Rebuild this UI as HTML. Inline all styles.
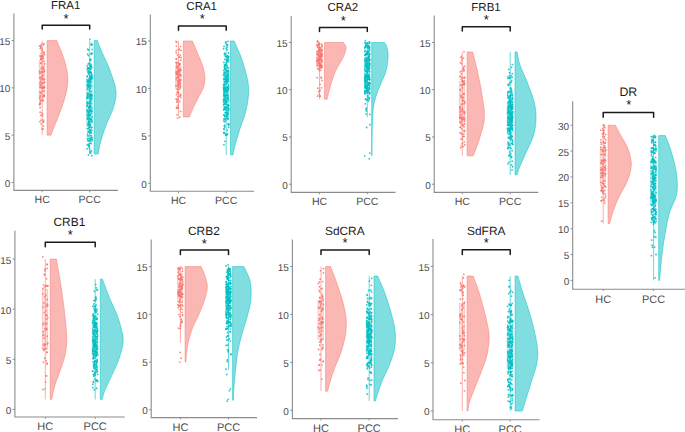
<!DOCTYPE html>
<html><head><meta charset="utf-8"><style>
html,body{margin:0;padding:0;background:#fff;}
body{width:685px;height:432px;overflow:hidden;}
svg{display:block;}
text{font-family:"Liberation Sans",sans-serif;text-rendering:geometricPrecision;}
.tk{font-size:10px;fill:#4d4d4d;}
.xl{fill:#4d4d4d;}
.tt{fill:#1a1a1a;}
.st{font-size:13px;fill:#111;}
</style></head><body>
<svg width="685" height="432" viewBox="0 0 685 432">
<rect width="685" height="432" fill="#fff"/>
<path d="M47.10,40.60 L56.80,40.60 L57.45,42.18 L58.11,43.75 L58.77,45.33 L59.43,46.90 L60.09,48.48 L60.73,50.05 L61.36,51.63 L61.96,53.20 L62.53,54.78 L63.09,56.36 L63.63,57.93 L64.14,59.51 L64.64,61.08 L65.10,62.66 L65.53,64.23 L65.92,65.81 L66.27,67.38 L66.60,68.96 L66.90,70.54 L67.17,72.11 L67.40,73.69 L67.58,75.26 L67.71,76.84 L67.79,78.41 L67.81,79.99 L67.77,81.56 L67.67,83.14 L67.53,84.72 L67.35,86.29 L67.12,87.87 L66.86,89.44 L66.58,91.02 L66.25,92.59 L65.87,94.17 L65.45,95.74 L65.00,97.32 L64.53,98.90 L64.04,100.47 L63.53,102.05 L63.03,103.62 L62.50,105.20 L61.95,106.77 L61.38,108.35 L60.80,109.92 L60.21,111.50 L59.61,113.08 L59.01,114.65 L58.40,116.23 L57.78,117.80 L57.14,119.38 L56.50,120.95 L55.85,122.53 L55.21,124.10 L54.57,125.68 L53.95,127.26 L53.34,128.83 L52.75,130.41 L52.17,131.98 L51.59,133.56 L51.00,135.13 L47.10,135.13 Z" fill="#FBB7B3" stroke="#F8766D" stroke-width="0.5"/>
<path d="M94.20,40.60 L97.30,40.60 L98.06,42.49 L98.82,44.38 L99.58,46.27 L100.34,48.16 L101.11,50.05 L101.90,51.94 L102.71,53.83 L103.56,55.73 L104.45,57.62 L105.34,59.51 L106.24,61.40 L107.11,63.29 L107.95,65.18 L108.74,67.07 L109.46,68.96 L110.14,70.85 L110.82,72.74 L111.51,74.63 L112.19,76.52 L112.84,78.41 L113.47,80.30 L114.05,82.19 L114.59,84.09 L115.06,85.98 L115.46,87.87 L115.77,89.76 L116.00,91.65 L116.09,93.54 L116.03,95.43 L115.84,97.32 L115.54,99.21 L115.14,101.10 L114.68,102.99 L114.16,104.88 L113.62,106.77 L113.06,108.66 L112.41,110.55 L111.68,112.45 L110.87,114.34 L110.02,116.23 L109.15,118.12 L108.28,120.01 L107.43,121.90 L106.64,123.79 L105.92,125.68 L105.22,127.57 L104.55,129.46 L103.89,131.35 L103.25,133.24 L102.64,135.13 L102.04,137.02 L101.47,138.91 L100.91,140.81 L100.40,142.70 L99.95,144.59 L99.56,146.48 L99.21,148.37 L98.87,150.26 L98.51,152.15 L98.20,154.04 L94.20,154.04 Z" fill="#80DEE0" stroke="#00BFC4" stroke-width="0.5"/>
<line x1="42.20" y1="40.60" x2="42.20" y2="135.13" stroke="#F8766D" stroke-width="0.6"/>
<rect x="39.10" y="60.04" width="5.6" height="37.45" fill="#F8766D" fill-opacity="0.22" stroke="#F8766D" stroke-width="0.5" stroke-opacity="0.5"/>
<g fill="#F8766D" fill-opacity="0.85"><circle cx="40.38" cy="101.91" r="0.9"/><circle cx="42.57" cy="72.35" r="0.9"/><circle cx="40.07" cy="87.24" r="0.9"/><circle cx="43.18" cy="129.00" r="0.9"/><circle cx="39.98" cy="92.27" r="0.9"/><circle cx="42.90" cy="121.55" r="0.9"/><circle cx="40.04" cy="73.60" r="0.9"/><circle cx="39.95" cy="78.31" r="0.9"/><circle cx="41.96" cy="43.85" r="0.9"/><circle cx="42.48" cy="51.32" r="0.9"/><circle cx="40.99" cy="123.81" r="0.9"/><circle cx="42.34" cy="76.37" r="0.9"/><circle cx="40.17" cy="85.47" r="0.9"/><circle cx="39.86" cy="72.67" r="0.9"/><circle cx="41.22" cy="93.51" r="0.9"/><circle cx="43.55" cy="61.35" r="0.9"/><circle cx="42.20" cy="87.49" r="0.9"/><circle cx="41.40" cy="69.18" r="0.9"/><circle cx="40.90" cy="45.50" r="0.9"/><circle cx="43.41" cy="95.29" r="0.9"/><circle cx="40.59" cy="63.01" r="0.9"/><circle cx="44.46" cy="54.83" r="0.9"/><circle cx="43.86" cy="69.83" r="0.9"/><circle cx="42.17" cy="78.23" r="0.9"/><circle cx="41.64" cy="55.69" r="0.9"/><circle cx="43.18" cy="87.31" r="0.9"/><circle cx="41.38" cy="71.88" r="0.9"/><circle cx="43.27" cy="56.59" r="0.9"/><circle cx="41.70" cy="99.61" r="0.9"/><circle cx="39.88" cy="121.56" r="0.9"/><circle cx="39.97" cy="96.67" r="0.9"/><circle cx="40.93" cy="85.29" r="0.9"/><circle cx="40.04" cy="55.55" r="0.9"/><circle cx="44.13" cy="43.53" r="0.9"/><circle cx="41.07" cy="120.08" r="0.9"/><circle cx="41.12" cy="79.69" r="0.9"/><circle cx="40.42" cy="100.56" r="0.9"/><circle cx="40.97" cy="83.52" r="0.9"/><circle cx="44.66" cy="70.92" r="0.9"/><circle cx="40.87" cy="47.19" r="0.9"/><circle cx="41.21" cy="53.36" r="0.9"/><circle cx="39.61" cy="98.78" r="0.9"/><circle cx="42.07" cy="129.23" r="0.9"/><circle cx="40.65" cy="115.37" r="0.9"/><circle cx="39.63" cy="104.46" r="0.9"/><circle cx="40.07" cy="77.71" r="0.9"/><circle cx="39.82" cy="103.69" r="0.9"/><circle cx="41.18" cy="56.55" r="0.9"/><circle cx="42.65" cy="90.90" r="0.9"/><circle cx="43.50" cy="126.03" r="0.9"/><circle cx="43.32" cy="100.38" r="0.9"/><circle cx="41.63" cy="57.86" r="0.9"/><circle cx="44.72" cy="87.38" r="0.9"/><circle cx="43.37" cy="82.89" r="0.9"/><circle cx="39.83" cy="83.12" r="0.9"/><circle cx="44.24" cy="52.73" r="0.9"/><circle cx="43.42" cy="82.84" r="0.9"/><circle cx="40.32" cy="103.82" r="0.9"/><circle cx="42.22" cy="56.33" r="0.9"/><circle cx="43.78" cy="52.49" r="0.9"/><circle cx="42.64" cy="55.32" r="0.9"/><circle cx="43.15" cy="100.31" r="0.9"/><circle cx="40.80" cy="47.64" r="0.9"/><circle cx="40.29" cy="45.72" r="0.9"/><circle cx="40.15" cy="112.20" r="0.9"/><circle cx="42.50" cy="115.74" r="0.9"/><circle cx="42.86" cy="75.01" r="0.9"/><circle cx="42.14" cy="58.78" r="0.9"/><circle cx="43.75" cy="71.86" r="0.9"/><circle cx="42.22" cy="48.91" r="0.9"/><circle cx="43.03" cy="66.93" r="0.9"/><circle cx="43.43" cy="44.83" r="0.9"/><circle cx="39.99" cy="98.65" r="0.9"/><circle cx="43.39" cy="68.45" r="0.9"/><circle cx="43.45" cy="120.16" r="0.9"/><circle cx="42.17" cy="50.33" r="0.9"/><circle cx="42.09" cy="100.86" r="0.9"/><circle cx="43.59" cy="122.02" r="0.9"/><circle cx="42.94" cy="87.99" r="0.9"/><circle cx="40.37" cy="95.66" r="0.9"/><circle cx="43.46" cy="58.25" r="0.9"/><circle cx="42.55" cy="114.37" r="0.9"/><circle cx="39.92" cy="103.13" r="0.9"/><circle cx="43.09" cy="78.79" r="0.9"/><circle cx="43.11" cy="96.67" r="0.9"/><circle cx="42.29" cy="87.93" r="0.9"/><circle cx="42.02" cy="88.02" r="0.9"/><circle cx="44.25" cy="95.40" r="0.9"/><circle cx="44.69" cy="63.86" r="0.9"/><circle cx="39.69" cy="104.57" r="0.9"/><circle cx="43.86" cy="79.70" r="0.9"/><circle cx="41.94" cy="113.09" r="0.9"/><circle cx="40.69" cy="59.35" r="0.9"/><circle cx="40.70" cy="81.52" r="0.9"/><circle cx="40.34" cy="48.72" r="0.9"/><circle cx="44.55" cy="79.52" r="0.9"/><circle cx="43.87" cy="86.66" r="0.9"/><circle cx="44.21" cy="91.10" r="0.9"/><circle cx="40.80" cy="87.46" r="0.9"/><circle cx="42.13" cy="72.00" r="0.9"/><circle cx="39.62" cy="46.12" r="0.9"/><circle cx="41.94" cy="83.48" r="0.9"/><circle cx="40.33" cy="56.70" r="0.9"/><circle cx="41.24" cy="58.90" r="0.9"/><circle cx="39.61" cy="71.15" r="0.9"/><circle cx="43.96" cy="54.05" r="0.9"/><circle cx="44.42" cy="96.16" r="0.9"/><circle cx="44.29" cy="87.70" r="0.9"/><circle cx="41.54" cy="67.53" r="0.9"/><circle cx="44.79" cy="82.20" r="0.9"/><circle cx="41.48" cy="76.60" r="0.9"/><circle cx="41.03" cy="63.43" r="0.9"/><circle cx="40.13" cy="107.48" r="0.9"/><circle cx="41.09" cy="92.50" r="0.9"/><circle cx="40.90" cy="59.17" r="0.9"/></g>
<line x1="89.70" y1="40.60" x2="89.70" y2="154.04" stroke="#00BFC4" stroke-width="0.6"/>
<rect x="86.60" y="78.93" width="5.6" height="44.36" fill="#00BFC4" fill-opacity="0.22" stroke="#00BFC4" stroke-width="0.5" stroke-opacity="0.5"/>
<g fill="#00BFC4" fill-opacity="0.85"><circle cx="87.98" cy="96.46" r="0.9"/><circle cx="91.12" cy="111.19" r="0.9"/><circle cx="87.76" cy="82.71" r="0.9"/><circle cx="91.70" cy="74.05" r="0.9"/><circle cx="88.10" cy="72.20" r="0.9"/><circle cx="90.76" cy="66.51" r="0.9"/><circle cx="87.90" cy="123.72" r="0.9"/><circle cx="88.39" cy="49.99" r="0.9"/><circle cx="89.82" cy="102.59" r="0.9"/><circle cx="88.81" cy="122.20" r="0.9"/><circle cx="92.17" cy="78.20" r="0.9"/><circle cx="87.63" cy="87.93" r="0.9"/><circle cx="87.63" cy="135.78" r="0.9"/><circle cx="92.22" cy="95.81" r="0.9"/><circle cx="90.91" cy="103.40" r="0.9"/><circle cx="88.12" cy="131.35" r="0.9"/><circle cx="87.66" cy="117.08" r="0.9"/><circle cx="89.12" cy="129.82" r="0.9"/><circle cx="89.17" cy="87.61" r="0.9"/><circle cx="90.71" cy="69.00" r="0.9"/><circle cx="90.39" cy="107.32" r="0.9"/><circle cx="87.84" cy="110.64" r="0.9"/><circle cx="89.20" cy="145.50" r="0.9"/><circle cx="91.82" cy="44.70" r="0.9"/><circle cx="90.08" cy="95.38" r="0.9"/><circle cx="89.29" cy="124.99" r="0.9"/><circle cx="90.86" cy="106.32" r="0.9"/><circle cx="91.13" cy="53.77" r="0.9"/><circle cx="91.53" cy="86.31" r="0.9"/><circle cx="90.44" cy="109.91" r="0.9"/><circle cx="88.73" cy="140.87" r="0.9"/><circle cx="87.61" cy="95.28" r="0.9"/><circle cx="91.17" cy="79.27" r="0.9"/><circle cx="90.37" cy="103.72" r="0.9"/><circle cx="89.30" cy="81.09" r="0.9"/><circle cx="90.33" cy="140.09" r="0.9"/><circle cx="90.61" cy="79.18" r="0.9"/><circle cx="88.05" cy="140.36" r="0.9"/><circle cx="91.15" cy="95.24" r="0.9"/><circle cx="89.65" cy="107.05" r="0.9"/><circle cx="87.30" cy="85.59" r="0.9"/><circle cx="87.94" cy="118.08" r="0.9"/><circle cx="91.99" cy="127.29" r="0.9"/><circle cx="87.63" cy="118.70" r="0.9"/><circle cx="89.91" cy="96.16" r="0.9"/><circle cx="89.76" cy="105.52" r="0.9"/><circle cx="91.41" cy="78.20" r="0.9"/><circle cx="89.23" cy="125.52" r="0.9"/><circle cx="88.19" cy="114.54" r="0.9"/><circle cx="89.14" cy="74.97" r="0.9"/><circle cx="87.74" cy="93.74" r="0.9"/><circle cx="88.95" cy="131.69" r="0.9"/><circle cx="88.53" cy="121.21" r="0.9"/><circle cx="87.17" cy="98.31" r="0.9"/><circle cx="89.29" cy="127.47" r="0.9"/><circle cx="88.93" cy="80.03" r="0.9"/><circle cx="88.27" cy="135.93" r="0.9"/><circle cx="91.99" cy="137.77" r="0.9"/><circle cx="88.24" cy="145.34" r="0.9"/><circle cx="89.14" cy="72.72" r="0.9"/><circle cx="87.77" cy="67.65" r="0.9"/><circle cx="91.31" cy="77.83" r="0.9"/><circle cx="89.54" cy="111.24" r="0.9"/><circle cx="88.28" cy="131.94" r="0.9"/><circle cx="88.94" cy="121.43" r="0.9"/><circle cx="91.36" cy="43.67" r="0.9"/><circle cx="89.53" cy="114.87" r="0.9"/><circle cx="89.95" cy="114.10" r="0.9"/><circle cx="91.44" cy="133.05" r="0.9"/><circle cx="91.52" cy="53.74" r="0.9"/><circle cx="89.06" cy="108.98" r="0.9"/><circle cx="89.32" cy="69.03" r="0.9"/><circle cx="87.11" cy="148.70" r="0.9"/><circle cx="88.56" cy="70.86" r="0.9"/><circle cx="88.67" cy="115.70" r="0.9"/><circle cx="89.33" cy="123.44" r="0.9"/><circle cx="90.53" cy="119.00" r="0.9"/><circle cx="91.93" cy="44.83" r="0.9"/><circle cx="87.40" cy="125.46" r="0.9"/><circle cx="91.81" cy="108.42" r="0.9"/><circle cx="87.83" cy="103.20" r="0.9"/><circle cx="90.39" cy="88.18" r="0.9"/><circle cx="87.16" cy="114.97" r="0.9"/><circle cx="90.51" cy="66.86" r="0.9"/><circle cx="87.63" cy="133.89" r="0.9"/><circle cx="88.31" cy="124.26" r="0.9"/><circle cx="88.90" cy="119.25" r="0.9"/><circle cx="91.80" cy="122.17" r="0.9"/><circle cx="87.97" cy="140.66" r="0.9"/><circle cx="90.26" cy="71.77" r="0.9"/><circle cx="90.58" cy="125.02" r="0.9"/><circle cx="91.20" cy="81.56" r="0.9"/><circle cx="88.13" cy="67.99" r="0.9"/><circle cx="89.86" cy="77.16" r="0.9"/><circle cx="89.38" cy="87.35" r="0.9"/><circle cx="89.99" cy="71.78" r="0.9"/><circle cx="88.32" cy="128.22" r="0.9"/><circle cx="89.66" cy="91.19" r="0.9"/><circle cx="89.53" cy="111.33" r="0.9"/><circle cx="89.66" cy="96.50" r="0.9"/><circle cx="89.91" cy="39.36" r="0.9"/><circle cx="87.13" cy="98.06" r="0.9"/><circle cx="89.53" cy="149.07" r="0.9"/><circle cx="90.56" cy="138.39" r="0.9"/><circle cx="89.05" cy="125.06" r="0.9"/><circle cx="92.10" cy="49.41" r="0.9"/><circle cx="90.41" cy="85.56" r="0.9"/><circle cx="87.25" cy="128.67" r="0.9"/><circle cx="90.65" cy="135.31" r="0.9"/><circle cx="88.82" cy="122.12" r="0.9"/><circle cx="89.76" cy="80.21" r="0.9"/><circle cx="91.77" cy="155.66" r="0.9"/><circle cx="90.83" cy="76.31" r="0.9"/><circle cx="88.86" cy="116.37" r="0.9"/><circle cx="89.00" cy="147.02" r="0.9"/><circle cx="89.83" cy="107.51" r="0.9"/><circle cx="88.20" cy="81.94" r="0.9"/><circle cx="89.30" cy="107.22" r="0.9"/><circle cx="91.40" cy="120.44" r="0.9"/><circle cx="91.40" cy="119.21" r="0.9"/><circle cx="89.72" cy="114.95" r="0.9"/><circle cx="89.73" cy="109.81" r="0.9"/><circle cx="90.50" cy="69.63" r="0.9"/><circle cx="88.82" cy="107.11" r="0.9"/><circle cx="88.66" cy="107.42" r="0.9"/><circle cx="90.40" cy="99.98" r="0.9"/><circle cx="87.31" cy="79.97" r="0.9"/><circle cx="91.71" cy="111.69" r="0.9"/><circle cx="87.36" cy="138.74" r="0.9"/><circle cx="87.13" cy="96.85" r="0.9"/><circle cx="91.89" cy="141.02" r="0.9"/><circle cx="90.52" cy="129.85" r="0.9"/><circle cx="91.83" cy="98.58" r="0.9"/><circle cx="90.31" cy="59.71" r="0.9"/><circle cx="90.72" cy="64.30" r="0.9"/><circle cx="90.64" cy="109.95" r="0.9"/><circle cx="90.57" cy="60.24" r="0.9"/><circle cx="91.07" cy="131.78" r="0.9"/><circle cx="88.04" cy="98.18" r="0.9"/><circle cx="91.13" cy="137.50" r="0.9"/><circle cx="90.51" cy="72.63" r="0.9"/><circle cx="91.38" cy="66.33" r="0.9"/><circle cx="90.02" cy="60.46" r="0.9"/><circle cx="88.67" cy="86.52" r="0.9"/><circle cx="88.76" cy="83.34" r="0.9"/><circle cx="90.44" cy="103.68" r="0.9"/><circle cx="87.38" cy="105.32" r="0.9"/><circle cx="87.30" cy="105.73" r="0.9"/><circle cx="91.31" cy="98.04" r="0.9"/><circle cx="91.88" cy="67.76" r="0.9"/><circle cx="87.17" cy="102.76" r="0.9"/><circle cx="90.18" cy="97.63" r="0.9"/><circle cx="92.20" cy="139.62" r="0.9"/><circle cx="89.24" cy="146.12" r="0.9"/><circle cx="90.45" cy="97.96" r="0.9"/><circle cx="87.89" cy="84.87" r="0.9"/><circle cx="87.12" cy="69.69" r="0.9"/><circle cx="87.73" cy="93.11" r="0.9"/><circle cx="87.56" cy="94.57" r="0.9"/><circle cx="87.77" cy="49.18" r="0.9"/><circle cx="90.84" cy="72.60" r="0.9"/><circle cx="90.91" cy="100.19" r="0.9"/><circle cx="87.36" cy="144.90" r="0.9"/><circle cx="90.81" cy="66.04" r="0.9"/><circle cx="90.89" cy="64.11" r="0.9"/><circle cx="90.37" cy="95.76" r="0.9"/><circle cx="89.50" cy="127.71" r="0.9"/><circle cx="88.42" cy="93.74" r="0.9"/><circle cx="90.83" cy="152.91" r="0.9"/><circle cx="87.18" cy="76.00" r="0.9"/><circle cx="91.35" cy="143.61" r="0.9"/><circle cx="88.72" cy="80.42" r="0.9"/><circle cx="87.96" cy="85.99" r="0.9"/><circle cx="89.63" cy="85.34" r="0.9"/><circle cx="89.01" cy="63.08" r="0.9"/><circle cx="89.38" cy="112.07" r="0.9"/><circle cx="87.85" cy="102.01" r="0.9"/><circle cx="88.99" cy="68.78" r="0.9"/><circle cx="90.37" cy="82.04" r="0.9"/><circle cx="89.11" cy="85.79" r="0.9"/><circle cx="92.01" cy="116.80" r="0.9"/><circle cx="90.05" cy="151.50" r="0.9"/><circle cx="87.42" cy="81.20" r="0.9"/><circle cx="90.76" cy="93.84" r="0.9"/><circle cx="88.83" cy="138.40" r="0.9"/><circle cx="92.18" cy="77.88" r="0.9"/><circle cx="90.23" cy="143.17" r="0.9"/><circle cx="89.33" cy="126.18" r="0.9"/><circle cx="89.06" cy="86.06" r="0.9"/><circle cx="90.23" cy="80.79" r="0.9"/><circle cx="91.30" cy="127.76" r="0.9"/><circle cx="87.11" cy="109.92" r="0.9"/><circle cx="89.30" cy="89.71" r="0.9"/><circle cx="91.34" cy="78.39" r="0.9"/><circle cx="87.32" cy="105.91" r="0.9"/><circle cx="91.32" cy="45.01" r="0.9"/><circle cx="90.07" cy="132.82" r="0.9"/><circle cx="91.53" cy="94.62" r="0.9"/><circle cx="90.66" cy="59.19" r="0.9"/><circle cx="88.90" cy="121.53" r="0.9"/><circle cx="89.98" cy="67.65" r="0.9"/><circle cx="88.14" cy="68.33" r="0.9"/><circle cx="91.94" cy="130.07" r="0.9"/><circle cx="90.26" cy="126.58" r="0.9"/><circle cx="89.52" cy="117.81" r="0.9"/><circle cx="88.42" cy="73.62" r="0.9"/><circle cx="91.22" cy="73.56" r="0.9"/><circle cx="87.56" cy="89.31" r="0.9"/><circle cx="91.12" cy="66.26" r="0.9"/><circle cx="90.11" cy="121.47" r="0.9"/><circle cx="91.70" cy="54.07" r="0.9"/><circle cx="89.58" cy="123.95" r="0.9"/><circle cx="88.08" cy="71.57" r="0.9"/><circle cx="88.04" cy="68.14" r="0.9"/><circle cx="88.99" cy="82.09" r="0.9"/><circle cx="89.19" cy="78.47" r="0.9"/><circle cx="87.87" cy="103.62" r="0.9"/><circle cx="92.29" cy="75.69" r="0.9"/><circle cx="87.65" cy="103.61" r="0.9"/><circle cx="91.19" cy="91.49" r="0.9"/><circle cx="90.21" cy="130.96" r="0.9"/><circle cx="89.80" cy="140.63" r="0.9"/><circle cx="87.27" cy="111.86" r="0.9"/><circle cx="91.60" cy="150.87" r="0.9"/><circle cx="90.05" cy="76.96" r="0.9"/><circle cx="91.15" cy="75.43" r="0.9"/><circle cx="92.02" cy="111.15" r="0.9"/><circle cx="91.36" cy="139.00" r="0.9"/><circle cx="88.42" cy="144.22" r="0.9"/><circle cx="88.15" cy="84.09" r="0.9"/><circle cx="87.54" cy="85.20" r="0.9"/><circle cx="90.00" cy="140.40" r="0.9"/><circle cx="89.48" cy="65.33" r="0.9"/><circle cx="91.83" cy="120.56" r="0.9"/><circle cx="90.21" cy="152.31" r="0.9"/><circle cx="87.72" cy="119.12" r="0.9"/><circle cx="88.44" cy="111.89" r="0.9"/><circle cx="90.43" cy="101.68" r="0.9"/><circle cx="90.58" cy="115.37" r="0.9"/><circle cx="89.43" cy="95.15" r="0.9"/><circle cx="92.12" cy="53.16" r="0.9"/><circle cx="88.25" cy="63.92" r="0.9"/><circle cx="88.43" cy="154.82" r="0.9"/><circle cx="91.79" cy="95.76" r="0.9"/><circle cx="91.45" cy="135.93" r="0.9"/><circle cx="91.19" cy="113.35" r="0.9"/><circle cx="90.46" cy="118.83" r="0.9"/><circle cx="87.39" cy="76.91" r="0.9"/><circle cx="91.03" cy="72.21" r="0.9"/><circle cx="90.62" cy="84.06" r="0.9"/><circle cx="90.18" cy="106.91" r="0.9"/><circle cx="87.65" cy="54.13" r="0.9"/><circle cx="88.44" cy="55.60" r="0.9"/><circle cx="89.60" cy="132.73" r="0.9"/><circle cx="88.34" cy="113.24" r="0.9"/><circle cx="90.62" cy="130.58" r="0.9"/><circle cx="90.83" cy="95.64" r="0.9"/><circle cx="87.29" cy="65.95" r="0.9"/><circle cx="88.25" cy="111.80" r="0.9"/><circle cx="91.61" cy="76.51" r="0.9"/></g>
<path d="M13.90,13.60 V190.40 H118.00" fill="none" stroke="#8c8c8c" stroke-width="1.1"/>
<line x1="11.70" y1="182.40" x2="13.90" y2="182.40" stroke="#8c8c8c" stroke-width="1"/>
<text x="10.40" y="186.80" text-anchor="end" class="tk">0</text>
<line x1="11.70" y1="135.13" x2="13.90" y2="135.13" stroke="#8c8c8c" stroke-width="1"/>
<text x="10.40" y="139.53" text-anchor="end" class="tk">5</text>
<line x1="11.70" y1="87.87" x2="13.90" y2="87.87" stroke="#8c8c8c" stroke-width="1"/>
<text x="10.40" y="92.27" text-anchor="end" class="tk">10</text>
<line x1="11.70" y1="40.60" x2="13.90" y2="40.60" stroke="#8c8c8c" stroke-width="1"/>
<text x="10.40" y="45.00" text-anchor="end" class="tk">15</text>
<line x1="42.20" y1="190.40" x2="42.20" y2="192.20" stroke="#8c8c8c" stroke-width="1"/>
<text x="42.20" y="202.80" text-anchor="middle" class="xl" font-size="10.50">HC</text>
<line x1="89.70" y1="190.40" x2="89.70" y2="192.20" stroke="#8c8c8c" stroke-width="1"/>
<text x="89.70" y="202.80" text-anchor="middle" class="xl" font-size="10.50">PCC</text>
<text x="65.70" y="9.10" text-anchor="middle" class="tt" font-size="11.50">FRA1</text>
<text x="66.00" y="22.70" text-anchor="middle" class="st">*</text>
<path d="M42.20,29.10 V25.20 H89.70 V29.10" fill="none" stroke="#1a1a1a" stroke-width="1.5" stroke-linecap="round" stroke-linejoin="round"/>
<path d="M183.30,41.00 L192.40,41.00 L192.94,42.26 L193.48,43.53 L194.02,44.79 L194.57,46.06 L195.11,47.32 L195.65,48.59 L196.19,49.85 L196.73,51.12 L197.26,52.38 L197.79,53.65 L198.31,54.91 L198.83,56.18 L199.36,57.44 L199.90,58.71 L200.43,59.97 L200.96,61.24 L201.47,62.50 L201.95,63.77 L202.41,65.03 L202.83,66.30 L203.21,67.56 L203.56,68.83 L203.88,70.09 L204.17,71.36 L204.41,72.62 L204.61,73.89 L204.77,75.15 L204.87,76.42 L204.91,77.68 L204.90,78.95 L204.84,80.21 L204.74,81.48 L204.58,82.74 L204.37,84.01 L204.09,85.27 L203.76,86.54 L203.36,87.80 L202.86,89.07 L202.28,90.33 L201.62,91.60 L200.93,92.86 L200.21,94.13 L199.50,95.39 L198.81,96.66 L198.16,97.92 L197.52,99.18 L196.88,100.45 L196.23,101.71 L195.60,102.98 L194.96,104.24 L194.34,105.51 L193.74,106.77 L193.15,108.04 L192.59,109.30 L192.04,110.57 L191.51,111.83 L190.98,113.10 L190.46,114.36 L189.93,115.63 L189.40,116.89 L183.30,116.89 Z" fill="#FBB7B3" stroke="#F8766D" stroke-width="0.5"/>
<path d="M230.50,41.00 L234.20,41.00 L235.01,42.90 L235.84,44.79 L236.68,46.69 L237.51,48.59 L238.34,50.49 L239.15,52.38 L239.94,54.28 L240.69,56.18 L241.40,58.08 L242.08,59.97 L242.71,61.87 L243.31,63.77 L243.88,65.67 L244.42,67.56 L244.94,69.46 L245.43,71.36 L245.91,73.25 L246.39,75.15 L246.86,77.05 L247.30,78.95 L247.70,80.84 L248.05,82.74 L248.32,84.64 L248.51,86.54 L248.62,88.43 L248.66,90.33 L248.62,92.23 L248.53,94.13 L248.39,96.02 L248.21,97.92 L247.98,99.82 L247.73,101.71 L247.42,103.61 L247.06,105.51 L246.66,107.41 L246.22,109.30 L245.75,111.20 L245.24,113.10 L244.72,115.00 L244.15,116.89 L243.52,118.79 L242.85,120.69 L242.17,122.59 L241.48,124.48 L240.80,126.38 L240.15,128.28 L239.53,130.17 L238.93,132.07 L238.33,133.97 L237.74,135.87 L237.16,137.76 L236.60,139.66 L236.05,141.56 L235.52,143.46 L235.03,145.35 L234.57,147.25 L234.14,149.15 L233.73,151.05 L233.33,152.94 L233.10,154.84 L230.50,154.84 Z" fill="#80DEE0" stroke="#00BFC4" stroke-width="0.5"/>
<line x1="178.50" y1="41.00" x2="178.50" y2="116.89" stroke="#F8766D" stroke-width="0.6"/>
<rect x="175.40" y="66.18" width="5.6" height="22.55" fill="#F8766D" fill-opacity="0.22" stroke="#F8766D" stroke-width="0.5" stroke-opacity="0.5"/>
<g fill="#F8766D" fill-opacity="0.85"><circle cx="177.93" cy="85.16" r="0.9"/><circle cx="176.82" cy="67.02" r="0.9"/><circle cx="177.57" cy="99.05" r="0.9"/><circle cx="176.47" cy="62.34" r="0.9"/><circle cx="177.78" cy="96.67" r="0.9"/><circle cx="177.44" cy="107.80" r="0.9"/><circle cx="177.52" cy="54.89" r="0.9"/><circle cx="176.56" cy="64.82" r="0.9"/><circle cx="177.37" cy="81.26" r="0.9"/><circle cx="180.63" cy="95.61" r="0.9"/><circle cx="180.49" cy="46.62" r="0.9"/><circle cx="176.59" cy="63.16" r="0.9"/><circle cx="176.05" cy="41.50" r="0.9"/><circle cx="179.35" cy="56.58" r="0.9"/><circle cx="178.05" cy="105.26" r="0.9"/><circle cx="179.54" cy="49.26" r="0.9"/><circle cx="180.30" cy="74.46" r="0.9"/><circle cx="179.17" cy="64.88" r="0.9"/><circle cx="176.50" cy="108.29" r="0.9"/><circle cx="179.72" cy="69.38" r="0.9"/><circle cx="176.11" cy="98.99" r="0.9"/><circle cx="176.74" cy="72.30" r="0.9"/><circle cx="177.48" cy="102.29" r="0.9"/><circle cx="176.10" cy="62.47" r="0.9"/><circle cx="179.22" cy="64.13" r="0.9"/><circle cx="180.27" cy="54.93" r="0.9"/><circle cx="179.63" cy="81.01" r="0.9"/><circle cx="178.16" cy="49.56" r="0.9"/><circle cx="177.72" cy="92.16" r="0.9"/><circle cx="180.24" cy="86.99" r="0.9"/><circle cx="177.39" cy="85.92" r="0.9"/><circle cx="180.34" cy="87.28" r="0.9"/><circle cx="176.15" cy="79.54" r="0.9"/><circle cx="176.48" cy="74.29" r="0.9"/><circle cx="176.99" cy="100.46" r="0.9"/><circle cx="179.80" cy="117.20" r="0.9"/><circle cx="179.51" cy="64.51" r="0.9"/><circle cx="179.79" cy="71.08" r="0.9"/><circle cx="177.36" cy="66.13" r="0.9"/><circle cx="180.82" cy="79.91" r="0.9"/><circle cx="180.74" cy="94.47" r="0.9"/><circle cx="179.74" cy="84.04" r="0.9"/><circle cx="179.17" cy="72.27" r="0.9"/><circle cx="176.18" cy="58.99" r="0.9"/><circle cx="178.13" cy="87.32" r="0.9"/><circle cx="180.73" cy="60.26" r="0.9"/><circle cx="179.86" cy="101.51" r="0.9"/><circle cx="179.55" cy="96.06" r="0.9"/><circle cx="177.26" cy="68.59" r="0.9"/><circle cx="180.94" cy="75.75" r="0.9"/><circle cx="178.73" cy="85.60" r="0.9"/><circle cx="176.21" cy="50.65" r="0.9"/><circle cx="178.04" cy="70.07" r="0.9"/><circle cx="177.51" cy="67.68" r="0.9"/><circle cx="179.58" cy="74.67" r="0.9"/><circle cx="177.14" cy="71.36" r="0.9"/><circle cx="178.58" cy="77.75" r="0.9"/><circle cx="180.77" cy="97.45" r="0.9"/><circle cx="177.46" cy="73.97" r="0.9"/><circle cx="176.64" cy="107.09" r="0.9"/><circle cx="177.63" cy="92.64" r="0.9"/><circle cx="178.75" cy="93.38" r="0.9"/><circle cx="176.78" cy="72.58" r="0.9"/><circle cx="179.01" cy="82.16" r="0.9"/><circle cx="179.88" cy="68.31" r="0.9"/><circle cx="176.50" cy="94.65" r="0.9"/><circle cx="177.77" cy="89.65" r="0.9"/><circle cx="176.21" cy="52.86" r="0.9"/><circle cx="176.92" cy="73.38" r="0.9"/><circle cx="178.23" cy="107.28" r="0.9"/><circle cx="177.59" cy="83.70" r="0.9"/><circle cx="177.79" cy="92.22" r="0.9"/><circle cx="176.27" cy="73.18" r="0.9"/><circle cx="181.06" cy="57.67" r="0.9"/><circle cx="176.34" cy="46.11" r="0.9"/><circle cx="181.00" cy="50.40" r="0.9"/><circle cx="176.47" cy="58.85" r="0.9"/><circle cx="178.16" cy="81.05" r="0.9"/><circle cx="178.72" cy="76.56" r="0.9"/><circle cx="180.68" cy="69.90" r="0.9"/><circle cx="179.16" cy="79.84" r="0.9"/><circle cx="179.29" cy="63.57" r="0.9"/><circle cx="177.18" cy="89.51" r="0.9"/><circle cx="176.04" cy="85.99" r="0.9"/><circle cx="180.27" cy="80.26" r="0.9"/><circle cx="176.87" cy="102.05" r="0.9"/><circle cx="180.30" cy="70.08" r="0.9"/><circle cx="176.78" cy="42.35" r="0.9"/><circle cx="180.22" cy="83.01" r="0.9"/><circle cx="177.60" cy="118.06" r="0.9"/><circle cx="180.19" cy="75.14" r="0.9"/><circle cx="177.82" cy="77.30" r="0.9"/><circle cx="177.82" cy="62.81" r="0.9"/><circle cx="177.14" cy="92.62" r="0.9"/><circle cx="178.85" cy="64.75" r="0.9"/><circle cx="180.16" cy="85.18" r="0.9"/><circle cx="180.61" cy="70.54" r="0.9"/><circle cx="178.47" cy="83.49" r="0.9"/><circle cx="176.72" cy="77.91" r="0.9"/><circle cx="178.92" cy="80.62" r="0.9"/><circle cx="179.48" cy="80.17" r="0.9"/><circle cx="178.20" cy="99.68" r="0.9"/><circle cx="176.37" cy="71.95" r="0.9"/><circle cx="178.19" cy="70.52" r="0.9"/><circle cx="179.66" cy="88.78" r="0.9"/><circle cx="180.27" cy="63.96" r="0.9"/><circle cx="179.99" cy="79.58" r="0.9"/><circle cx="177.37" cy="75.54" r="0.9"/><circle cx="178.58" cy="73.79" r="0.9"/><circle cx="177.66" cy="108.06" r="0.9"/><circle cx="179.36" cy="57.21" r="0.9"/><circle cx="180.60" cy="111.40" r="0.9"/><circle cx="177.44" cy="77.60" r="0.9"/><circle cx="178.83" cy="71.32" r="0.9"/><circle cx="176.92" cy="114.78" r="0.9"/></g>
<line x1="226.20" y1="41.00" x2="226.20" y2="154.84" stroke="#00BFC4" stroke-width="0.6"/>
<rect x="223.10" y="74.65" width="5.6" height="33.74" fill="#00BFC4" fill-opacity="0.22" stroke="#00BFC4" stroke-width="0.5" stroke-opacity="0.5"/>
<g fill="#00BFC4" fill-opacity="0.85"><circle cx="224.34" cy="115.43" r="0.9"/><circle cx="226.72" cy="65.24" r="0.9"/><circle cx="224.84" cy="74.79" r="0.9"/><circle cx="224.79" cy="81.82" r="0.9"/><circle cx="227.70" cy="75.55" r="0.9"/><circle cx="226.90" cy="110.98" r="0.9"/><circle cx="223.80" cy="109.98" r="0.9"/><circle cx="228.68" cy="88.65" r="0.9"/><circle cx="223.80" cy="128.81" r="0.9"/><circle cx="224.85" cy="91.72" r="0.9"/><circle cx="224.74" cy="98.06" r="0.9"/><circle cx="228.44" cy="86.98" r="0.9"/><circle cx="228.38" cy="109.87" r="0.9"/><circle cx="224.40" cy="95.18" r="0.9"/><circle cx="227.54" cy="71.16" r="0.9"/><circle cx="228.66" cy="108.90" r="0.9"/><circle cx="224.57" cy="64.69" r="0.9"/><circle cx="224.45" cy="66.41" r="0.9"/><circle cx="224.15" cy="72.51" r="0.9"/><circle cx="228.23" cy="74.76" r="0.9"/><circle cx="223.61" cy="70.47" r="0.9"/><circle cx="226.49" cy="84.09" r="0.9"/><circle cx="226.21" cy="91.61" r="0.9"/><circle cx="226.69" cy="76.10" r="0.9"/><circle cx="224.00" cy="144.70" r="0.9"/><circle cx="226.44" cy="112.80" r="0.9"/><circle cx="225.66" cy="79.43" r="0.9"/><circle cx="227.47" cy="49.81" r="0.9"/><circle cx="227.91" cy="113.91" r="0.9"/><circle cx="225.98" cy="100.08" r="0.9"/><circle cx="226.98" cy="65.55" r="0.9"/><circle cx="225.83" cy="79.92" r="0.9"/><circle cx="228.68" cy="100.39" r="0.9"/><circle cx="225.43" cy="90.30" r="0.9"/><circle cx="227.40" cy="99.40" r="0.9"/><circle cx="228.01" cy="113.18" r="0.9"/><circle cx="225.51" cy="118.08" r="0.9"/><circle cx="227.56" cy="80.66" r="0.9"/><circle cx="226.75" cy="91.72" r="0.9"/><circle cx="227.60" cy="44.98" r="0.9"/><circle cx="223.99" cy="93.44" r="0.9"/><circle cx="227.20" cy="82.15" r="0.9"/><circle cx="226.30" cy="113.80" r="0.9"/><circle cx="225.72" cy="69.96" r="0.9"/><circle cx="226.97" cy="79.92" r="0.9"/><circle cx="227.41" cy="90.29" r="0.9"/><circle cx="228.35" cy="97.92" r="0.9"/><circle cx="227.33" cy="130.07" r="0.9"/><circle cx="227.14" cy="112.89" r="0.9"/><circle cx="225.84" cy="100.89" r="0.9"/><circle cx="224.54" cy="87.32" r="0.9"/><circle cx="225.90" cy="134.32" r="0.9"/><circle cx="224.91" cy="121.77" r="0.9"/><circle cx="225.41" cy="73.22" r="0.9"/><circle cx="224.09" cy="89.12" r="0.9"/><circle cx="228.70" cy="124.56" r="0.9"/><circle cx="228.45" cy="73.01" r="0.9"/><circle cx="227.95" cy="106.26" r="0.9"/><circle cx="227.51" cy="87.62" r="0.9"/><circle cx="224.90" cy="81.61" r="0.9"/><circle cx="223.71" cy="88.11" r="0.9"/><circle cx="228.21" cy="113.37" r="0.9"/><circle cx="225.31" cy="79.27" r="0.9"/><circle cx="227.63" cy="75.11" r="0.9"/><circle cx="227.73" cy="116.56" r="0.9"/><circle cx="224.15" cy="84.74" r="0.9"/><circle cx="225.23" cy="101.29" r="0.9"/><circle cx="225.51" cy="42.19" r="0.9"/><circle cx="228.62" cy="87.07" r="0.9"/><circle cx="226.36" cy="116.43" r="0.9"/><circle cx="226.40" cy="134.32" r="0.9"/><circle cx="225.72" cy="64.91" r="0.9"/><circle cx="227.19" cy="59.25" r="0.9"/><circle cx="224.07" cy="95.32" r="0.9"/><circle cx="225.09" cy="89.11" r="0.9"/><circle cx="223.67" cy="87.86" r="0.9"/><circle cx="227.32" cy="67.41" r="0.9"/><circle cx="224.52" cy="66.89" r="0.9"/><circle cx="227.17" cy="102.06" r="0.9"/><circle cx="227.48" cy="93.68" r="0.9"/><circle cx="224.89" cy="141.35" r="0.9"/><circle cx="223.74" cy="99.48" r="0.9"/><circle cx="224.69" cy="68.21" r="0.9"/><circle cx="228.61" cy="67.81" r="0.9"/><circle cx="226.67" cy="90.65" r="0.9"/><circle cx="226.71" cy="135.17" r="0.9"/><circle cx="225.18" cy="68.99" r="0.9"/><circle cx="223.95" cy="85.46" r="0.9"/><circle cx="225.48" cy="65.95" r="0.9"/><circle cx="224.19" cy="129.37" r="0.9"/><circle cx="228.64" cy="127.33" r="0.9"/><circle cx="225.02" cy="54.20" r="0.9"/><circle cx="224.53" cy="125.18" r="0.9"/><circle cx="225.18" cy="100.13" r="0.9"/><circle cx="227.19" cy="87.15" r="0.9"/><circle cx="227.39" cy="91.44" r="0.9"/><circle cx="228.45" cy="57.54" r="0.9"/><circle cx="227.93" cy="123.90" r="0.9"/><circle cx="227.91" cy="78.83" r="0.9"/><circle cx="228.05" cy="41.42" r="0.9"/><circle cx="227.09" cy="77.74" r="0.9"/><circle cx="223.65" cy="99.32" r="0.9"/><circle cx="228.31" cy="107.97" r="0.9"/><circle cx="227.03" cy="97.29" r="0.9"/><circle cx="227.04" cy="116.59" r="0.9"/><circle cx="224.35" cy="126.29" r="0.9"/><circle cx="228.71" cy="125.44" r="0.9"/><circle cx="226.99" cy="107.94" r="0.9"/><circle cx="224.76" cy="116.29" r="0.9"/><circle cx="223.68" cy="74.29" r="0.9"/><circle cx="224.28" cy="90.02" r="0.9"/><circle cx="225.49" cy="107.99" r="0.9"/><circle cx="224.32" cy="108.97" r="0.9"/><circle cx="224.91" cy="109.01" r="0.9"/><circle cx="226.32" cy="43.62" r="0.9"/><circle cx="224.89" cy="83.79" r="0.9"/><circle cx="225.08" cy="112.67" r="0.9"/><circle cx="227.58" cy="133.98" r="0.9"/><circle cx="224.61" cy="53.17" r="0.9"/><circle cx="225.60" cy="76.66" r="0.9"/><circle cx="226.94" cy="81.45" r="0.9"/><circle cx="228.12" cy="90.23" r="0.9"/><circle cx="227.05" cy="68.12" r="0.9"/><circle cx="224.82" cy="76.71" r="0.9"/><circle cx="225.88" cy="97.34" r="0.9"/><circle cx="225.99" cy="76.42" r="0.9"/><circle cx="224.09" cy="85.64" r="0.9"/><circle cx="226.09" cy="103.00" r="0.9"/><circle cx="224.80" cy="95.78" r="0.9"/><circle cx="224.22" cy="132.36" r="0.9"/><circle cx="225.48" cy="95.39" r="0.9"/><circle cx="228.47" cy="61.90" r="0.9"/><circle cx="223.97" cy="104.18" r="0.9"/><circle cx="227.47" cy="55.66" r="0.9"/><circle cx="228.13" cy="58.85" r="0.9"/><circle cx="228.06" cy="105.73" r="0.9"/><circle cx="228.51" cy="75.56" r="0.9"/><circle cx="224.85" cy="102.45" r="0.9"/><circle cx="228.10" cy="70.26" r="0.9"/><circle cx="224.03" cy="78.88" r="0.9"/><circle cx="228.41" cy="95.81" r="0.9"/><circle cx="227.40" cy="115.30" r="0.9"/><circle cx="225.96" cy="112.59" r="0.9"/><circle cx="224.67" cy="72.06" r="0.9"/><circle cx="225.48" cy="120.34" r="0.9"/><circle cx="228.72" cy="60.00" r="0.9"/><circle cx="224.54" cy="85.48" r="0.9"/><circle cx="227.00" cy="112.44" r="0.9"/><circle cx="223.73" cy="104.65" r="0.9"/><circle cx="227.45" cy="73.49" r="0.9"/><circle cx="224.82" cy="108.41" r="0.9"/><circle cx="226.75" cy="61.59" r="0.9"/><circle cx="224.35" cy="109.07" r="0.9"/><circle cx="228.52" cy="110.95" r="0.9"/><circle cx="228.06" cy="118.16" r="0.9"/><circle cx="228.29" cy="70.77" r="0.9"/><circle cx="224.78" cy="94.37" r="0.9"/><circle cx="228.29" cy="104.80" r="0.9"/><circle cx="224.73" cy="103.83" r="0.9"/><circle cx="225.88" cy="107.02" r="0.9"/><circle cx="224.60" cy="95.02" r="0.9"/><circle cx="226.63" cy="75.77" r="0.9"/><circle cx="225.69" cy="107.99" r="0.9"/><circle cx="223.67" cy="74.64" r="0.9"/><circle cx="224.81" cy="69.23" r="0.9"/><circle cx="226.26" cy="71.09" r="0.9"/><circle cx="226.16" cy="104.18" r="0.9"/><circle cx="226.83" cy="57.35" r="0.9"/><circle cx="227.94" cy="118.65" r="0.9"/><circle cx="228.80" cy="123.84" r="0.9"/><circle cx="224.78" cy="116.32" r="0.9"/><circle cx="225.27" cy="97.25" r="0.9"/><circle cx="225.38" cy="56.26" r="0.9"/><circle cx="223.72" cy="132.63" r="0.9"/><circle cx="224.44" cy="91.67" r="0.9"/><circle cx="223.60" cy="101.32" r="0.9"/><circle cx="224.94" cy="88.67" r="0.9"/><circle cx="226.52" cy="62.28" r="0.9"/><circle cx="224.32" cy="95.78" r="0.9"/><circle cx="224.23" cy="87.65" r="0.9"/><circle cx="224.38" cy="84.34" r="0.9"/><circle cx="226.32" cy="56.13" r="0.9"/><circle cx="228.21" cy="89.73" r="0.9"/><circle cx="224.82" cy="65.77" r="0.9"/><circle cx="226.65" cy="78.43" r="0.9"/><circle cx="225.73" cy="118.84" r="0.9"/><circle cx="227.04" cy="57.15" r="0.9"/><circle cx="228.58" cy="109.08" r="0.9"/><circle cx="228.50" cy="77.33" r="0.9"/><circle cx="223.87" cy="118.82" r="0.9"/><circle cx="224.14" cy="91.60" r="0.9"/><circle cx="225.11" cy="92.35" r="0.9"/><circle cx="228.63" cy="56.75" r="0.9"/><circle cx="225.78" cy="110.09" r="0.9"/><circle cx="228.01" cy="109.66" r="0.9"/><circle cx="227.00" cy="71.86" r="0.9"/><circle cx="224.21" cy="79.16" r="0.9"/><circle cx="227.02" cy="59.98" r="0.9"/><circle cx="227.77" cy="119.24" r="0.9"/><circle cx="228.60" cy="71.34" r="0.9"/><circle cx="224.00" cy="46.50" r="0.9"/><circle cx="226.57" cy="101.65" r="0.9"/><circle cx="227.20" cy="88.32" r="0.9"/><circle cx="224.83" cy="59.44" r="0.9"/><circle cx="226.32" cy="48.47" r="0.9"/><circle cx="223.98" cy="85.16" r="0.9"/><circle cx="226.85" cy="80.28" r="0.9"/><circle cx="227.09" cy="115.04" r="0.9"/><circle cx="223.65" cy="121.04" r="0.9"/><circle cx="227.13" cy="89.87" r="0.9"/><circle cx="226.97" cy="94.05" r="0.9"/><circle cx="228.58" cy="85.25" r="0.9"/><circle cx="224.81" cy="115.10" r="0.9"/><circle cx="228.58" cy="81.18" r="0.9"/><circle cx="225.73" cy="134.98" r="0.9"/><circle cx="228.28" cy="56.44" r="0.9"/><circle cx="227.42" cy="99.24" r="0.9"/><circle cx="227.05" cy="95.48" r="0.9"/><circle cx="224.26" cy="133.42" r="0.9"/><circle cx="224.72" cy="99.18" r="0.9"/><circle cx="223.79" cy="101.52" r="0.9"/><circle cx="225.71" cy="90.40" r="0.9"/><circle cx="224.00" cy="95.34" r="0.9"/><circle cx="228.50" cy="52.98" r="0.9"/><circle cx="225.45" cy="87.70" r="0.9"/><circle cx="225.87" cy="89.10" r="0.9"/><circle cx="226.10" cy="76.94" r="0.9"/><circle cx="227.12" cy="45.06" r="0.9"/><circle cx="225.52" cy="81.56" r="0.9"/><circle cx="227.59" cy="60.00" r="0.9"/><circle cx="226.94" cy="61.72" r="0.9"/><circle cx="227.27" cy="47.09" r="0.9"/><circle cx="224.62" cy="106.83" r="0.9"/><circle cx="225.16" cy="79.09" r="0.9"/><circle cx="227.87" cy="115.01" r="0.9"/><circle cx="228.02" cy="97.88" r="0.9"/><circle cx="226.66" cy="71.18" r="0.9"/><circle cx="223.68" cy="114.87" r="0.9"/><circle cx="227.37" cy="71.39" r="0.9"/><circle cx="223.96" cy="90.73" r="0.9"/><circle cx="224.50" cy="54.48" r="0.9"/><circle cx="223.62" cy="48.85" r="0.9"/><circle cx="224.98" cy="127.10" r="0.9"/><circle cx="228.73" cy="105.72" r="0.9"/><circle cx="224.19" cy="96.04" r="0.9"/><circle cx="228.64" cy="79.02" r="0.9"/><circle cx="225.34" cy="108.45" r="0.9"/><circle cx="225.26" cy="81.08" r="0.9"/><circle cx="226.09" cy="63.87" r="0.9"/><circle cx="223.89" cy="88.60" r="0.9"/><circle cx="224.44" cy="119.21" r="0.9"/><circle cx="226.85" cy="83.11" r="0.9"/><circle cx="224.97" cy="73.19" r="0.9"/><circle cx="227.39" cy="80.58" r="0.9"/><circle cx="226.16" cy="87.32" r="0.9"/><circle cx="228.43" cy="109.57" r="0.9"/><circle cx="223.87" cy="62.45" r="0.9"/><circle cx="227.20" cy="95.54" r="0.9"/><circle cx="227.33" cy="104.79" r="0.9"/><circle cx="227.75" cy="81.01" r="0.9"/></g>
<path d="M150.30,14.40 V191.30 H254.00" fill="none" stroke="#8c8c8c" stroke-width="1.1"/>
<line x1="148.10" y1="183.30" x2="150.30" y2="183.30" stroke="#8c8c8c" stroke-width="1"/>
<text x="146.80" y="187.70" text-anchor="end" class="tk">0</text>
<line x1="148.10" y1="135.87" x2="150.30" y2="135.87" stroke="#8c8c8c" stroke-width="1"/>
<text x="146.80" y="140.27" text-anchor="end" class="tk">5</text>
<line x1="148.10" y1="88.43" x2="150.30" y2="88.43" stroke="#8c8c8c" stroke-width="1"/>
<text x="146.80" y="92.83" text-anchor="end" class="tk">10</text>
<line x1="148.10" y1="41.00" x2="150.30" y2="41.00" stroke="#8c8c8c" stroke-width="1"/>
<text x="146.80" y="45.40" text-anchor="end" class="tk">15</text>
<line x1="178.50" y1="191.30" x2="178.50" y2="193.10" stroke="#8c8c8c" stroke-width="1"/>
<text x="178.50" y="203.70" text-anchor="middle" class="xl" font-size="10.50">HC</text>
<line x1="226.20" y1="191.30" x2="226.20" y2="193.10" stroke="#8c8c8c" stroke-width="1"/>
<text x="226.20" y="203.70" text-anchor="middle" class="xl" font-size="10.50">PCC</text>
<text x="201.70" y="9.75" text-anchor="middle" class="tt" font-size="11.50">CRA1</text>
<text x="202.40" y="23.40" text-anchor="middle" class="st">*</text>
<path d="M178.50,30.30 V26.00 H226.20 V30.30" fill="none" stroke="#1a1a1a" stroke-width="1.5" stroke-linecap="round" stroke-linejoin="round"/>
<path d="M324.40,42.50 L343.40,42.50 L344.12,43.44 L344.84,44.39 L345.40,45.33 L345.80,46.28 L346.08,47.22 L346.15,48.17 L345.98,49.11 L345.76,50.06 L345.51,51.00 L345.23,51.95 L344.93,52.89 L344.60,53.84 L344.25,54.78 L343.88,55.73 L343.48,56.67 L343.06,57.61 L342.62,58.56 L342.14,59.50 L341.62,60.45 L341.07,61.39 L340.50,62.34 L339.91,63.28 L339.32,64.23 L338.73,65.17 L338.16,66.12 L337.60,67.06 L337.07,68.01 L336.58,68.95 L336.13,69.90 L335.71,70.84 L335.30,71.78 L334.92,72.73 L334.55,73.67 L334.19,74.62 L333.85,75.56 L333.52,76.51 L333.19,77.45 L332.87,78.40 L332.55,79.34 L332.23,80.29 L331.92,81.23 L331.61,82.18 L331.31,83.12 L331.02,84.07 L330.73,85.01 L330.45,85.95 L330.18,86.90 L329.91,87.84 L329.64,88.79 L329.38,89.73 L329.13,90.68 L328.87,91.62 L328.64,92.57 L328.41,93.51 L328.20,94.46 L328.00,95.40 L327.80,96.35 L327.60,97.29 L327.41,98.24 L327.20,99.18 L324.40,99.18 Z" fill="#FBB7B3" stroke="#F8766D" stroke-width="0.5"/>
<path d="M371.70,42.50 L384.50,42.50 L385.63,44.39 L386.67,46.28 L387.23,48.17 L387.61,50.06 L387.90,51.95 L388.08,53.84 L388.13,55.73 L388.06,57.61 L387.92,59.50 L387.74,61.39 L387.50,63.28 L387.22,65.17 L386.87,67.06 L386.48,68.95 L386.03,70.84 L385.51,72.73 L384.85,74.62 L384.07,76.51 L383.21,78.40 L382.32,80.29 L381.45,82.18 L380.64,84.07 L379.87,85.95 L379.09,87.84 L378.32,89.73 L377.57,91.62 L376.87,93.51 L376.23,95.40 L375.66,97.29 L375.14,99.18 L374.65,101.07 L374.22,102.96 L373.84,104.85 L373.52,106.74 L373.27,108.63 L373.06,110.52 L372.90,112.41 L372.77,114.29 L372.67,116.18 L372.58,118.07 L372.51,119.96 L372.45,121.85 L372.39,123.74 L372.33,125.63 L372.26,127.52 L372.20,129.41 L372.15,131.30 L372.12,133.19 L372.09,135.08 L372.06,136.97 L372.04,138.86 L372.01,140.75 L371.99,142.63 L371.97,144.52 L371.95,146.41 L371.94,148.30 L371.93,150.19 L371.92,152.08 L371.91,153.97 L371.90,155.86 L371.70,155.86 Z" fill="#80DEE0" stroke="#00BFC4" stroke-width="0.5"/>
<line x1="319.50" y1="42.50" x2="319.50" y2="99.18" stroke="#F8766D" stroke-width="0.6"/>
<rect x="316.40" y="51.03" width="5.6" height="14.60" fill="#F8766D" fill-opacity="0.22" stroke="#F8766D" stroke-width="0.5" stroke-opacity="0.5"/>
<g fill="#F8766D" fill-opacity="0.85"><circle cx="320.57" cy="55.63" r="0.9"/><circle cx="317.84" cy="88.24" r="0.9"/><circle cx="318.73" cy="60.10" r="0.9"/><circle cx="317.21" cy="65.98" r="0.9"/><circle cx="320.44" cy="66.16" r="0.9"/><circle cx="319.19" cy="61.10" r="0.9"/><circle cx="319.89" cy="64.64" r="0.9"/><circle cx="321.48" cy="61.00" r="0.9"/><circle cx="318.65" cy="56.11" r="0.9"/><circle cx="321.81" cy="56.34" r="0.9"/><circle cx="321.66" cy="53.78" r="0.9"/><circle cx="317.64" cy="96.15" r="0.9"/><circle cx="318.89" cy="68.87" r="0.9"/><circle cx="316.92" cy="44.49" r="0.9"/><circle cx="320.99" cy="58.49" r="0.9"/><circle cx="316.93" cy="53.37" r="0.9"/><circle cx="319.05" cy="60.23" r="0.9"/><circle cx="319.86" cy="57.38" r="0.9"/><circle cx="319.03" cy="43.74" r="0.9"/><circle cx="321.87" cy="61.44" r="0.9"/><circle cx="320.10" cy="84.53" r="0.9"/><circle cx="318.86" cy="45.01" r="0.9"/><circle cx="321.60" cy="62.25" r="0.9"/><circle cx="321.00" cy="53.49" r="0.9"/><circle cx="322.05" cy="54.48" r="0.9"/><circle cx="318.56" cy="91.53" r="0.9"/><circle cx="318.26" cy="51.27" r="0.9"/><circle cx="317.72" cy="41.87" r="0.9"/><circle cx="319.44" cy="50.04" r="0.9"/><circle cx="321.70" cy="67.54" r="0.9"/><circle cx="321.74" cy="55.98" r="0.9"/><circle cx="317.68" cy="41.41" r="0.9"/><circle cx="319.88" cy="48.21" r="0.9"/><circle cx="319.95" cy="50.72" r="0.9"/><circle cx="321.75" cy="67.38" r="0.9"/><circle cx="320.94" cy="47.70" r="0.9"/><circle cx="318.34" cy="53.50" r="0.9"/><circle cx="321.43" cy="78.10" r="0.9"/><circle cx="320.68" cy="50.41" r="0.9"/><circle cx="320.70" cy="52.67" r="0.9"/><circle cx="317.41" cy="57.95" r="0.9"/><circle cx="320.65" cy="54.88" r="0.9"/><circle cx="320.30" cy="63.39" r="0.9"/><circle cx="318.83" cy="48.97" r="0.9"/><circle cx="321.80" cy="65.52" r="0.9"/><circle cx="319.12" cy="52.22" r="0.9"/><circle cx="321.10" cy="49.74" r="0.9"/><circle cx="319.27" cy="47.10" r="0.9"/><circle cx="318.99" cy="43.19" r="0.9"/><circle cx="319.36" cy="63.19" r="0.9"/><circle cx="320.80" cy="70.35" r="0.9"/><circle cx="320.43" cy="57.63" r="0.9"/><circle cx="322.04" cy="80.38" r="0.9"/><circle cx="320.75" cy="56.33" r="0.9"/><circle cx="320.21" cy="95.95" r="0.9"/><circle cx="318.20" cy="55.21" r="0.9"/><circle cx="317.07" cy="53.84" r="0.9"/><circle cx="317.35" cy="46.28" r="0.9"/><circle cx="321.54" cy="51.09" r="0.9"/><circle cx="319.32" cy="66.88" r="0.9"/><circle cx="320.64" cy="64.45" r="0.9"/><circle cx="318.68" cy="58.76" r="0.9"/><circle cx="317.86" cy="47.11" r="0.9"/><circle cx="321.14" cy="77.21" r="0.9"/><circle cx="317.87" cy="54.47" r="0.9"/><circle cx="318.65" cy="55.83" r="0.9"/><circle cx="321.74" cy="49.29" r="0.9"/><circle cx="320.99" cy="60.50" r="0.9"/><circle cx="321.65" cy="44.24" r="0.9"/><circle cx="321.61" cy="53.40" r="0.9"/><circle cx="321.95" cy="45.90" r="0.9"/><circle cx="320.18" cy="55.92" r="0.9"/><circle cx="321.35" cy="87.78" r="0.9"/><circle cx="317.41" cy="45.56" r="0.9"/><circle cx="321.09" cy="66.31" r="0.9"/><circle cx="320.77" cy="65.08" r="0.9"/><circle cx="319.31" cy="70.62" r="0.9"/><circle cx="321.90" cy="55.91" r="0.9"/><circle cx="317.73" cy="68.75" r="0.9"/><circle cx="319.78" cy="65.60" r="0.9"/><circle cx="317.77" cy="60.59" r="0.9"/><circle cx="319.35" cy="58.86" r="0.9"/><circle cx="318.29" cy="47.57" r="0.9"/><circle cx="319.78" cy="44.03" r="0.9"/><circle cx="319.96" cy="96.39" r="0.9"/><circle cx="321.51" cy="54.84" r="0.9"/><circle cx="321.89" cy="59.97" r="0.9"/><circle cx="317.63" cy="63.63" r="0.9"/><circle cx="321.93" cy="66.34" r="0.9"/><circle cx="319.75" cy="90.75" r="0.9"/><circle cx="317.05" cy="61.27" r="0.9"/><circle cx="317.54" cy="61.38" r="0.9"/><circle cx="320.17" cy="66.33" r="0.9"/><circle cx="321.83" cy="49.87" r="0.9"/><circle cx="318.78" cy="44.22" r="0.9"/><circle cx="320.20" cy="67.50" r="0.9"/><circle cx="321.39" cy="56.46" r="0.9"/><circle cx="318.77" cy="50.26" r="0.9"/><circle cx="318.46" cy="62.81" r="0.9"/><circle cx="318.17" cy="65.09" r="0.9"/><circle cx="317.23" cy="51.36" r="0.9"/><circle cx="319.78" cy="48.34" r="0.9"/><circle cx="319.54" cy="57.01" r="0.9"/><circle cx="321.25" cy="67.58" r="0.9"/><circle cx="320.46" cy="54.95" r="0.9"/><circle cx="322.06" cy="46.47" r="0.9"/><circle cx="320.61" cy="59.89" r="0.9"/><circle cx="317.16" cy="77.77" r="0.9"/><circle cx="321.94" cy="50.87" r="0.9"/><circle cx="319.86" cy="68.40" r="0.9"/><circle cx="319.06" cy="94.51" r="0.9"/><circle cx="319.97" cy="90.12" r="0.9"/><circle cx="316.97" cy="60.89" r="0.9"/><circle cx="317.83" cy="58.99" r="0.9"/><circle cx="317.43" cy="41.25" r="0.9"/></g>
<line x1="367.30" y1="42.50" x2="367.30" y2="117.13" stroke="#00BFC4" stroke-width="0.6"/>
<rect x="364.20" y="58.47" width="5.6" height="26.18" fill="#00BFC4" fill-opacity="0.22" stroke="#00BFC4" stroke-width="0.5" stroke-opacity="0.5"/>
<g fill="#00BFC4" fill-opacity="0.85"><circle cx="367.28" cy="80.61" r="0.9"/><circle cx="366.97" cy="46.37" r="0.9"/><circle cx="367.75" cy="66.33" r="0.9"/><circle cx="366.13" cy="54.27" r="0.9"/><circle cx="365.14" cy="88.07" r="0.9"/><circle cx="367.28" cy="47.66" r="0.9"/><circle cx="365.30" cy="42.92" r="0.9"/><circle cx="367.32" cy="66.99" r="0.9"/><circle cx="366.64" cy="63.49" r="0.9"/><circle cx="369.34" cy="74.62" r="0.9"/><circle cx="369.80" cy="71.81" r="0.9"/><circle cx="369.85" cy="83.57" r="0.9"/><circle cx="366.04" cy="114.04" r="0.9"/><circle cx="367.88" cy="87.43" r="0.9"/><circle cx="369.89" cy="59.73" r="0.9"/><circle cx="368.91" cy="55.27" r="0.9"/><circle cx="365.11" cy="85.94" r="0.9"/><circle cx="365.61" cy="61.53" r="0.9"/><circle cx="367.90" cy="69.03" r="0.9"/><circle cx="367.11" cy="82.02" r="0.9"/><circle cx="365.20" cy="47.20" r="0.9"/><circle cx="365.24" cy="103.78" r="0.9"/><circle cx="368.08" cy="84.35" r="0.9"/><circle cx="364.92" cy="80.83" r="0.9"/><circle cx="369.69" cy="49.90" r="0.9"/><circle cx="366.91" cy="85.91" r="0.9"/><circle cx="368.32" cy="52.38" r="0.9"/><circle cx="368.08" cy="92.71" r="0.9"/><circle cx="367.66" cy="61.62" r="0.9"/><circle cx="365.68" cy="76.22" r="0.9"/><circle cx="369.72" cy="65.43" r="0.9"/><circle cx="369.86" cy="68.00" r="0.9"/><circle cx="369.06" cy="51.39" r="0.9"/><circle cx="368.56" cy="100.98" r="0.9"/><circle cx="369.58" cy="63.75" r="0.9"/><circle cx="369.27" cy="93.58" r="0.9"/><circle cx="368.79" cy="67.23" r="0.9"/><circle cx="366.32" cy="88.04" r="0.9"/><circle cx="368.85" cy="82.85" r="0.9"/><circle cx="369.09" cy="42.14" r="0.9"/><circle cx="365.59" cy="82.82" r="0.9"/><circle cx="367.65" cy="68.94" r="0.9"/><circle cx="366.45" cy="59.25" r="0.9"/><circle cx="365.50" cy="46.08" r="0.9"/><circle cx="365.86" cy="79.62" r="0.9"/><circle cx="366.41" cy="78.86" r="0.9"/><circle cx="366.27" cy="67.40" r="0.9"/><circle cx="366.75" cy="77.02" r="0.9"/><circle cx="366.96" cy="58.11" r="0.9"/><circle cx="364.77" cy="90.84" r="0.9"/><circle cx="366.65" cy="76.73" r="0.9"/><circle cx="369.69" cy="92.85" r="0.9"/><circle cx="366.02" cy="92.73" r="0.9"/><circle cx="365.22" cy="83.14" r="0.9"/><circle cx="367.73" cy="52.57" r="0.9"/><circle cx="365.98" cy="64.96" r="0.9"/><circle cx="369.74" cy="89.52" r="0.9"/><circle cx="369.85" cy="114.45" r="0.9"/><circle cx="365.35" cy="40.60" r="0.9"/><circle cx="364.81" cy="47.98" r="0.9"/><circle cx="368.91" cy="51.35" r="0.9"/><circle cx="367.56" cy="42.84" r="0.9"/><circle cx="365.50" cy="46.14" r="0.9"/><circle cx="366.08" cy="81.71" r="0.9"/><circle cx="365.69" cy="87.94" r="0.9"/><circle cx="367.68" cy="71.50" r="0.9"/><circle cx="367.97" cy="78.91" r="0.9"/><circle cx="369.49" cy="65.62" r="0.9"/><circle cx="367.65" cy="78.52" r="0.9"/><circle cx="369.52" cy="60.46" r="0.9"/><circle cx="365.23" cy="59.88" r="0.9"/><circle cx="368.37" cy="76.32" r="0.9"/><circle cx="368.06" cy="63.23" r="0.9"/><circle cx="369.57" cy="79.38" r="0.9"/><circle cx="367.02" cy="90.65" r="0.9"/><circle cx="368.65" cy="91.44" r="0.9"/><circle cx="365.27" cy="61.65" r="0.9"/><circle cx="368.91" cy="69.85" r="0.9"/><circle cx="368.26" cy="67.27" r="0.9"/><circle cx="365.36" cy="99.04" r="0.9"/><circle cx="367.26" cy="91.25" r="0.9"/><circle cx="369.64" cy="42.24" r="0.9"/><circle cx="367.02" cy="65.28" r="0.9"/><circle cx="367.98" cy="59.13" r="0.9"/><circle cx="369.75" cy="94.01" r="0.9"/><circle cx="365.10" cy="58.05" r="0.9"/><circle cx="364.79" cy="80.86" r="0.9"/><circle cx="366.84" cy="61.16" r="0.9"/><circle cx="366.85" cy="51.60" r="0.9"/><circle cx="368.75" cy="83.81" r="0.9"/><circle cx="365.94" cy="54.71" r="0.9"/><circle cx="367.26" cy="54.22" r="0.9"/><circle cx="368.06" cy="85.21" r="0.9"/><circle cx="366.38" cy="58.79" r="0.9"/><circle cx="369.88" cy="86.18" r="0.9"/><circle cx="366.45" cy="75.75" r="0.9"/><circle cx="365.19" cy="91.59" r="0.9"/><circle cx="366.90" cy="87.29" r="0.9"/><circle cx="368.33" cy="67.61" r="0.9"/><circle cx="369.05" cy="71.00" r="0.9"/><circle cx="367.72" cy="52.31" r="0.9"/><circle cx="366.69" cy="74.88" r="0.9"/><circle cx="367.93" cy="95.81" r="0.9"/><circle cx="367.52" cy="72.98" r="0.9"/><circle cx="367.26" cy="90.62" r="0.9"/><circle cx="365.23" cy="87.53" r="0.9"/><circle cx="368.86" cy="57.08" r="0.9"/><circle cx="365.30" cy="80.75" r="0.9"/><circle cx="369.23" cy="56.04" r="0.9"/><circle cx="368.64" cy="79.04" r="0.9"/><circle cx="369.27" cy="56.42" r="0.9"/><circle cx="366.14" cy="81.64" r="0.9"/><circle cx="369.00" cy="98.81" r="0.9"/><circle cx="365.99" cy="109.67" r="0.9"/><circle cx="366.67" cy="90.87" r="0.9"/><circle cx="368.66" cy="78.51" r="0.9"/><circle cx="366.43" cy="64.47" r="0.9"/><circle cx="369.53" cy="43.44" r="0.9"/><circle cx="369.45" cy="78.61" r="0.9"/><circle cx="369.86" cy="92.32" r="0.9"/><circle cx="367.09" cy="90.10" r="0.9"/><circle cx="368.48" cy="68.32" r="0.9"/><circle cx="367.94" cy="96.07" r="0.9"/><circle cx="368.00" cy="45.63" r="0.9"/><circle cx="368.37" cy="74.64" r="0.9"/><circle cx="364.77" cy="92.98" r="0.9"/><circle cx="369.26" cy="48.46" r="0.9"/><circle cx="368.81" cy="90.05" r="0.9"/><circle cx="368.07" cy="65.82" r="0.9"/><circle cx="365.94" cy="84.56" r="0.9"/><circle cx="365.88" cy="81.73" r="0.9"/><circle cx="367.45" cy="88.49" r="0.9"/><circle cx="366.39" cy="44.90" r="0.9"/><circle cx="369.66" cy="64.96" r="0.9"/><circle cx="369.65" cy="83.45" r="0.9"/><circle cx="367.38" cy="66.06" r="0.9"/><circle cx="366.50" cy="67.13" r="0.9"/><circle cx="365.61" cy="71.01" r="0.9"/><circle cx="368.73" cy="76.39" r="0.9"/><circle cx="364.80" cy="77.46" r="0.9"/><circle cx="367.26" cy="78.33" r="0.9"/><circle cx="365.55" cy="64.36" r="0.9"/><circle cx="366.77" cy="70.81" r="0.9"/><circle cx="369.53" cy="77.20" r="0.9"/><circle cx="366.41" cy="86.25" r="0.9"/><circle cx="365.40" cy="76.06" r="0.9"/><circle cx="368.34" cy="89.46" r="0.9"/><circle cx="365.33" cy="42.87" r="0.9"/><circle cx="367.34" cy="70.63" r="0.9"/><circle cx="368.97" cy="69.47" r="0.9"/><circle cx="365.83" cy="44.69" r="0.9"/><circle cx="368.91" cy="64.48" r="0.9"/><circle cx="364.71" cy="51.72" r="0.9"/><circle cx="369.00" cy="57.85" r="0.9"/><circle cx="368.69" cy="82.59" r="0.9"/><circle cx="368.00" cy="63.68" r="0.9"/><circle cx="369.82" cy="53.84" r="0.9"/><circle cx="369.04" cy="47.45" r="0.9"/><circle cx="366.33" cy="111.05" r="0.9"/><circle cx="368.26" cy="68.37" r="0.9"/><circle cx="367.65" cy="50.96" r="0.9"/><circle cx="366.01" cy="42.99" r="0.9"/><circle cx="365.40" cy="55.50" r="0.9"/><circle cx="369.32" cy="49.59" r="0.9"/><circle cx="368.33" cy="61.41" r="0.9"/><circle cx="365.33" cy="74.19" r="0.9"/><circle cx="368.68" cy="54.01" r="0.9"/><circle cx="365.21" cy="66.30" r="0.9"/><circle cx="368.71" cy="58.67" r="0.9"/><circle cx="368.94" cy="57.22" r="0.9"/><circle cx="365.25" cy="66.20" r="0.9"/><circle cx="369.28" cy="48.04" r="0.9"/><circle cx="365.08" cy="77.50" r="0.9"/><circle cx="365.17" cy="60.47" r="0.9"/><circle cx="365.13" cy="92.07" r="0.9"/><circle cx="368.15" cy="88.87" r="0.9"/><circle cx="366.83" cy="68.34" r="0.9"/><circle cx="364.86" cy="78.97" r="0.9"/><circle cx="365.96" cy="46.78" r="0.9"/><circle cx="368.41" cy="77.53" r="0.9"/><circle cx="367.46" cy="89.52" r="0.9"/><circle cx="365.36" cy="70.41" r="0.9"/><circle cx="366.22" cy="90.36" r="0.9"/><circle cx="368.54" cy="77.71" r="0.9"/><circle cx="366.39" cy="71.77" r="0.9"/><circle cx="369.19" cy="58.26" r="0.9"/><circle cx="367.20" cy="53.49" r="0.9"/><circle cx="369.49" cy="63.78" r="0.9"/><circle cx="367.04" cy="84.12" r="0.9"/><circle cx="369.19" cy="47.54" r="0.9"/><circle cx="366.04" cy="81.58" r="0.9"/><circle cx="367.31" cy="86.50" r="0.9"/><circle cx="365.51" cy="77.42" r="0.9"/><circle cx="369.85" cy="79.66" r="0.9"/><circle cx="366.69" cy="100.14" r="0.9"/><circle cx="369.34" cy="60.62" r="0.9"/><circle cx="365.34" cy="76.13" r="0.9"/><circle cx="368.55" cy="56.20" r="0.9"/><circle cx="368.13" cy="64.08" r="0.9"/><circle cx="367.38" cy="75.70" r="0.9"/><circle cx="367.02" cy="89.59" r="0.9"/><circle cx="369.44" cy="63.01" r="0.9"/><circle cx="369.52" cy="76.17" r="0.9"/><circle cx="369.71" cy="54.42" r="0.9"/><circle cx="369.49" cy="97.72" r="0.9"/><circle cx="369.24" cy="98.81" r="0.9"/><circle cx="369.85" cy="83.57" r="0.9"/><circle cx="369.11" cy="87.41" r="0.9"/><circle cx="366.65" cy="61.14" r="0.9"/><circle cx="365.81" cy="98.88" r="0.9"/><circle cx="367.14" cy="93.11" r="0.9"/><circle cx="365.72" cy="63.23" r="0.9"/><circle cx="368.50" cy="45.38" r="0.9"/><circle cx="369.79" cy="88.14" r="0.9"/><circle cx="366.65" cy="88.37" r="0.9"/><circle cx="367.70" cy="76.48" r="0.9"/><circle cx="369.61" cy="83.68" r="0.9"/><circle cx="366.60" cy="57.57" r="0.9"/><circle cx="365.06" cy="50.49" r="0.9"/><circle cx="367.73" cy="68.13" r="0.9"/><circle cx="369.81" cy="83.24" r="0.9"/><circle cx="366.53" cy="53.11" r="0.9"/><circle cx="365.59" cy="86.86" r="0.9"/><circle cx="367.77" cy="43.86" r="0.9"/><circle cx="366.91" cy="71.89" r="0.9"/><circle cx="366.34" cy="54.25" r="0.9"/><circle cx="367.02" cy="60.95" r="0.9"/><circle cx="367.63" cy="69.94" r="0.9"/><circle cx="364.98" cy="94.12" r="0.9"/><circle cx="366.50" cy="65.34" r="0.9"/><circle cx="369.32" cy="59.77" r="0.9"/><circle cx="368.76" cy="76.76" r="0.9"/><circle cx="367.50" cy="89.41" r="0.9"/><circle cx="364.92" cy="90.36" r="0.9"/><circle cx="368.17" cy="84.98" r="0.9"/><circle cx="366.68" cy="75.50" r="0.9"/><circle cx="368.96" cy="46.18" r="0.9"/><circle cx="365.05" cy="84.31" r="0.9"/><circle cx="368.10" cy="46.55" r="0.9"/><circle cx="364.93" cy="68.98" r="0.9"/><circle cx="364.88" cy="86.31" r="0.9"/><circle cx="367.95" cy="97.70" r="0.9"/><circle cx="367.02" cy="53.57" r="0.9"/><circle cx="365.67" cy="86.24" r="0.9"/><circle cx="368.94" cy="78.67" r="0.9"/><circle cx="368.42" cy="48.04" r="0.9"/><circle cx="368.90" cy="85.47" r="0.9"/><circle cx="368.10" cy="84.64" r="0.9"/><circle cx="367.62" cy="66.05" r="0.9"/><circle cx="369.76" cy="47.09" r="0.9"/><circle cx="367.47" cy="99.66" r="0.9"/><circle cx="365.22" cy="79.53" r="0.9"/><circle cx="365.90" cy="53.71" r="0.9"/><circle cx="364.77" cy="54.82" r="0.9"/><circle cx="369.22" cy="59.98" r="0.9"/><circle cx="368.44" cy="47.88" r="0.9"/><circle cx="365.91" cy="71.25" r="0.9"/><circle cx="366.25" cy="108.24" r="0.9"/><circle cx="366.52" cy="63.74" r="0.9"/><circle cx="367.68" cy="61.35" r="0.9"/><circle cx="369.83" cy="124.69" r="0.9"/><circle cx="366.67" cy="127.52" r="0.9"/><circle cx="369.83" cy="153.03" r="0.9"/><circle cx="364.75" cy="155.86" r="0.9"/><circle cx="369.26" cy="158.69" r="0.9"/></g>
<path d="M291.20,16.00 V192.40 H395.50" fill="none" stroke="#8c8c8c" stroke-width="1.1"/>
<line x1="289.00" y1="184.20" x2="291.20" y2="184.20" stroke="#8c8c8c" stroke-width="1"/>
<text x="287.70" y="188.60" text-anchor="end" class="tk">0</text>
<line x1="289.00" y1="136.97" x2="291.20" y2="136.97" stroke="#8c8c8c" stroke-width="1"/>
<text x="287.70" y="141.37" text-anchor="end" class="tk">5</text>
<line x1="289.00" y1="89.73" x2="291.20" y2="89.73" stroke="#8c8c8c" stroke-width="1"/>
<text x="287.70" y="94.13" text-anchor="end" class="tk">10</text>
<line x1="289.00" y1="42.50" x2="291.20" y2="42.50" stroke="#8c8c8c" stroke-width="1"/>
<text x="287.70" y="46.90" text-anchor="end" class="tk">15</text>
<line x1="319.50" y1="192.40" x2="319.50" y2="194.20" stroke="#8c8c8c" stroke-width="1"/>
<text x="319.50" y="204.80" text-anchor="middle" class="xl" font-size="10.50">HC</text>
<line x1="367.30" y1="192.40" x2="367.30" y2="194.20" stroke="#8c8c8c" stroke-width="1"/>
<text x="367.30" y="204.80" text-anchor="middle" class="xl" font-size="10.50">PCC</text>
<text x="342.90" y="11.25" text-anchor="middle" class="tt" font-size="11.50">CRA2</text>
<text x="343.40" y="25.00" text-anchor="middle" class="st">*</text>
<path d="M319.50,31.60 V27.40 H367.30 V31.60" fill="none" stroke="#1a1a1a" stroke-width="1.5" stroke-linecap="round" stroke-linejoin="round"/>
<path d="M467.10,51.95 L472.70,51.95 L473.14,53.68 L473.58,55.41 L474.02,57.14 L474.46,58.87 L474.90,60.61 L475.34,62.34 L475.76,64.07 L476.18,65.80 L476.59,67.53 L476.99,69.27 L477.38,71.00 L477.77,72.73 L478.15,74.46 L478.53,76.19 L478.90,77.93 L479.26,79.66 L479.61,81.39 L479.95,83.12 L480.29,84.85 L480.60,86.58 L480.91,88.32 L481.22,90.05 L481.51,91.78 L481.79,93.51 L482.07,95.24 L482.34,96.98 L482.61,98.71 L482.88,100.44 L483.14,102.17 L483.42,103.90 L483.68,105.64 L483.92,107.37 L484.12,109.10 L484.26,110.83 L484.33,112.56 L484.37,114.29 L484.37,116.03 L484.32,117.76 L484.21,119.49 L484.03,121.22 L483.77,122.95 L483.44,124.69 L483.06,126.42 L482.62,128.15 L482.14,129.88 L481.64,131.61 L481.12,133.35 L480.59,135.08 L480.06,136.81 L479.53,138.54 L478.97,140.27 L478.40,142.00 L477.81,143.74 L477.21,145.47 L476.60,147.20 L475.99,148.93 L475.37,150.66 L474.68,152.40 L473.94,154.13 L473.20,155.86 L467.10,155.86 Z" fill="#FBB7B3" stroke="#F8766D" stroke-width="0.5"/>
<path d="M515.00,51.95 L517.00,51.95 L517.43,53.99 L517.81,56.04 L518.20,58.09 L518.62,60.13 L519.12,62.18 L519.74,64.23 L520.47,66.27 L521.26,68.32 L522.11,70.37 L523.00,72.41 L523.91,74.46 L524.82,76.51 L525.72,78.56 L526.60,80.60 L527.43,82.65 L528.21,84.70 L528.98,86.74 L529.75,88.79 L530.51,90.84 L531.25,92.88 L531.97,94.93 L532.64,96.98 L533.27,99.02 L533.84,101.07 L534.35,103.12 L534.79,105.16 L535.16,107.21 L535.47,109.26 L535.71,111.30 L535.88,113.35 L535.99,115.40 L536.03,117.44 L536.00,119.49 L535.90,121.54 L535.74,123.58 L535.52,125.63 L535.22,127.68 L534.86,129.72 L534.42,131.77 L533.92,133.82 L533.33,135.86 L532.64,137.91 L531.85,139.96 L530.96,142.00 L530.02,144.05 L529.05,146.10 L528.07,148.15 L527.11,150.19 L526.19,152.24 L525.28,154.29 L524.36,156.33 L523.44,158.38 L522.51,160.43 L521.60,162.47 L520.71,164.52 L519.84,166.57 L519.02,168.61 L518.34,170.66 L517.78,172.71 L517.20,174.75 L515.00,174.75 Z" fill="#80DEE0" stroke="#00BFC4" stroke-width="0.5"/>
<line x1="462.30" y1="51.95" x2="462.30" y2="155.86" stroke="#F8766D" stroke-width="0.6"/>
<rect x="459.20" y="81.54" width="5.6" height="40.29" fill="#F8766D" fill-opacity="0.22" stroke="#F8766D" stroke-width="0.5" stroke-opacity="0.5"/>
<g fill="#F8766D" fill-opacity="0.85"><circle cx="460.16" cy="116.57" r="0.9"/><circle cx="464.55" cy="120.85" r="0.9"/><circle cx="464.49" cy="131.54" r="0.9"/><circle cx="462.49" cy="87.93" r="0.9"/><circle cx="462.68" cy="136.84" r="0.9"/><circle cx="461.03" cy="96.24" r="0.9"/><circle cx="464.25" cy="136.42" r="0.9"/><circle cx="461.82" cy="119.98" r="0.9"/><circle cx="460.22" cy="118.37" r="0.9"/><circle cx="463.84" cy="93.99" r="0.9"/><circle cx="464.28" cy="80.97" r="0.9"/><circle cx="460.46" cy="76.17" r="0.9"/><circle cx="463.30" cy="146.64" r="0.9"/><circle cx="461.49" cy="104.50" r="0.9"/><circle cx="464.03" cy="126.66" r="0.9"/><circle cx="463.92" cy="84.58" r="0.9"/><circle cx="461.37" cy="56.39" r="0.9"/><circle cx="463.58" cy="119.17" r="0.9"/><circle cx="461.54" cy="134.03" r="0.9"/><circle cx="461.80" cy="60.27" r="0.9"/><circle cx="463.65" cy="68.67" r="0.9"/><circle cx="461.59" cy="128.97" r="0.9"/><circle cx="464.30" cy="141.86" r="0.9"/><circle cx="461.29" cy="146.03" r="0.9"/><circle cx="460.71" cy="126.98" r="0.9"/><circle cx="459.90" cy="107.56" r="0.9"/><circle cx="462.45" cy="100.87" r="0.9"/><circle cx="462.51" cy="81.18" r="0.9"/><circle cx="462.60" cy="100.04" r="0.9"/><circle cx="464.48" cy="124.09" r="0.9"/><circle cx="460.42" cy="62.60" r="0.9"/><circle cx="463.03" cy="81.15" r="0.9"/><circle cx="463.30" cy="97.52" r="0.9"/><circle cx="459.97" cy="122.48" r="0.9"/><circle cx="460.93" cy="84.99" r="0.9"/><circle cx="460.49" cy="90.57" r="0.9"/><circle cx="463.71" cy="84.12" r="0.9"/><circle cx="462.44" cy="124.87" r="0.9"/><circle cx="463.59" cy="67.03" r="0.9"/><circle cx="462.19" cy="108.38" r="0.9"/><circle cx="464.70" cy="118.98" r="0.9"/><circle cx="463.24" cy="136.27" r="0.9"/><circle cx="463.51" cy="58.14" r="0.9"/><circle cx="463.85" cy="81.56" r="0.9"/><circle cx="464.28" cy="83.56" r="0.9"/><circle cx="462.04" cy="77.46" r="0.9"/><circle cx="463.89" cy="71.26" r="0.9"/><circle cx="464.69" cy="102.29" r="0.9"/><circle cx="464.37" cy="103.68" r="0.9"/><circle cx="462.24" cy="109.51" r="0.9"/><circle cx="460.47" cy="111.30" r="0.9"/><circle cx="463.41" cy="69.18" r="0.9"/><circle cx="461.64" cy="124.67" r="0.9"/><circle cx="463.07" cy="81.82" r="0.9"/><circle cx="460.34" cy="89.42" r="0.9"/><circle cx="462.66" cy="143.34" r="0.9"/><circle cx="461.06" cy="57.83" r="0.9"/><circle cx="460.11" cy="109.76" r="0.9"/><circle cx="464.06" cy="51.82" r="0.9"/><circle cx="462.01" cy="81.02" r="0.9"/><circle cx="462.83" cy="84.55" r="0.9"/><circle cx="464.77" cy="101.97" r="0.9"/><circle cx="463.48" cy="100.60" r="0.9"/><circle cx="460.09" cy="114.57" r="0.9"/><circle cx="461.50" cy="133.33" r="0.9"/><circle cx="461.90" cy="85.55" r="0.9"/><circle cx="464.04" cy="130.64" r="0.9"/><circle cx="460.85" cy="123.46" r="0.9"/><circle cx="459.82" cy="106.94" r="0.9"/><circle cx="459.99" cy="76.86" r="0.9"/><circle cx="461.26" cy="79.01" r="0.9"/><circle cx="462.62" cy="97.60" r="0.9"/><circle cx="461.26" cy="73.81" r="0.9"/><circle cx="463.28" cy="118.77" r="0.9"/><circle cx="462.15" cy="143.79" r="0.9"/><circle cx="461.19" cy="97.55" r="0.9"/><circle cx="462.12" cy="111.35" r="0.9"/><circle cx="460.67" cy="95.32" r="0.9"/><circle cx="464.27" cy="113.01" r="0.9"/><circle cx="463.94" cy="117.34" r="0.9"/><circle cx="460.61" cy="147.90" r="0.9"/><circle cx="463.54" cy="77.87" r="0.9"/><circle cx="460.28" cy="112.29" r="0.9"/><circle cx="461.54" cy="118.66" r="0.9"/><circle cx="462.81" cy="109.93" r="0.9"/><circle cx="464.09" cy="69.95" r="0.9"/><circle cx="464.42" cy="130.45" r="0.9"/><circle cx="461.29" cy="117.62" r="0.9"/><circle cx="464.72" cy="66.15" r="0.9"/><circle cx="463.99" cy="84.27" r="0.9"/><circle cx="462.52" cy="139.33" r="0.9"/><circle cx="464.82" cy="77.09" r="0.9"/><circle cx="460.24" cy="107.45" r="0.9"/><circle cx="464.89" cy="111.90" r="0.9"/><circle cx="464.68" cy="144.75" r="0.9"/><circle cx="459.83" cy="117.48" r="0.9"/><circle cx="461.07" cy="121.74" r="0.9"/><circle cx="461.58" cy="70.86" r="0.9"/><circle cx="464.56" cy="78.24" r="0.9"/><circle cx="464.26" cy="123.35" r="0.9"/><circle cx="463.97" cy="94.09" r="0.9"/><circle cx="461.87" cy="117.49" r="0.9"/><circle cx="461.02" cy="138.91" r="0.9"/><circle cx="462.73" cy="103.96" r="0.9"/><circle cx="463.38" cy="94.03" r="0.9"/><circle cx="460.19" cy="71.95" r="0.9"/><circle cx="460.07" cy="127.41" r="0.9"/><circle cx="461.51" cy="63.71" r="0.9"/><circle cx="460.11" cy="132.77" r="0.9"/><circle cx="463.86" cy="133.91" r="0.9"/><circle cx="463.83" cy="111.88" r="0.9"/><circle cx="464.52" cy="113.70" r="0.9"/><circle cx="461.13" cy="114.55" r="0.9"/><circle cx="464.80" cy="83.56" r="0.9"/><circle cx="463.18" cy="125.50" r="0.9"/></g>
<line x1="510.20" y1="51.95" x2="510.20" y2="174.75" stroke="#00BFC4" stroke-width="0.6"/>
<rect x="507.10" y="102.39" width="5.6" height="26.50" fill="#00BFC4" fill-opacity="0.22" stroke="#00BFC4" stroke-width="0.5" stroke-opacity="0.5"/>
<g fill="#00BFC4" fill-opacity="0.85"><circle cx="511.06" cy="123.46" r="0.9"/><circle cx="508.80" cy="69.42" r="0.9"/><circle cx="508.70" cy="106.48" r="0.9"/><circle cx="510.88" cy="119.61" r="0.9"/><circle cx="510.83" cy="126.95" r="0.9"/><circle cx="512.21" cy="120.32" r="0.9"/><circle cx="510.28" cy="100.64" r="0.9"/><circle cx="510.16" cy="119.22" r="0.9"/><circle cx="510.37" cy="136.31" r="0.9"/><circle cx="510.28" cy="118.18" r="0.9"/><circle cx="507.63" cy="125.22" r="0.9"/><circle cx="512.13" cy="150.74" r="0.9"/><circle cx="508.69" cy="97.68" r="0.9"/><circle cx="510.63" cy="128.78" r="0.9"/><circle cx="509.99" cy="99.55" r="0.9"/><circle cx="511.18" cy="114.33" r="0.9"/><circle cx="510.28" cy="121.00" r="0.9"/><circle cx="511.14" cy="120.19" r="0.9"/><circle cx="508.95" cy="107.54" r="0.9"/><circle cx="509.44" cy="84.12" r="0.9"/><circle cx="509.13" cy="123.57" r="0.9"/><circle cx="511.42" cy="121.94" r="0.9"/><circle cx="511.24" cy="113.59" r="0.9"/><circle cx="508.43" cy="91.71" r="0.9"/><circle cx="512.59" cy="166.77" r="0.9"/><circle cx="512.16" cy="119.85" r="0.9"/><circle cx="509.26" cy="112.38" r="0.9"/><circle cx="511.79" cy="124.49" r="0.9"/><circle cx="509.42" cy="131.04" r="0.9"/><circle cx="511.39" cy="105.75" r="0.9"/><circle cx="512.37" cy="77.32" r="0.9"/><circle cx="508.51" cy="144.92" r="0.9"/><circle cx="507.64" cy="128.66" r="0.9"/><circle cx="509.37" cy="125.05" r="0.9"/><circle cx="510.08" cy="91.06" r="0.9"/><circle cx="511.00" cy="136.90" r="0.9"/><circle cx="508.88" cy="130.75" r="0.9"/><circle cx="509.31" cy="77.67" r="0.9"/><circle cx="511.96" cy="121.90" r="0.9"/><circle cx="512.17" cy="161.20" r="0.9"/><circle cx="508.97" cy="122.56" r="0.9"/><circle cx="508.36" cy="144.06" r="0.9"/><circle cx="511.00" cy="113.52" r="0.9"/><circle cx="507.87" cy="112.23" r="0.9"/><circle cx="509.80" cy="130.42" r="0.9"/><circle cx="508.35" cy="103.78" r="0.9"/><circle cx="508.00" cy="102.18" r="0.9"/><circle cx="511.49" cy="157.66" r="0.9"/><circle cx="511.50" cy="101.13" r="0.9"/><circle cx="508.85" cy="101.58" r="0.9"/><circle cx="510.47" cy="108.03" r="0.9"/><circle cx="508.58" cy="143.75" r="0.9"/><circle cx="512.38" cy="140.50" r="0.9"/><circle cx="509.09" cy="105.49" r="0.9"/><circle cx="508.43" cy="98.70" r="0.9"/><circle cx="509.58" cy="75.53" r="0.9"/><circle cx="508.11" cy="92.14" r="0.9"/><circle cx="510.43" cy="125.96" r="0.9"/><circle cx="509.35" cy="147.67" r="0.9"/><circle cx="508.11" cy="122.46" r="0.9"/><circle cx="510.24" cy="133.31" r="0.9"/><circle cx="508.63" cy="115.60" r="0.9"/><circle cx="508.70" cy="116.42" r="0.9"/><circle cx="511.26" cy="107.98" r="0.9"/><circle cx="511.37" cy="138.41" r="0.9"/><circle cx="510.03" cy="100.10" r="0.9"/><circle cx="511.58" cy="164.94" r="0.9"/><circle cx="511.16" cy="82.16" r="0.9"/><circle cx="507.82" cy="131.36" r="0.9"/><circle cx="511.21" cy="107.30" r="0.9"/><circle cx="511.96" cy="143.58" r="0.9"/><circle cx="509.48" cy="152.00" r="0.9"/><circle cx="510.99" cy="93.85" r="0.9"/><circle cx="510.98" cy="153.85" r="0.9"/><circle cx="511.60" cy="156.77" r="0.9"/><circle cx="507.77" cy="93.88" r="0.9"/><circle cx="509.75" cy="110.73" r="0.9"/><circle cx="509.65" cy="102.66" r="0.9"/><circle cx="509.22" cy="78.31" r="0.9"/><circle cx="512.20" cy="102.66" r="0.9"/><circle cx="512.00" cy="128.51" r="0.9"/><circle cx="510.28" cy="106.88" r="0.9"/><circle cx="511.66" cy="109.30" r="0.9"/><circle cx="508.47" cy="117.90" r="0.9"/><circle cx="510.77" cy="77.83" r="0.9"/><circle cx="509.40" cy="124.74" r="0.9"/><circle cx="510.57" cy="114.50" r="0.9"/><circle cx="512.23" cy="118.83" r="0.9"/><circle cx="511.53" cy="108.93" r="0.9"/><circle cx="511.52" cy="122.51" r="0.9"/><circle cx="512.78" cy="112.84" r="0.9"/><circle cx="510.71" cy="128.98" r="0.9"/><circle cx="508.07" cy="130.28" r="0.9"/><circle cx="511.38" cy="75.97" r="0.9"/><circle cx="508.92" cy="129.53" r="0.9"/><circle cx="511.59" cy="119.94" r="0.9"/><circle cx="512.33" cy="136.25" r="0.9"/><circle cx="511.63" cy="106.30" r="0.9"/><circle cx="510.85" cy="95.58" r="0.9"/><circle cx="507.99" cy="147.92" r="0.9"/><circle cx="511.07" cy="112.66" r="0.9"/><circle cx="508.00" cy="76.96" r="0.9"/><circle cx="511.74" cy="126.26" r="0.9"/><circle cx="512.24" cy="128.17" r="0.9"/><circle cx="509.38" cy="118.64" r="0.9"/><circle cx="508.36" cy="117.81" r="0.9"/><circle cx="509.78" cy="114.48" r="0.9"/><circle cx="512.47" cy="111.88" r="0.9"/><circle cx="512.56" cy="102.19" r="0.9"/><circle cx="511.02" cy="148.38" r="0.9"/><circle cx="509.78" cy="114.83" r="0.9"/><circle cx="508.29" cy="116.31" r="0.9"/><circle cx="508.20" cy="109.99" r="0.9"/><circle cx="510.34" cy="119.34" r="0.9"/><circle cx="507.76" cy="121.82" r="0.9"/><circle cx="511.12" cy="119.31" r="0.9"/><circle cx="508.08" cy="78.40" r="0.9"/><circle cx="509.54" cy="119.62" r="0.9"/><circle cx="507.85" cy="148.80" r="0.9"/><circle cx="507.99" cy="163.84" r="0.9"/><circle cx="512.59" cy="129.45" r="0.9"/><circle cx="508.18" cy="108.27" r="0.9"/><circle cx="509.46" cy="100.57" r="0.9"/><circle cx="511.28" cy="89.20" r="0.9"/><circle cx="508.93" cy="162.12" r="0.9"/><circle cx="510.34" cy="117.46" r="0.9"/><circle cx="510.53" cy="103.75" r="0.9"/><circle cx="509.79" cy="145.20" r="0.9"/><circle cx="509.68" cy="99.75" r="0.9"/><circle cx="511.52" cy="67.47" r="0.9"/><circle cx="511.43" cy="143.30" r="0.9"/><circle cx="511.30" cy="107.58" r="0.9"/><circle cx="510.81" cy="114.25" r="0.9"/><circle cx="508.60" cy="109.67" r="0.9"/><circle cx="509.43" cy="119.91" r="0.9"/><circle cx="507.71" cy="132.95" r="0.9"/><circle cx="508.08" cy="84.39" r="0.9"/><circle cx="512.53" cy="111.70" r="0.9"/><circle cx="511.97" cy="114.62" r="0.9"/><circle cx="509.93" cy="137.08" r="0.9"/><circle cx="507.78" cy="110.36" r="0.9"/><circle cx="510.97" cy="111.68" r="0.9"/><circle cx="508.38" cy="146.90" r="0.9"/><circle cx="510.32" cy="96.53" r="0.9"/><circle cx="511.17" cy="135.38" r="0.9"/><circle cx="510.55" cy="87.96" r="0.9"/><circle cx="508.92" cy="127.94" r="0.9"/><circle cx="512.60" cy="142.17" r="0.9"/><circle cx="509.89" cy="96.67" r="0.9"/><circle cx="510.03" cy="113.53" r="0.9"/><circle cx="507.99" cy="119.11" r="0.9"/><circle cx="508.50" cy="112.37" r="0.9"/><circle cx="509.48" cy="128.98" r="0.9"/><circle cx="510.53" cy="95.70" r="0.9"/><circle cx="512.26" cy="115.02" r="0.9"/><circle cx="509.93" cy="82.72" r="0.9"/><circle cx="510.53" cy="102.64" r="0.9"/><circle cx="511.91" cy="116.15" r="0.9"/><circle cx="510.91" cy="120.29" r="0.9"/><circle cx="509.78" cy="100.57" r="0.9"/><circle cx="512.71" cy="104.75" r="0.9"/><circle cx="509.46" cy="72.77" r="0.9"/><circle cx="512.57" cy="117.67" r="0.9"/><circle cx="510.53" cy="134.71" r="0.9"/><circle cx="511.70" cy="80.52" r="0.9"/><circle cx="511.56" cy="105.90" r="0.9"/><circle cx="510.84" cy="113.05" r="0.9"/><circle cx="510.45" cy="120.55" r="0.9"/><circle cx="509.99" cy="125.86" r="0.9"/><circle cx="508.54" cy="143.70" r="0.9"/><circle cx="509.58" cy="117.59" r="0.9"/><circle cx="509.86" cy="101.25" r="0.9"/><circle cx="510.76" cy="94.81" r="0.9"/><circle cx="508.73" cy="111.13" r="0.9"/><circle cx="512.41" cy="117.31" r="0.9"/><circle cx="511.32" cy="106.43" r="0.9"/><circle cx="510.13" cy="132.07" r="0.9"/><circle cx="507.66" cy="95.39" r="0.9"/><circle cx="510.32" cy="101.49" r="0.9"/><circle cx="512.77" cy="109.12" r="0.9"/><circle cx="512.00" cy="122.38" r="0.9"/><circle cx="511.73" cy="90.61" r="0.9"/><circle cx="510.20" cy="105.65" r="0.9"/><circle cx="508.21" cy="92.18" r="0.9"/><circle cx="507.67" cy="113.73" r="0.9"/><circle cx="509.96" cy="137.95" r="0.9"/><circle cx="512.44" cy="130.66" r="0.9"/><circle cx="510.18" cy="97.87" r="0.9"/><circle cx="511.52" cy="122.41" r="0.9"/><circle cx="508.47" cy="107.70" r="0.9"/><circle cx="507.82" cy="97.13" r="0.9"/><circle cx="510.08" cy="113.60" r="0.9"/><circle cx="508.32" cy="85.48" r="0.9"/><circle cx="511.71" cy="108.53" r="0.9"/><circle cx="512.43" cy="95.61" r="0.9"/><circle cx="508.84" cy="134.39" r="0.9"/><circle cx="512.01" cy="136.99" r="0.9"/><circle cx="511.10" cy="124.66" r="0.9"/><circle cx="512.67" cy="107.40" r="0.9"/><circle cx="507.86" cy="120.83" r="0.9"/><circle cx="508.73" cy="112.59" r="0.9"/><circle cx="508.86" cy="155.96" r="0.9"/><circle cx="510.59" cy="114.83" r="0.9"/><circle cx="509.09" cy="124.40" r="0.9"/><circle cx="512.42" cy="64.57" r="0.9"/><circle cx="510.06" cy="92.09" r="0.9"/><circle cx="512.69" cy="144.61" r="0.9"/><circle cx="508.92" cy="125.31" r="0.9"/><circle cx="510.87" cy="110.21" r="0.9"/><circle cx="510.30" cy="129.90" r="0.9"/><circle cx="510.35" cy="139.05" r="0.9"/><circle cx="511.08" cy="132.97" r="0.9"/><circle cx="507.86" cy="124.29" r="0.9"/><circle cx="508.33" cy="137.41" r="0.9"/><circle cx="509.84" cy="104.23" r="0.9"/><circle cx="511.08" cy="91.77" r="0.9"/><circle cx="510.61" cy="156.14" r="0.9"/><circle cx="512.67" cy="144.13" r="0.9"/><circle cx="509.36" cy="154.76" r="0.9"/><circle cx="512.39" cy="94.50" r="0.9"/><circle cx="512.40" cy="97.41" r="0.9"/><circle cx="511.04" cy="117.81" r="0.9"/><circle cx="510.76" cy="127.36" r="0.9"/><circle cx="510.70" cy="130.80" r="0.9"/><circle cx="508.01" cy="142.25" r="0.9"/><circle cx="509.95" cy="114.54" r="0.9"/><circle cx="510.51" cy="100.60" r="0.9"/><circle cx="508.96" cy="118.83" r="0.9"/><circle cx="510.82" cy="139.46" r="0.9"/><circle cx="511.85" cy="104.32" r="0.9"/><circle cx="509.95" cy="95.64" r="0.9"/><circle cx="509.46" cy="133.03" r="0.9"/><circle cx="512.20" cy="116.24" r="0.9"/><circle cx="511.30" cy="98.67" r="0.9"/><circle cx="507.64" cy="112.58" r="0.9"/><circle cx="511.64" cy="117.73" r="0.9"/><circle cx="512.77" cy="125.35" r="0.9"/><circle cx="509.27" cy="121.51" r="0.9"/><circle cx="511.99" cy="105.82" r="0.9"/><circle cx="512.34" cy="140.24" r="0.9"/><circle cx="509.03" cy="129.04" r="0.9"/><circle cx="510.35" cy="106.73" r="0.9"/><circle cx="509.13" cy="96.43" r="0.9"/><circle cx="510.88" cy="113.37" r="0.9"/><circle cx="511.22" cy="116.95" r="0.9"/><circle cx="512.06" cy="127.89" r="0.9"/><circle cx="508.27" cy="106.42" r="0.9"/><circle cx="510.48" cy="88.44" r="0.9"/><circle cx="508.78" cy="138.32" r="0.9"/><circle cx="507.62" cy="128.86" r="0.9"/><circle cx="512.60" cy="98.67" r="0.9"/><circle cx="507.96" cy="117.96" r="0.9"/><circle cx="510.24" cy="108.25" r="0.9"/><circle cx="511.97" cy="169.97" r="0.9"/><circle cx="512.49" cy="116.55" r="0.9"/><circle cx="512.36" cy="73.72" r="0.9"/><circle cx="511.88" cy="92.66" r="0.9"/><circle cx="512.39" cy="99.72" r="0.9"/><circle cx="512.62" cy="106.89" r="0.9"/><circle cx="509.63" cy="124.03" r="0.9"/></g>
<path d="M434.20,15.60 V192.40 H538.30" fill="none" stroke="#8c8c8c" stroke-width="1.1"/>
<line x1="432.00" y1="184.20" x2="434.20" y2="184.20" stroke="#8c8c8c" stroke-width="1"/>
<text x="430.70" y="188.60" text-anchor="end" class="tk">0</text>
<line x1="432.00" y1="136.97" x2="434.20" y2="136.97" stroke="#8c8c8c" stroke-width="1"/>
<text x="430.70" y="141.37" text-anchor="end" class="tk">5</text>
<line x1="432.00" y1="89.73" x2="434.20" y2="89.73" stroke="#8c8c8c" stroke-width="1"/>
<text x="430.70" y="94.13" text-anchor="end" class="tk">10</text>
<line x1="432.00" y1="42.50" x2="434.20" y2="42.50" stroke="#8c8c8c" stroke-width="1"/>
<text x="430.70" y="46.90" text-anchor="end" class="tk">15</text>
<line x1="462.30" y1="192.40" x2="462.30" y2="194.20" stroke="#8c8c8c" stroke-width="1"/>
<text x="462.30" y="204.80" text-anchor="middle" class="xl" font-size="10.50">HC</text>
<line x1="510.20" y1="192.40" x2="510.20" y2="194.20" stroke="#8c8c8c" stroke-width="1"/>
<text x="510.20" y="204.80" text-anchor="middle" class="xl" font-size="10.50">PCC</text>
<text x="486.00" y="10.60" text-anchor="middle" class="tt" font-size="11.50">FRB1</text>
<text x="486.40" y="23.75" text-anchor="middle" class="st">*</text>
<path d="M462.30,30.90 V26.70 H510.20 V30.90" fill="none" stroke="#1a1a1a" stroke-width="1.5" stroke-linecap="round" stroke-linejoin="round"/>
<path d="M608.10,125.25 L615.50,125.25 L616.33,126.89 L617.14,128.53 L617.96,130.16 L618.78,131.80 L619.63,133.44 L620.50,135.08 L621.43,136.71 L622.43,138.35 L623.44,139.99 L624.43,141.63 L625.38,143.26 L626.23,144.90 L626.99,146.54 L627.69,148.18 L628.34,149.82 L628.93,151.45 L629.46,153.09 L629.92,154.73 L630.32,156.37 L630.66,158.00 L630.94,159.64 L631.15,161.28 L631.27,162.92 L631.31,164.55 L631.24,166.19 L631.08,167.83 L630.83,169.47 L630.51,171.11 L630.12,172.74 L629.68,174.38 L629.19,176.02 L628.63,177.66 L628.01,179.29 L627.34,180.93 L626.62,182.57 L625.87,184.21 L625.08,185.84 L624.21,187.48 L623.29,189.12 L622.34,190.76 L621.40,192.40 L620.51,194.03 L619.67,195.67 L618.88,197.31 L618.11,198.95 L617.37,200.58 L616.65,202.22 L615.96,203.86 L615.30,205.50 L614.67,207.13 L614.07,208.77 L613.49,210.41 L612.94,212.05 L612.41,213.69 L611.89,215.32 L611.41,216.96 L610.97,218.60 L610.55,220.24 L610.13,221.87 L609.70,223.51 L608.10,223.51 Z" fill="#FBB7B3" stroke="#F8766D" stroke-width="0.5"/>
<path d="M658.70,135.59 L665.30,135.59 L666.28,138.01 L667.27,140.42 L668.24,142.83 L669.15,145.25 L669.99,147.66 L670.77,150.07 L671.51,152.49 L672.21,154.90 L672.89,157.31 L673.54,159.73 L674.17,162.14 L674.75,164.55 L675.27,166.97 L675.75,169.38 L676.19,171.79 L676.56,174.21 L676.86,176.62 L677.09,179.04 L677.25,181.45 L677.33,183.86 L677.33,186.28 L677.25,188.69 L677.10,191.10 L676.80,193.52 L676.25,195.93 L675.43,198.34 L674.45,200.76 L673.39,203.17 L672.29,205.58 L671.24,208.00 L670.28,210.41 L669.49,212.82 L668.82,215.24 L668.23,217.65 L667.70,220.06 L667.21,222.48 L666.75,224.89 L666.30,227.30 L665.84,229.72 L665.38,232.13 L664.95,234.54 L664.53,236.96 L664.13,239.37 L663.74,241.78 L663.37,244.20 L663.02,246.61 L662.70,249.03 L662.39,251.44 L662.11,253.85 L661.84,256.27 L661.58,258.68 L661.32,261.09 L661.07,263.51 L660.83,265.92 L660.59,268.33 L660.37,270.75 L660.15,273.16 L659.94,275.57 L659.72,277.99 L659.50,280.40 L658.70,280.40 Z" fill="#80DEE0" stroke="#00BFC4" stroke-width="0.5"/>
<line x1="603.20" y1="125.25" x2="603.20" y2="223.51" stroke="#F8766D" stroke-width="0.6"/>
<rect x="600.10" y="147.22" width="5.6" height="36.26" fill="#F8766D" fill-opacity="0.22" stroke="#F8766D" stroke-width="0.5" stroke-opacity="0.5"/>
<g fill="#F8766D" fill-opacity="0.85"><circle cx="604.99" cy="147.91" r="0.9"/><circle cx="601.91" cy="173.69" r="0.9"/><circle cx="601.15" cy="154.55" r="0.9"/><circle cx="603.35" cy="160.95" r="0.9"/><circle cx="601.49" cy="187.45" r="0.9"/><circle cx="602.54" cy="133.78" r="0.9"/><circle cx="602.44" cy="170.65" r="0.9"/><circle cx="601.38" cy="144.22" r="0.9"/><circle cx="603.61" cy="193.87" r="0.9"/><circle cx="601.30" cy="162.50" r="0.9"/><circle cx="604.08" cy="130.33" r="0.9"/><circle cx="605.41" cy="150.43" r="0.9"/><circle cx="601.43" cy="167.97" r="0.9"/><circle cx="600.89" cy="130.03" r="0.9"/><circle cx="602.43" cy="175.83" r="0.9"/><circle cx="605.33" cy="197.56" r="0.9"/><circle cx="603.91" cy="159.11" r="0.9"/><circle cx="603.26" cy="174.78" r="0.9"/><circle cx="603.18" cy="168.72" r="0.9"/><circle cx="604.95" cy="173.98" r="0.9"/><circle cx="602.71" cy="161.10" r="0.9"/><circle cx="605.61" cy="160.05" r="0.9"/><circle cx="602.85" cy="149.59" r="0.9"/><circle cx="601.69" cy="189.95" r="0.9"/><circle cx="604.71" cy="203.05" r="0.9"/><circle cx="603.08" cy="181.15" r="0.9"/><circle cx="603.61" cy="172.75" r="0.9"/><circle cx="601.20" cy="201.00" r="0.9"/><circle cx="601.58" cy="160.89" r="0.9"/><circle cx="604.12" cy="198.84" r="0.9"/><circle cx="601.80" cy="197.06" r="0.9"/><circle cx="602.31" cy="164.03" r="0.9"/><circle cx="605.14" cy="193.63" r="0.9"/><circle cx="602.65" cy="136.79" r="0.9"/><circle cx="601.65" cy="221.21" r="0.9"/><circle cx="605.54" cy="195.85" r="0.9"/><circle cx="602.65" cy="183.16" r="0.9"/><circle cx="604.99" cy="153.40" r="0.9"/><circle cx="603.13" cy="130.52" r="0.9"/><circle cx="604.19" cy="160.21" r="0.9"/><circle cx="604.76" cy="162.01" r="0.9"/><circle cx="604.47" cy="138.16" r="0.9"/><circle cx="601.90" cy="154.32" r="0.9"/><circle cx="600.86" cy="142.45" r="0.9"/><circle cx="604.35" cy="125.46" r="0.9"/><circle cx="602.48" cy="190.43" r="0.9"/><circle cx="603.48" cy="141.87" r="0.9"/><circle cx="601.21" cy="190.38" r="0.9"/><circle cx="604.17" cy="125.80" r="0.9"/><circle cx="604.72" cy="180.65" r="0.9"/><circle cx="605.71" cy="149.75" r="0.9"/><circle cx="602.27" cy="177.16" r="0.9"/><circle cx="603.65" cy="184.50" r="0.9"/><circle cx="604.85" cy="143.29" r="0.9"/><circle cx="604.86" cy="151.00" r="0.9"/><circle cx="603.23" cy="141.93" r="0.9"/><circle cx="603.63" cy="133.14" r="0.9"/><circle cx="604.82" cy="185.77" r="0.9"/><circle cx="601.43" cy="169.32" r="0.9"/><circle cx="603.49" cy="191.66" r="0.9"/><circle cx="604.45" cy="145.66" r="0.9"/><circle cx="605.35" cy="160.42" r="0.9"/><circle cx="602.33" cy="151.01" r="0.9"/><circle cx="603.91" cy="170.20" r="0.9"/><circle cx="600.75" cy="177.42" r="0.9"/><circle cx="601.51" cy="175.62" r="0.9"/><circle cx="602.97" cy="151.48" r="0.9"/><circle cx="600.66" cy="147.03" r="0.9"/><circle cx="601.92" cy="160.10" r="0.9"/><circle cx="600.89" cy="149.48" r="0.9"/><circle cx="602.68" cy="191.27" r="0.9"/><circle cx="603.01" cy="166.39" r="0.9"/><circle cx="604.42" cy="167.36" r="0.9"/><circle cx="602.28" cy="170.21" r="0.9"/><circle cx="605.62" cy="155.31" r="0.9"/><circle cx="603.98" cy="147.77" r="0.9"/><circle cx="603.11" cy="134.64" r="0.9"/><circle cx="601.37" cy="200.62" r="0.9"/><circle cx="605.32" cy="170.25" r="0.9"/><circle cx="605.02" cy="175.85" r="0.9"/><circle cx="603.26" cy="124.78" r="0.9"/><circle cx="602.57" cy="187.73" r="0.9"/><circle cx="600.76" cy="170.20" r="0.9"/><circle cx="601.33" cy="191.03" r="0.9"/><circle cx="602.21" cy="188.20" r="0.9"/><circle cx="605.67" cy="173.71" r="0.9"/><circle cx="602.86" cy="128.29" r="0.9"/><circle cx="602.50" cy="173.36" r="0.9"/><circle cx="605.53" cy="142.45" r="0.9"/><circle cx="605.66" cy="187.16" r="0.9"/><circle cx="600.85" cy="182.42" r="0.9"/><circle cx="600.99" cy="139.81" r="0.9"/><circle cx="603.70" cy="183.73" r="0.9"/><circle cx="604.94" cy="190.38" r="0.9"/><circle cx="605.71" cy="139.81" r="0.9"/><circle cx="605.51" cy="165.60" r="0.9"/><circle cx="602.56" cy="192.77" r="0.9"/><circle cx="604.39" cy="136.57" r="0.9"/><circle cx="600.72" cy="173.17" r="0.9"/><circle cx="604.56" cy="200.97" r="0.9"/><circle cx="601.10" cy="163.36" r="0.9"/><circle cx="603.43" cy="163.29" r="0.9"/><circle cx="605.01" cy="167.57" r="0.9"/><circle cx="605.78" cy="168.68" r="0.9"/><circle cx="602.83" cy="199.88" r="0.9"/><circle cx="602.82" cy="187.33" r="0.9"/><circle cx="605.08" cy="147.19" r="0.9"/><circle cx="602.29" cy="172.57" r="0.9"/><circle cx="604.06" cy="154.88" r="0.9"/><circle cx="603.97" cy="132.31" r="0.9"/><circle cx="604.82" cy="127.48" r="0.9"/><circle cx="604.87" cy="186.05" r="0.9"/><circle cx="605.52" cy="134.39" r="0.9"/><circle cx="601.09" cy="185.27" r="0.9"/><circle cx="603.93" cy="143.24" r="0.9"/></g>
<line x1="653.60" y1="135.59" x2="653.60" y2="280.40" stroke="#00BFC4" stroke-width="0.6"/>
<rect x="650.50" y="161.01" width="5.6" height="42.14" fill="#00BFC4" fill-opacity="0.22" stroke="#00BFC4" stroke-width="0.5" stroke-opacity="0.5"/>
<g fill="#00BFC4" fill-opacity="0.85"><circle cx="655.26" cy="142.19" r="0.9"/><circle cx="651.45" cy="211.93" r="0.9"/><circle cx="653.22" cy="142.00" r="0.9"/><circle cx="652.61" cy="148.10" r="0.9"/><circle cx="651.47" cy="195.22" r="0.9"/><circle cx="651.30" cy="151.75" r="0.9"/><circle cx="656.05" cy="199.88" r="0.9"/><circle cx="655.75" cy="162.27" r="0.9"/><circle cx="655.97" cy="169.39" r="0.9"/><circle cx="652.43" cy="200.92" r="0.9"/><circle cx="655.77" cy="148.27" r="0.9"/><circle cx="653.04" cy="183.13" r="0.9"/><circle cx="653.98" cy="168.44" r="0.9"/><circle cx="653.25" cy="136.20" r="0.9"/><circle cx="651.87" cy="139.72" r="0.9"/><circle cx="655.55" cy="213.51" r="0.9"/><circle cx="655.66" cy="142.45" r="0.9"/><circle cx="653.97" cy="179.82" r="0.9"/><circle cx="651.01" cy="189.83" r="0.9"/><circle cx="655.31" cy="186.45" r="0.9"/><circle cx="656.00" cy="192.74" r="0.9"/><circle cx="655.87" cy="211.76" r="0.9"/><circle cx="652.91" cy="188.10" r="0.9"/><circle cx="655.26" cy="204.85" r="0.9"/><circle cx="652.49" cy="161.14" r="0.9"/><circle cx="651.95" cy="162.00" r="0.9"/><circle cx="652.00" cy="204.47" r="0.9"/><circle cx="652.64" cy="209.09" r="0.9"/><circle cx="655.56" cy="136.74" r="0.9"/><circle cx="651.02" cy="186.36" r="0.9"/><circle cx="653.87" cy="153.40" r="0.9"/><circle cx="653.90" cy="197.31" r="0.9"/><circle cx="653.44" cy="172.75" r="0.9"/><circle cx="653.81" cy="181.74" r="0.9"/><circle cx="655.36" cy="210.35" r="0.9"/><circle cx="655.23" cy="188.28" r="0.9"/><circle cx="656.05" cy="214.50" r="0.9"/><circle cx="653.83" cy="159.29" r="0.9"/><circle cx="655.09" cy="196.03" r="0.9"/><circle cx="652.18" cy="171.35" r="0.9"/><circle cx="653.83" cy="216.84" r="0.9"/><circle cx="652.75" cy="173.06" r="0.9"/><circle cx="653.02" cy="196.21" r="0.9"/><circle cx="651.50" cy="142.85" r="0.9"/><circle cx="654.12" cy="178.23" r="0.9"/><circle cx="652.70" cy="195.34" r="0.9"/><circle cx="655.95" cy="149.11" r="0.9"/><circle cx="653.94" cy="196.47" r="0.9"/><circle cx="654.38" cy="236.71" r="0.9"/><circle cx="654.54" cy="196.69" r="0.9"/><circle cx="653.00" cy="199.89" r="0.9"/><circle cx="652.83" cy="159.16" r="0.9"/><circle cx="651.52" cy="193.73" r="0.9"/><circle cx="651.88" cy="184.50" r="0.9"/><circle cx="652.55" cy="161.14" r="0.9"/><circle cx="653.17" cy="137.30" r="0.9"/><circle cx="653.74" cy="136.99" r="0.9"/><circle cx="653.08" cy="204.26" r="0.9"/><circle cx="655.23" cy="183.17" r="0.9"/><circle cx="653.66" cy="222.48" r="0.9"/><circle cx="651.96" cy="218.25" r="0.9"/><circle cx="651.46" cy="154.98" r="0.9"/><circle cx="651.21" cy="222.36" r="0.9"/><circle cx="653.98" cy="196.17" r="0.9"/><circle cx="654.93" cy="153.15" r="0.9"/><circle cx="654.24" cy="220.56" r="0.9"/><circle cx="655.13" cy="206.23" r="0.9"/><circle cx="651.63" cy="217.91" r="0.9"/><circle cx="652.38" cy="205.65" r="0.9"/><circle cx="652.93" cy="201.26" r="0.9"/><circle cx="651.18" cy="198.16" r="0.9"/><circle cx="651.62" cy="191.46" r="0.9"/><circle cx="655.84" cy="237.27" r="0.9"/><circle cx="653.14" cy="194.15" r="0.9"/><circle cx="654.54" cy="178.54" r="0.9"/><circle cx="656.07" cy="149.39" r="0.9"/><circle cx="651.44" cy="151.02" r="0.9"/><circle cx="651.03" cy="167.93" r="0.9"/><circle cx="654.23" cy="185.09" r="0.9"/><circle cx="651.52" cy="181.57" r="0.9"/><circle cx="655.62" cy="175.03" r="0.9"/><circle cx="653.08" cy="151.14" r="0.9"/><circle cx="651.29" cy="211.52" r="0.9"/><circle cx="654.20" cy="175.08" r="0.9"/><circle cx="653.61" cy="150.55" r="0.9"/><circle cx="651.01" cy="204.55" r="0.9"/><circle cx="653.15" cy="202.38" r="0.9"/><circle cx="654.83" cy="153.05" r="0.9"/><circle cx="653.26" cy="197.47" r="0.9"/><circle cx="654.26" cy="184.06" r="0.9"/><circle cx="655.83" cy="209.20" r="0.9"/><circle cx="654.04" cy="188.87" r="0.9"/><circle cx="653.51" cy="152.00" r="0.9"/><circle cx="654.45" cy="210.24" r="0.9"/><circle cx="656.19" cy="218.84" r="0.9"/><circle cx="653.57" cy="184.65" r="0.9"/><circle cx="655.24" cy="186.19" r="0.9"/><circle cx="652.58" cy="158.64" r="0.9"/><circle cx="653.16" cy="204.14" r="0.9"/><circle cx="653.25" cy="202.04" r="0.9"/><circle cx="653.50" cy="179.59" r="0.9"/><circle cx="651.53" cy="197.25" r="0.9"/><circle cx="654.69" cy="202.69" r="0.9"/><circle cx="652.29" cy="183.13" r="0.9"/><circle cx="653.45" cy="197.18" r="0.9"/><circle cx="653.14" cy="187.08" r="0.9"/><circle cx="654.15" cy="207.17" r="0.9"/><circle cx="651.28" cy="136.73" r="0.9"/><circle cx="655.81" cy="180.69" r="0.9"/><circle cx="653.32" cy="181.24" r="0.9"/><circle cx="651.69" cy="141.06" r="0.9"/><circle cx="654.98" cy="183.92" r="0.9"/><circle cx="651.44" cy="209.43" r="0.9"/><circle cx="654.68" cy="149.80" r="0.9"/><circle cx="653.08" cy="191.65" r="0.9"/><circle cx="653.03" cy="167.28" r="0.9"/><circle cx="652.06" cy="219.78" r="0.9"/><circle cx="654.67" cy="195.18" r="0.9"/><circle cx="652.49" cy="193.21" r="0.9"/><circle cx="653.50" cy="224.18" r="0.9"/><circle cx="655.79" cy="212.36" r="0.9"/><circle cx="652.37" cy="215.07" r="0.9"/><circle cx="653.97" cy="184.88" r="0.9"/><circle cx="654.74" cy="247.07" r="0.9"/><circle cx="655.54" cy="162.38" r="0.9"/><circle cx="651.30" cy="173.83" r="0.9"/><circle cx="654.03" cy="165.67" r="0.9"/><circle cx="652.13" cy="198.41" r="0.9"/><circle cx="655.50" cy="187.70" r="0.9"/><circle cx="652.55" cy="218.99" r="0.9"/><circle cx="655.54" cy="205.56" r="0.9"/><circle cx="654.27" cy="210.42" r="0.9"/><circle cx="655.71" cy="157.54" r="0.9"/><circle cx="655.93" cy="170.24" r="0.9"/><circle cx="653.64" cy="208.43" r="0.9"/><circle cx="652.83" cy="199.95" r="0.9"/><circle cx="656.04" cy="201.09" r="0.9"/><circle cx="655.72" cy="172.16" r="0.9"/><circle cx="654.43" cy="176.50" r="0.9"/><circle cx="653.24" cy="140.33" r="0.9"/><circle cx="655.15" cy="214.25" r="0.9"/><circle cx="652.87" cy="193.59" r="0.9"/><circle cx="651.85" cy="218.36" r="0.9"/><circle cx="652.01" cy="178.21" r="0.9"/><circle cx="655.72" cy="177.64" r="0.9"/><circle cx="655.27" cy="201.14" r="0.9"/><circle cx="654.88" cy="160.65" r="0.9"/><circle cx="653.29" cy="160.45" r="0.9"/><circle cx="651.66" cy="240.05" r="0.9"/><circle cx="652.79" cy="179.50" r="0.9"/><circle cx="654.43" cy="190.58" r="0.9"/><circle cx="652.24" cy="211.94" r="0.9"/><circle cx="655.07" cy="222.94" r="0.9"/><circle cx="655.05" cy="144.73" r="0.9"/><circle cx="653.54" cy="148.34" r="0.9"/><circle cx="655.19" cy="219.03" r="0.9"/><circle cx="653.51" cy="208.44" r="0.9"/><circle cx="651.06" cy="161.99" r="0.9"/><circle cx="654.86" cy="174.29" r="0.9"/><circle cx="653.33" cy="220.67" r="0.9"/><circle cx="653.74" cy="145.21" r="0.9"/><circle cx="651.44" cy="255.71" r="0.9"/><circle cx="655.02" cy="217.10" r="0.9"/><circle cx="655.00" cy="198.94" r="0.9"/><circle cx="654.60" cy="135.29" r="0.9"/><circle cx="656.03" cy="174.76" r="0.9"/><circle cx="655.90" cy="150.97" r="0.9"/><circle cx="655.04" cy="218.21" r="0.9"/><circle cx="651.51" cy="152.73" r="0.9"/><circle cx="651.46" cy="213.85" r="0.9"/><circle cx="652.76" cy="187.35" r="0.9"/><circle cx="652.42" cy="187.21" r="0.9"/><circle cx="654.33" cy="161.43" r="0.9"/><circle cx="654.85" cy="177.32" r="0.9"/><circle cx="655.17" cy="178.73" r="0.9"/><circle cx="654.98" cy="232.48" r="0.9"/><circle cx="656.12" cy="167.69" r="0.9"/><circle cx="653.41" cy="210.25" r="0.9"/><circle cx="653.95" cy="178.03" r="0.9"/><circle cx="652.59" cy="152.53" r="0.9"/><circle cx="655.25" cy="137.20" r="0.9"/><circle cx="654.57" cy="221.27" r="0.9"/><circle cx="653.05" cy="216.16" r="0.9"/><circle cx="654.38" cy="210.50" r="0.9"/><circle cx="654.89" cy="137.67" r="0.9"/><circle cx="652.45" cy="209.14" r="0.9"/><circle cx="655.06" cy="209.36" r="0.9"/><circle cx="653.05" cy="140.50" r="0.9"/><circle cx="653.58" cy="196.79" r="0.9"/><circle cx="652.44" cy="196.85" r="0.9"/><circle cx="654.95" cy="167.05" r="0.9"/><circle cx="654.10" cy="160.44" r="0.9"/><circle cx="654.51" cy="199.53" r="0.9"/><circle cx="656.03" cy="254.51" r="0.9"/><circle cx="652.84" cy="172.34" r="0.9"/><circle cx="654.25" cy="196.11" r="0.9"/><circle cx="654.38" cy="194.53" r="0.9"/><circle cx="651.98" cy="198.45" r="0.9"/><circle cx="653.41" cy="181.51" r="0.9"/><circle cx="652.12" cy="174.55" r="0.9"/><circle cx="652.23" cy="168.26" r="0.9"/><circle cx="654.11" cy="149.42" r="0.9"/><circle cx="653.00" cy="148.17" r="0.9"/><circle cx="652.09" cy="173.08" r="0.9"/><circle cx="652.62" cy="194.48" r="0.9"/><circle cx="653.01" cy="177.90" r="0.9"/><circle cx="656.14" cy="211.90" r="0.9"/><circle cx="653.10" cy="141.85" r="0.9"/><circle cx="654.75" cy="202.33" r="0.9"/><circle cx="653.07" cy="162.89" r="0.9"/><circle cx="651.79" cy="148.13" r="0.9"/><circle cx="654.33" cy="188.89" r="0.9"/><circle cx="653.48" cy="222.21" r="0.9"/><circle cx="654.13" cy="169.15" r="0.9"/><circle cx="654.46" cy="162.59" r="0.9"/><circle cx="653.10" cy="217.93" r="0.9"/><circle cx="651.41" cy="181.54" r="0.9"/><circle cx="654.23" cy="196.81" r="0.9"/><circle cx="651.72" cy="166.75" r="0.9"/><circle cx="655.75" cy="168.71" r="0.9"/><circle cx="653.80" cy="145.29" r="0.9"/><circle cx="652.71" cy="160.96" r="0.9"/><circle cx="654.75" cy="217.25" r="0.9"/><circle cx="653.27" cy="159.27" r="0.9"/><circle cx="651.60" cy="159.89" r="0.9"/><circle cx="652.53" cy="247.23" r="0.9"/><circle cx="653.73" cy="201.77" r="0.9"/><circle cx="653.73" cy="188.76" r="0.9"/><circle cx="654.48" cy="167.11" r="0.9"/><circle cx="656.10" cy="221.51" r="0.9"/><circle cx="651.04" cy="197.29" r="0.9"/><circle cx="654.62" cy="200.21" r="0.9"/><circle cx="653.08" cy="148.72" r="0.9"/><circle cx="652.26" cy="193.63" r="0.9"/><circle cx="655.49" cy="214.55" r="0.9"/><circle cx="653.94" cy="202.20" r="0.9"/><circle cx="651.68" cy="192.91" r="0.9"/><circle cx="653.77" cy="148.85" r="0.9"/><circle cx="655.73" cy="165.92" r="0.9"/><circle cx="652.36" cy="156.65" r="0.9"/><circle cx="655.21" cy="197.44" r="0.9"/><circle cx="654.57" cy="202.97" r="0.9"/><circle cx="654.67" cy="180.15" r="0.9"/><circle cx="651.46" cy="148.46" r="0.9"/><circle cx="653.68" cy="143.90" r="0.9"/><circle cx="656.05" cy="200.14" r="0.9"/><circle cx="652.17" cy="245.19" r="0.9"/><circle cx="653.00" cy="176.00" r="0.9"/><circle cx="652.63" cy="158.92" r="0.9"/><circle cx="652.57" cy="170.12" r="0.9"/><circle cx="651.98" cy="139.45" r="0.9"/><circle cx="652.97" cy="182.02" r="0.9"/><circle cx="655.22" cy="145.48" r="0.9"/><circle cx="651.81" cy="195.13" r="0.9"/><circle cx="655.85" cy="146.02" r="0.9"/><circle cx="652.71" cy="176.65" r="0.9"/><circle cx="654.34" cy="230.73" r="0.9"/><circle cx="652.96" cy="192.82" r="0.9"/><circle cx="653.83" cy="197.62" r="0.9"/><circle cx="655.11" cy="277.91" r="0.9"/></g>
<path d="M572.70,101.25 V289.20 H685.00" fill="none" stroke="#8c8c8c" stroke-width="1.1"/>
<line x1="570.50" y1="280.40" x2="572.70" y2="280.40" stroke="#8c8c8c" stroke-width="1"/>
<text x="569.20" y="284.80" text-anchor="end" class="tk">0</text>
<line x1="570.50" y1="254.54" x2="572.70" y2="254.54" stroke="#8c8c8c" stroke-width="1"/>
<text x="569.20" y="258.94" text-anchor="end" class="tk">5</text>
<line x1="570.50" y1="228.68" x2="572.70" y2="228.68" stroke="#8c8c8c" stroke-width="1"/>
<text x="569.20" y="233.08" text-anchor="end" class="tk">10</text>
<line x1="570.50" y1="202.82" x2="572.70" y2="202.82" stroke="#8c8c8c" stroke-width="1"/>
<text x="569.20" y="207.22" text-anchor="end" class="tk">15</text>
<line x1="570.50" y1="176.97" x2="572.70" y2="176.97" stroke="#8c8c8c" stroke-width="1"/>
<text x="569.20" y="181.37" text-anchor="end" class="tk">20</text>
<line x1="570.50" y1="151.11" x2="572.70" y2="151.11" stroke="#8c8c8c" stroke-width="1"/>
<text x="569.20" y="155.51" text-anchor="end" class="tk">25</text>
<line x1="570.50" y1="125.25" x2="572.70" y2="125.25" stroke="#8c8c8c" stroke-width="1"/>
<text x="569.20" y="129.65" text-anchor="end" class="tk">30</text>
<line x1="603.20" y1="289.20" x2="603.20" y2="291.00" stroke="#8c8c8c" stroke-width="1"/>
<text x="603.20" y="302.70" text-anchor="middle" class="xl" font-size="10.90">HC</text>
<line x1="653.60" y1="289.20" x2="653.60" y2="291.00" stroke="#8c8c8c" stroke-width="1"/>
<text x="653.60" y="302.70" text-anchor="middle" class="xl" font-size="10.90">PCC</text>
<text x="628.30" y="95.90" text-anchor="middle" class="tt" font-size="12.30">DR</text>
<text x="628.70" y="109.00" text-anchor="middle" class="st">*</text>
<path d="M603.20,117.20 V112.60 H653.60 V117.20" fill="none" stroke="#1a1a1a" stroke-width="1.5" stroke-linecap="round" stroke-linejoin="round"/>
<path d="M50.20,259.10 L56.40,259.10 L56.80,261.44 L57.21,263.78 L57.63,266.11 L58.04,268.45 L58.45,270.79 L58.86,273.13 L59.27,275.47 L59.67,277.80 L60.06,280.14 L60.44,282.48 L60.80,284.82 L61.16,287.16 L61.52,289.49 L61.86,291.83 L62.20,294.17 L62.53,296.51 L62.86,298.85 L63.17,301.18 L63.48,303.52 L63.78,305.86 L64.08,308.20 L64.36,310.54 L64.63,312.87 L64.89,315.21 L65.13,317.55 L65.37,319.89 L65.59,322.23 L65.80,324.56 L66.01,326.90 L66.20,329.24 L66.40,331.58 L66.59,333.92 L66.74,336.25 L66.83,338.59 L66.81,340.93 L66.70,343.27 L66.52,345.61 L66.27,347.94 L65.94,350.28 L65.54,352.62 L65.05,354.96 L64.47,357.30 L63.82,359.63 L63.11,361.97 L62.37,364.31 L61.59,366.65 L60.81,368.99 L60.00,371.32 L59.13,373.66 L58.22,376.00 L57.31,378.34 L56.43,380.68 L55.62,383.01 L54.90,385.35 L54.27,387.69 L53.70,390.03 L53.17,392.37 L52.66,394.70 L52.14,397.04 L51.60,399.38 L50.20,399.38 Z" fill="#FBB7B3" stroke="#F8766D" stroke-width="0.5"/>
<path d="M100.30,279.14 L102.40,279.14 L103.16,281.14 L103.90,283.15 L104.65,285.15 L105.39,287.16 L106.14,289.16 L106.89,291.16 L107.66,293.17 L108.44,295.17 L109.23,297.18 L110.06,299.18 L110.93,301.18 L111.84,303.19 L112.77,305.19 L113.71,307.20 L114.63,309.20 L115.53,311.20 L116.38,313.21 L117.17,315.21 L117.89,317.22 L118.56,319.22 L119.19,321.22 L119.79,323.23 L120.35,325.23 L120.89,327.24 L121.40,329.24 L121.89,331.24 L122.37,333.25 L122.80,335.25 L123.02,337.26 L123.10,339.26 L123.10,341.26 L123.02,343.27 L122.79,345.27 L122.33,347.28 L121.83,349.28 L121.30,351.28 L120.73,353.29 L120.14,355.29 L119.50,357.30 L118.82,359.30 L118.10,361.30 L117.32,363.31 L116.48,365.31 L115.59,367.32 L114.67,369.32 L113.73,371.32 L112.79,373.33 L111.86,375.33 L110.94,377.34 L110.01,379.34 L109.05,381.34 L108.10,383.35 L107.15,385.35 L106.23,387.36 L105.34,389.36 L104.50,391.36 L103.78,393.37 L103.20,395.37 L102.66,397.38 L102.10,399.38 L100.30,399.38 Z" fill="#80DEE0" stroke="#00BFC4" stroke-width="0.5"/>
<line x1="45.30" y1="259.10" x2="45.30" y2="399.38" stroke="#F8766D" stroke-width="0.6"/>
<rect x="42.20" y="289.16" width="5.6" height="60.12" fill="#F8766D" fill-opacity="0.22" stroke="#F8766D" stroke-width="0.5" stroke-opacity="0.5"/>
<g fill="#F8766D" fill-opacity="0.85"><circle cx="45.04" cy="269.28" r="0.9"/><circle cx="45.57" cy="286.55" r="0.9"/><circle cx="46.68" cy="328.38" r="0.9"/><circle cx="47.63" cy="285.90" r="0.9"/><circle cx="46.54" cy="323.21" r="0.9"/><circle cx="43.44" cy="362.22" r="0.9"/><circle cx="46.40" cy="285.32" r="0.9"/><circle cx="47.18" cy="304.13" r="0.9"/><circle cx="44.42" cy="312.61" r="0.9"/><circle cx="46.12" cy="375.86" r="0.9"/><circle cx="45.27" cy="388.84" r="0.9"/><circle cx="44.79" cy="358.25" r="0.9"/><circle cx="45.99" cy="306.52" r="0.9"/><circle cx="43.01" cy="324.49" r="0.9"/><circle cx="46.37" cy="315.35" r="0.9"/><circle cx="45.89" cy="310.86" r="0.9"/><circle cx="47.32" cy="268.31" r="0.9"/><circle cx="46.00" cy="324.65" r="0.9"/><circle cx="42.82" cy="335.59" r="0.9"/><circle cx="47.10" cy="336.26" r="0.9"/><circle cx="43.80" cy="350.47" r="0.9"/><circle cx="47.07" cy="352.40" r="0.9"/><circle cx="43.38" cy="331.75" r="0.9"/><circle cx="43.78" cy="334.91" r="0.9"/><circle cx="44.00" cy="302.88" r="0.9"/><circle cx="44.84" cy="270.79" r="0.9"/><circle cx="44.86" cy="296.63" r="0.9"/><circle cx="47.27" cy="299.49" r="0.9"/><circle cx="44.87" cy="328.75" r="0.9"/><circle cx="42.90" cy="293.78" r="0.9"/><circle cx="47.84" cy="317.85" r="0.9"/><circle cx="44.89" cy="274.51" r="0.9"/><circle cx="47.42" cy="343.92" r="0.9"/><circle cx="46.48" cy="315.26" r="0.9"/><circle cx="45.36" cy="268.79" r="0.9"/><circle cx="45.83" cy="295.11" r="0.9"/><circle cx="43.64" cy="344.36" r="0.9"/><circle cx="46.63" cy="278.87" r="0.9"/><circle cx="47.11" cy="285.90" r="0.9"/><circle cx="44.73" cy="286.52" r="0.9"/><circle cx="47.74" cy="342.89" r="0.9"/><circle cx="47.11" cy="364.15" r="0.9"/><circle cx="47.48" cy="304.92" r="0.9"/><circle cx="46.15" cy="360.68" r="0.9"/><circle cx="47.30" cy="264.73" r="0.9"/><circle cx="47.07" cy="363.17" r="0.9"/><circle cx="45.57" cy="382.03" r="0.9"/><circle cx="45.40" cy="344.71" r="0.9"/><circle cx="47.62" cy="305.74" r="0.9"/><circle cx="44.28" cy="274.72" r="0.9"/><circle cx="47.08" cy="264.21" r="0.9"/><circle cx="46.68" cy="329.11" r="0.9"/><circle cx="44.47" cy="349.13" r="0.9"/><circle cx="43.35" cy="284.82" r="0.9"/><circle cx="44.13" cy="345.56" r="0.9"/><circle cx="43.05" cy="307.24" r="0.9"/><circle cx="44.04" cy="338.14" r="0.9"/><circle cx="44.41" cy="344.11" r="0.9"/><circle cx="42.85" cy="256.81" r="0.9"/><circle cx="45.99" cy="348.64" r="0.9"/><circle cx="46.57" cy="315.45" r="0.9"/><circle cx="46.57" cy="375.89" r="0.9"/><circle cx="43.74" cy="323.19" r="0.9"/><circle cx="46.15" cy="330.10" r="0.9"/><circle cx="43.07" cy="348.57" r="0.9"/><circle cx="43.01" cy="389.49" r="0.9"/><circle cx="42.95" cy="288.45" r="0.9"/><circle cx="46.59" cy="319.19" r="0.9"/><circle cx="47.83" cy="286.01" r="0.9"/><circle cx="46.86" cy="352.17" r="0.9"/></g>
<line x1="95.20" y1="279.14" x2="95.20" y2="399.38" stroke="#00BFC4" stroke-width="0.6"/>
<rect x="92.10" y="324.02" width="5.6" height="32.04" fill="#00BFC4" fill-opacity="0.22" stroke="#00BFC4" stroke-width="0.5" stroke-opacity="0.5"/>
<g fill="#00BFC4" fill-opacity="0.85"><circle cx="95.48" cy="324.06" r="0.9"/><circle cx="93.69" cy="376.31" r="0.9"/><circle cx="94.70" cy="361.25" r="0.9"/><circle cx="97.36" cy="336.43" r="0.9"/><circle cx="96.47" cy="365.31" r="0.9"/><circle cx="95.15" cy="310.48" r="0.9"/><circle cx="93.63" cy="317.48" r="0.9"/><circle cx="94.60" cy="325.10" r="0.9"/><circle cx="97.46" cy="346.39" r="0.9"/><circle cx="94.18" cy="326.86" r="0.9"/><circle cx="94.52" cy="310.56" r="0.9"/><circle cx="95.44" cy="346.02" r="0.9"/><circle cx="95.81" cy="298.85" r="0.9"/><circle cx="94.82" cy="324.91" r="0.9"/><circle cx="94.94" cy="306.18" r="0.9"/><circle cx="93.77" cy="344.26" r="0.9"/><circle cx="92.90" cy="353.36" r="0.9"/><circle cx="95.86" cy="326.58" r="0.9"/><circle cx="95.02" cy="351.27" r="0.9"/><circle cx="94.78" cy="331.11" r="0.9"/><circle cx="92.80" cy="329.05" r="0.9"/><circle cx="97.66" cy="374.33" r="0.9"/><circle cx="94.37" cy="389.74" r="0.9"/><circle cx="97.68" cy="335.80" r="0.9"/><circle cx="94.76" cy="379.21" r="0.9"/><circle cx="97.02" cy="338.09" r="0.9"/><circle cx="96.08" cy="341.89" r="0.9"/><circle cx="94.44" cy="365.65" r="0.9"/><circle cx="94.49" cy="346.26" r="0.9"/><circle cx="95.13" cy="360.91" r="0.9"/><circle cx="93.27" cy="345.86" r="0.9"/><circle cx="92.78" cy="322.49" r="0.9"/><circle cx="97.23" cy="337.59" r="0.9"/><circle cx="95.02" cy="353.80" r="0.9"/><circle cx="94.61" cy="333.91" r="0.9"/><circle cx="93.31" cy="341.99" r="0.9"/><circle cx="96.77" cy="348.65" r="0.9"/><circle cx="96.39" cy="346.18" r="0.9"/><circle cx="96.08" cy="350.88" r="0.9"/><circle cx="95.97" cy="339.46" r="0.9"/><circle cx="95.07" cy="357.88" r="0.9"/><circle cx="95.95" cy="365.01" r="0.9"/><circle cx="93.77" cy="327.14" r="0.9"/><circle cx="97.77" cy="381.43" r="0.9"/><circle cx="96.06" cy="297.63" r="0.9"/><circle cx="92.80" cy="371.13" r="0.9"/><circle cx="94.19" cy="365.46" r="0.9"/><circle cx="93.29" cy="331.09" r="0.9"/><circle cx="95.83" cy="311.72" r="0.9"/><circle cx="97.78" cy="349.08" r="0.9"/><circle cx="93.59" cy="354.69" r="0.9"/><circle cx="95.75" cy="322.77" r="0.9"/><circle cx="95.71" cy="323.37" r="0.9"/><circle cx="93.84" cy="334.22" r="0.9"/><circle cx="97.14" cy="366.76" r="0.9"/><circle cx="96.02" cy="299.68" r="0.9"/><circle cx="93.92" cy="326.84" r="0.9"/><circle cx="96.90" cy="370.22" r="0.9"/><circle cx="92.61" cy="351.65" r="0.9"/><circle cx="96.85" cy="352.36" r="0.9"/><circle cx="94.65" cy="343.69" r="0.9"/><circle cx="94.96" cy="351.63" r="0.9"/><circle cx="95.71" cy="355.05" r="0.9"/><circle cx="94.97" cy="372.39" r="0.9"/><circle cx="96.27" cy="349.81" r="0.9"/><circle cx="95.80" cy="345.36" r="0.9"/><circle cx="92.87" cy="358.36" r="0.9"/><circle cx="92.84" cy="341.32" r="0.9"/><circle cx="96.98" cy="331.46" r="0.9"/><circle cx="93.63" cy="332.61" r="0.9"/><circle cx="94.44" cy="291.23" r="0.9"/><circle cx="93.34" cy="347.38" r="0.9"/><circle cx="93.42" cy="381.29" r="0.9"/><circle cx="94.02" cy="344.22" r="0.9"/><circle cx="93.20" cy="334.20" r="0.9"/><circle cx="97.01" cy="319.44" r="0.9"/><circle cx="93.61" cy="366.46" r="0.9"/><circle cx="96.95" cy="334.03" r="0.9"/><circle cx="93.86" cy="368.11" r="0.9"/><circle cx="93.50" cy="374.39" r="0.9"/><circle cx="96.40" cy="348.51" r="0.9"/><circle cx="92.94" cy="322.66" r="0.9"/><circle cx="93.56" cy="364.41" r="0.9"/><circle cx="97.27" cy="380.34" r="0.9"/><circle cx="92.85" cy="387.61" r="0.9"/><circle cx="93.63" cy="315.74" r="0.9"/><circle cx="97.38" cy="339.86" r="0.9"/><circle cx="96.64" cy="323.66" r="0.9"/><circle cx="96.93" cy="351.82" r="0.9"/><circle cx="96.35" cy="364.01" r="0.9"/><circle cx="96.21" cy="380.94" r="0.9"/><circle cx="97.72" cy="314.14" r="0.9"/><circle cx="94.95" cy="344.19" r="0.9"/><circle cx="95.64" cy="354.40" r="0.9"/><circle cx="92.64" cy="371.36" r="0.9"/><circle cx="93.94" cy="342.03" r="0.9"/><circle cx="97.36" cy="371.59" r="0.9"/><circle cx="96.54" cy="333.21" r="0.9"/><circle cx="93.36" cy="358.63" r="0.9"/><circle cx="95.62" cy="336.71" r="0.9"/><circle cx="94.78" cy="329.46" r="0.9"/><circle cx="94.34" cy="347.76" r="0.9"/><circle cx="93.48" cy="318.65" r="0.9"/><circle cx="95.61" cy="345.82" r="0.9"/><circle cx="97.44" cy="328.76" r="0.9"/><circle cx="96.40" cy="367.83" r="0.9"/><circle cx="97.48" cy="354.90" r="0.9"/><circle cx="92.73" cy="332.09" r="0.9"/><circle cx="94.57" cy="350.80" r="0.9"/><circle cx="96.07" cy="330.68" r="0.9"/><circle cx="96.04" cy="325.86" r="0.9"/><circle cx="94.31" cy="307.01" r="0.9"/><circle cx="96.00" cy="348.18" r="0.9"/><circle cx="92.85" cy="320.45" r="0.9"/><circle cx="94.84" cy="345.79" r="0.9"/><circle cx="95.33" cy="374.89" r="0.9"/><circle cx="94.14" cy="362.31" r="0.9"/><circle cx="96.44" cy="311.16" r="0.9"/><circle cx="95.70" cy="297.13" r="0.9"/><circle cx="95.75" cy="355.92" r="0.9"/><circle cx="93.81" cy="356.47" r="0.9"/><circle cx="94.30" cy="347.97" r="0.9"/><circle cx="93.43" cy="382.48" r="0.9"/><circle cx="95.21" cy="372.57" r="0.9"/><circle cx="96.62" cy="380.95" r="0.9"/><circle cx="96.59" cy="319.27" r="0.9"/><circle cx="93.98" cy="350.21" r="0.9"/><circle cx="97.07" cy="336.56" r="0.9"/><circle cx="93.92" cy="320.30" r="0.9"/><circle cx="96.74" cy="345.00" r="0.9"/><circle cx="97.36" cy="329.92" r="0.9"/><circle cx="97.00" cy="359.51" r="0.9"/><circle cx="92.89" cy="306.24" r="0.9"/><circle cx="93.33" cy="358.40" r="0.9"/><circle cx="93.30" cy="348.93" r="0.9"/><circle cx="92.86" cy="351.34" r="0.9"/><circle cx="97.05" cy="369.23" r="0.9"/><circle cx="95.25" cy="344.03" r="0.9"/><circle cx="92.68" cy="349.29" r="0.9"/><circle cx="95.42" cy="343.26" r="0.9"/><circle cx="97.23" cy="347.18" r="0.9"/><circle cx="93.13" cy="361.68" r="0.9"/><circle cx="95.60" cy="343.18" r="0.9"/><circle cx="93.70" cy="345.50" r="0.9"/><circle cx="96.27" cy="356.16" r="0.9"/><circle cx="93.54" cy="330.38" r="0.9"/><circle cx="95.59" cy="336.71" r="0.9"/><circle cx="94.39" cy="317.27" r="0.9"/><circle cx="95.54" cy="343.37" r="0.9"/><circle cx="96.23" cy="354.95" r="0.9"/><circle cx="95.55" cy="300.55" r="0.9"/><circle cx="95.07" cy="338.75" r="0.9"/><circle cx="92.89" cy="339.75" r="0.9"/><circle cx="94.16" cy="367.12" r="0.9"/><circle cx="95.26" cy="331.66" r="0.9"/><circle cx="96.19" cy="287.81" r="0.9"/><circle cx="93.91" cy="343.91" r="0.9"/><circle cx="92.73" cy="322.68" r="0.9"/><circle cx="96.81" cy="317.89" r="0.9"/><circle cx="94.55" cy="336.27" r="0.9"/><circle cx="96.50" cy="322.62" r="0.9"/><circle cx="93.02" cy="340.28" r="0.9"/><circle cx="95.45" cy="306.68" r="0.9"/><circle cx="93.65" cy="314.63" r="0.9"/><circle cx="95.77" cy="372.55" r="0.9"/><circle cx="97.53" cy="354.45" r="0.9"/><circle cx="96.09" cy="304.90" r="0.9"/><circle cx="94.02" cy="375.32" r="0.9"/><circle cx="96.81" cy="360.75" r="0.9"/><circle cx="94.05" cy="341.41" r="0.9"/><circle cx="95.29" cy="310.59" r="0.9"/><circle cx="96.00" cy="308.72" r="0.9"/><circle cx="94.39" cy="364.15" r="0.9"/><circle cx="95.09" cy="331.12" r="0.9"/><circle cx="94.70" cy="343.20" r="0.9"/><circle cx="93.52" cy="354.94" r="0.9"/><circle cx="94.75" cy="351.67" r="0.9"/><circle cx="93.42" cy="338.03" r="0.9"/><circle cx="95.95" cy="341.52" r="0.9"/><circle cx="97.19" cy="361.18" r="0.9"/><circle cx="94.90" cy="340.18" r="0.9"/><circle cx="96.53" cy="324.37" r="0.9"/><circle cx="95.28" cy="327.29" r="0.9"/><circle cx="92.63" cy="315.85" r="0.9"/><circle cx="93.79" cy="333.32" r="0.9"/><circle cx="93.60" cy="325.18" r="0.9"/><circle cx="95.50" cy="341.95" r="0.9"/><circle cx="95.97" cy="316.04" r="0.9"/><circle cx="94.37" cy="363.77" r="0.9"/><circle cx="96.73" cy="327.38" r="0.9"/><circle cx="94.12" cy="308.81" r="0.9"/><circle cx="95.17" cy="309.57" r="0.9"/><circle cx="94.29" cy="323.89" r="0.9"/><circle cx="93.59" cy="318.74" r="0.9"/><circle cx="94.31" cy="319.12" r="0.9"/><circle cx="97.13" cy="362.21" r="0.9"/><circle cx="94.75" cy="331.35" r="0.9"/><circle cx="92.90" cy="337.27" r="0.9"/><circle cx="94.89" cy="317.23" r="0.9"/><circle cx="93.95" cy="335.79" r="0.9"/><circle cx="97.28" cy="290.27" r="0.9"/><circle cx="94.92" cy="367.50" r="0.9"/><circle cx="96.69" cy="333.43" r="0.9"/><circle cx="93.85" cy="333.28" r="0.9"/><circle cx="94.54" cy="316.29" r="0.9"/><circle cx="92.73" cy="384.44" r="0.9"/><circle cx="93.85" cy="304.00" r="0.9"/><circle cx="96.90" cy="330.88" r="0.9"/><circle cx="94.26" cy="320.43" r="0.9"/><circle cx="94.17" cy="322.11" r="0.9"/><circle cx="93.61" cy="353.61" r="0.9"/><circle cx="95.28" cy="372.49" r="0.9"/><circle cx="96.73" cy="388.25" r="0.9"/><circle cx="95.15" cy="369.38" r="0.9"/><circle cx="95.07" cy="335.55" r="0.9"/><circle cx="94.15" cy="322.97" r="0.9"/><circle cx="93.76" cy="339.86" r="0.9"/><circle cx="95.67" cy="345.11" r="0.9"/><circle cx="93.57" cy="340.78" r="0.9"/><circle cx="95.26" cy="343.29" r="0.9"/><circle cx="97.30" cy="331.53" r="0.9"/><circle cx="96.79" cy="331.94" r="0.9"/><circle cx="96.48" cy="327.88" r="0.9"/><circle cx="94.58" cy="324.82" r="0.9"/><circle cx="96.16" cy="323.27" r="0.9"/><circle cx="96.33" cy="312.28" r="0.9"/><circle cx="94.35" cy="330.68" r="0.9"/><circle cx="95.70" cy="325.97" r="0.9"/><circle cx="94.28" cy="352.38" r="0.9"/><circle cx="97.08" cy="318.87" r="0.9"/><circle cx="96.23" cy="348.70" r="0.9"/><circle cx="93.41" cy="322.47" r="0.9"/><circle cx="95.99" cy="325.87" r="0.9"/><circle cx="96.03" cy="353.79" r="0.9"/><circle cx="93.61" cy="357.16" r="0.9"/><circle cx="95.45" cy="318.87" r="0.9"/><circle cx="97.52" cy="342.31" r="0.9"/><circle cx="93.05" cy="313.80" r="0.9"/><circle cx="95.67" cy="369.41" r="0.9"/><circle cx="96.32" cy="366.59" r="0.9"/><circle cx="94.48" cy="374.12" r="0.9"/><circle cx="94.94" cy="312.44" r="0.9"/><circle cx="97.08" cy="289.76" r="0.9"/><circle cx="93.58" cy="343.71" r="0.9"/><circle cx="97.60" cy="330.86" r="0.9"/><circle cx="97.15" cy="353.11" r="0.9"/><circle cx="96.42" cy="372.05" r="0.9"/><circle cx="95.87" cy="361.66" r="0.9"/><circle cx="94.37" cy="300.60" r="0.9"/><circle cx="93.06" cy="341.29" r="0.9"/><circle cx="96.74" cy="363.12" r="0.9"/><circle cx="96.25" cy="352.50" r="0.9"/><circle cx="96.30" cy="379.80" r="0.9"/><circle cx="93.05" cy="350.32" r="0.9"/><circle cx="93.94" cy="345.81" r="0.9"/><circle cx="95.01" cy="361.55" r="0.9"/><circle cx="97.23" cy="309.73" r="0.9"/><circle cx="94.86" cy="321.34" r="0.9"/><circle cx="95.72" cy="284.57" r="0.9"/><circle cx="94.15" cy="300.43" r="0.9"/></g>
<path d="M14.90,230.75 V417.00 H124.70" fill="none" stroke="#8c8c8c" stroke-width="1.1"/>
<line x1="12.70" y1="409.40" x2="14.90" y2="409.40" stroke="#8c8c8c" stroke-width="1"/>
<text x="11.40" y="413.80" text-anchor="end" class="tk">0</text>
<line x1="12.70" y1="359.30" x2="14.90" y2="359.30" stroke="#8c8c8c" stroke-width="1"/>
<text x="11.40" y="363.70" text-anchor="end" class="tk">5</text>
<line x1="12.70" y1="309.20" x2="14.90" y2="309.20" stroke="#8c8c8c" stroke-width="1"/>
<text x="11.40" y="313.60" text-anchor="end" class="tk">10</text>
<line x1="12.70" y1="259.10" x2="14.90" y2="259.10" stroke="#8c8c8c" stroke-width="1"/>
<text x="11.40" y="263.50" text-anchor="end" class="tk">15</text>
<line x1="45.30" y1="417.00" x2="45.30" y2="418.80" stroke="#8c8c8c" stroke-width="1"/>
<text x="45.30" y="430.20" text-anchor="middle" class="xl" font-size="11.00">HC</text>
<line x1="95.20" y1="417.00" x2="95.20" y2="418.80" stroke="#8c8c8c" stroke-width="1"/>
<text x="95.20" y="430.20" text-anchor="middle" class="xl" font-size="11.00">PCC</text>
<text x="69.40" y="225.75" text-anchor="middle" class="tt" font-size="11.90">CRB1</text>
<text x="70.25" y="238.75" text-anchor="middle" class="st">*</text>
<path d="M45.30,246.70 V242.20 H95.20 V246.70" fill="none" stroke="#1a1a1a" stroke-width="1.5" stroke-linecap="round" stroke-linejoin="round"/>
<path d="M185.10,266.60 L201.20,266.60 L201.87,268.19 L202.57,269.78 L203.27,271.37 L203.95,272.96 L204.58,274.56 L205.13,276.15 L205.59,277.74 L206.05,279.33 L206.47,280.92 L206.83,282.51 L207.11,284.10 L207.28,285.69 L207.32,287.28 L207.22,288.88 L207.01,290.47 L206.72,292.06 L206.35,293.65 L205.93,295.24 L205.46,296.83 L204.97,298.42 L204.46,300.01 L203.94,301.60 L203.41,303.20 L202.85,304.79 L202.25,306.38 L201.62,307.97 L200.97,309.56 L200.30,311.15 L199.62,312.74 L198.93,314.33 L198.25,315.92 L197.53,317.52 L196.77,319.11 L195.99,320.70 L195.20,322.29 L194.42,323.88 L193.67,325.47 L192.95,327.06 L192.29,328.65 L191.70,330.24 L191.15,331.84 L190.64,333.43 L190.16,335.02 L189.72,336.61 L189.30,338.20 L188.91,339.79 L188.53,341.38 L188.16,342.97 L187.82,344.56 L187.53,346.16 L187.26,347.75 L187.03,349.34 L186.82,350.93 L186.62,352.52 L186.44,354.11 L186.27,355.70 L186.15,357.29 L186.07,358.88 L185.99,360.48 L185.90,362.07 L185.10,362.07 Z" fill="#FBB7B3" stroke="#F8766D" stroke-width="0.5"/>
<path d="M232.60,266.60 L244.00,266.60 L245.00,268.83 L246.07,271.06 L247.15,273.28 L248.18,275.51 L249.08,277.74 L249.79,279.97 L250.28,282.19 L250.65,284.42 L250.93,286.65 L251.10,288.88 L251.19,291.10 L251.21,293.33 L251.15,295.56 L251.03,297.79 L250.83,300.01 L250.53,302.24 L250.14,304.47 L249.68,306.70 L249.17,308.92 L248.62,311.15 L248.06,313.38 L247.49,315.61 L246.90,317.83 L246.25,320.06 L245.57,322.29 L244.86,324.52 L244.15,326.74 L243.46,328.97 L242.79,331.20 L242.17,333.43 L241.57,335.65 L240.97,337.88 L240.39,340.11 L239.83,342.34 L239.30,344.56 L238.80,346.79 L238.34,349.02 L237.94,351.25 L237.57,353.47 L237.23,355.70 L236.92,357.93 L236.63,360.16 L236.36,362.38 L236.11,364.61 L235.86,366.84 L235.62,369.07 L235.38,371.30 L235.15,373.52 L234.93,375.75 L234.72,377.98 L234.52,380.21 L234.33,382.43 L234.15,384.66 L233.98,386.89 L233.81,389.12 L233.64,391.34 L233.50,393.57 L233.42,395.80 L233.36,398.03 L233.30,400.25 L232.60,400.25 Z" fill="#80DEE0" stroke="#00BFC4" stroke-width="0.5"/>
<line x1="180.40" y1="266.60" x2="180.40" y2="342.97" stroke="#F8766D" stroke-width="0.6"/>
<rect x="177.30" y="279.33" width="5.6" height="22.32" fill="#F8766D" fill-opacity="0.22" stroke="#F8766D" stroke-width="0.5" stroke-opacity="0.5"/>
<g fill="#F8766D" fill-opacity="0.85"><circle cx="178.55" cy="271.31" r="0.9"/><circle cx="179.07" cy="284.09" r="0.9"/><circle cx="180.28" cy="328.37" r="0.9"/><circle cx="180.87" cy="291.06" r="0.9"/><circle cx="179.18" cy="285.80" r="0.9"/><circle cx="179.04" cy="289.73" r="0.9"/><circle cx="178.63" cy="305.85" r="0.9"/><circle cx="180.14" cy="309.81" r="0.9"/><circle cx="180.67" cy="275.25" r="0.9"/><circle cx="180.99" cy="307.55" r="0.9"/><circle cx="182.24" cy="302.23" r="0.9"/><circle cx="179.23" cy="273.64" r="0.9"/><circle cx="182.53" cy="314.57" r="0.9"/><circle cx="179.92" cy="269.21" r="0.9"/><circle cx="180.72" cy="277.95" r="0.9"/><circle cx="182.49" cy="294.48" r="0.9"/><circle cx="179.25" cy="279.01" r="0.9"/><circle cx="182.77" cy="281.76" r="0.9"/><circle cx="179.68" cy="279.80" r="0.9"/><circle cx="179.80" cy="300.59" r="0.9"/><circle cx="179.98" cy="294.96" r="0.9"/><circle cx="182.46" cy="315.59" r="0.9"/><circle cx="181.61" cy="321.40" r="0.9"/><circle cx="179.36" cy="268.71" r="0.9"/><circle cx="181.99" cy="288.13" r="0.9"/><circle cx="178.09" cy="294.17" r="0.9"/><circle cx="181.39" cy="294.82" r="0.9"/><circle cx="179.50" cy="291.63" r="0.9"/><circle cx="179.12" cy="287.18" r="0.9"/><circle cx="178.59" cy="305.65" r="0.9"/><circle cx="177.87" cy="276.22" r="0.9"/><circle cx="179.97" cy="289.42" r="0.9"/><circle cx="179.11" cy="269.65" r="0.9"/><circle cx="180.91" cy="283.08" r="0.9"/><circle cx="180.04" cy="289.13" r="0.9"/><circle cx="180.78" cy="323.26" r="0.9"/><circle cx="181.59" cy="275.82" r="0.9"/><circle cx="177.93" cy="278.15" r="0.9"/><circle cx="178.40" cy="292.59" r="0.9"/><circle cx="178.65" cy="292.88" r="0.9"/><circle cx="179.58" cy="273.70" r="0.9"/><circle cx="181.43" cy="278.00" r="0.9"/><circle cx="179.69" cy="292.44" r="0.9"/><circle cx="181.09" cy="267.05" r="0.9"/><circle cx="181.25" cy="296.61" r="0.9"/><circle cx="182.83" cy="277.19" r="0.9"/><circle cx="180.02" cy="316.72" r="0.9"/><circle cx="179.61" cy="295.69" r="0.9"/><circle cx="180.64" cy="305.34" r="0.9"/><circle cx="182.06" cy="312.32" r="0.9"/><circle cx="182.41" cy="268.65" r="0.9"/><circle cx="181.42" cy="319.15" r="0.9"/><circle cx="180.34" cy="305.22" r="0.9"/><circle cx="179.25" cy="274.76" r="0.9"/><circle cx="182.23" cy="284.65" r="0.9"/><circle cx="182.80" cy="305.96" r="0.9"/><circle cx="179.14" cy="292.38" r="0.9"/><circle cx="182.47" cy="271.24" r="0.9"/><circle cx="178.66" cy="269.29" r="0.9"/><circle cx="181.53" cy="293.71" r="0.9"/><circle cx="178.05" cy="272.38" r="0.9"/><circle cx="181.31" cy="296.68" r="0.9"/><circle cx="182.60" cy="284.72" r="0.9"/><circle cx="181.79" cy="321.20" r="0.9"/><circle cx="179.40" cy="305.62" r="0.9"/><circle cx="181.36" cy="296.75" r="0.9"/><circle cx="181.40" cy="289.15" r="0.9"/><circle cx="182.25" cy="286.45" r="0.9"/><circle cx="179.06" cy="279.02" r="0.9"/><circle cx="180.40" cy="326.46" r="0.9"/><circle cx="180.03" cy="305.91" r="0.9"/><circle cx="179.54" cy="302.49" r="0.9"/><circle cx="178.39" cy="292.58" r="0.9"/><circle cx="177.96" cy="304.60" r="0.9"/><circle cx="182.44" cy="297.11" r="0.9"/><circle cx="182.72" cy="293.86" r="0.9"/><circle cx="180.50" cy="325.16" r="0.9"/><circle cx="179.91" cy="278.59" r="0.9"/><circle cx="179.89" cy="282.62" r="0.9"/><circle cx="180.44" cy="286.04" r="0.9"/><circle cx="182.20" cy="322.24" r="0.9"/><circle cx="177.88" cy="268.29" r="0.9"/><circle cx="181.72" cy="274.06" r="0.9"/><circle cx="179.90" cy="296.68" r="0.9"/><circle cx="178.62" cy="328.38" r="0.9"/><circle cx="178.84" cy="267.71" r="0.9"/><circle cx="181.89" cy="304.76" r="0.9"/><circle cx="181.89" cy="288.34" r="0.9"/><circle cx="181.20" cy="292.03" r="0.9"/><circle cx="181.81" cy="287.03" r="0.9"/><circle cx="182.98" cy="284.40" r="0.9"/><circle cx="179.89" cy="299.09" r="0.9"/><circle cx="179.15" cy="278.74" r="0.9"/><circle cx="182.22" cy="285.92" r="0.9"/><circle cx="181.59" cy="288.94" r="0.9"/><circle cx="179.22" cy="294.74" r="0.9"/><circle cx="181.85" cy="280.10" r="0.9"/><circle cx="179.80" cy="283.63" r="0.9"/><circle cx="182.02" cy="309.36" r="0.9"/><circle cx="182.30" cy="279.20" r="0.9"/><circle cx="181.11" cy="276.85" r="0.9"/><circle cx="178.91" cy="301.85" r="0.9"/><circle cx="181.49" cy="293.92" r="0.9"/><circle cx="179.84" cy="286.13" r="0.9"/><circle cx="180.14" cy="279.04" r="0.9"/><circle cx="182.15" cy="279.63" r="0.9"/><circle cx="181.54" cy="287.67" r="0.9"/><circle cx="178.24" cy="307.96" r="0.9"/><circle cx="178.47" cy="291.81" r="0.9"/><circle cx="178.68" cy="295.99" r="0.9"/><circle cx="178.51" cy="290.76" r="0.9"/><circle cx="178.89" cy="314.62" r="0.9"/><circle cx="180.94" cy="279.87" r="0.9"/><circle cx="178.47" cy="275.35" r="0.9"/><circle cx="179.73" cy="294.17" r="0.9"/><circle cx="180.04" cy="352.52" r="0.9"/><circle cx="181.04" cy="358.25" r="0.9"/><circle cx="179.68" cy="362.07" r="0.9"/></g>
<line x1="228.50" y1="266.60" x2="228.50" y2="369.70" stroke="#00BFC4" stroke-width="0.6"/>
<rect x="225.40" y="286.75" width="5.6" height="28.26" fill="#00BFC4" fill-opacity="0.22" stroke="#00BFC4" stroke-width="0.5" stroke-opacity="0.5"/>
<g fill="#00BFC4" fill-opacity="0.85"><circle cx="227.61" cy="301.36" r="0.9"/><circle cx="227.77" cy="289.45" r="0.9"/><circle cx="228.54" cy="290.62" r="0.9"/><circle cx="230.55" cy="323.65" r="0.9"/><circle cx="228.49" cy="267.99" r="0.9"/><circle cx="226.22" cy="281.54" r="0.9"/><circle cx="226.92" cy="277.50" r="0.9"/><circle cx="226.61" cy="312.95" r="0.9"/><circle cx="229.56" cy="300.27" r="0.9"/><circle cx="228.44" cy="299.69" r="0.9"/><circle cx="228.46" cy="274.60" r="0.9"/><circle cx="227.39" cy="359.99" r="0.9"/><circle cx="227.56" cy="322.56" r="0.9"/><circle cx="229.12" cy="274.00" r="0.9"/><circle cx="229.13" cy="303.18" r="0.9"/><circle cx="228.89" cy="282.88" r="0.9"/><circle cx="227.46" cy="298.05" r="0.9"/><circle cx="228.29" cy="273.82" r="0.9"/><circle cx="228.49" cy="280.72" r="0.9"/><circle cx="228.31" cy="273.99" r="0.9"/><circle cx="226.77" cy="284.47" r="0.9"/><circle cx="227.38" cy="305.30" r="0.9"/><circle cx="229.87" cy="331.60" r="0.9"/><circle cx="226.80" cy="294.02" r="0.9"/><circle cx="231.01" cy="301.12" r="0.9"/><circle cx="227.48" cy="336.02" r="0.9"/><circle cx="228.36" cy="284.95" r="0.9"/><circle cx="228.82" cy="269.86" r="0.9"/><circle cx="227.06" cy="296.11" r="0.9"/><circle cx="229.79" cy="269.21" r="0.9"/><circle cx="226.00" cy="297.58" r="0.9"/><circle cx="228.53" cy="313.34" r="0.9"/><circle cx="229.08" cy="322.00" r="0.9"/><circle cx="226.82" cy="272.06" r="0.9"/><circle cx="229.86" cy="293.21" r="0.9"/><circle cx="225.99" cy="311.85" r="0.9"/><circle cx="228.10" cy="277.60" r="0.9"/><circle cx="228.36" cy="303.78" r="0.9"/><circle cx="226.96" cy="323.45" r="0.9"/><circle cx="230.85" cy="296.49" r="0.9"/><circle cx="230.17" cy="295.11" r="0.9"/><circle cx="227.11" cy="290.14" r="0.9"/><circle cx="230.75" cy="354.14" r="0.9"/><circle cx="226.29" cy="317.69" r="0.9"/><circle cx="225.96" cy="301.54" r="0.9"/><circle cx="231.01" cy="291.43" r="0.9"/><circle cx="225.95" cy="329.25" r="0.9"/><circle cx="229.80" cy="293.72" r="0.9"/><circle cx="226.35" cy="316.77" r="0.9"/><circle cx="228.40" cy="326.06" r="0.9"/><circle cx="226.58" cy="303.69" r="0.9"/><circle cx="227.98" cy="283.54" r="0.9"/><circle cx="227.60" cy="321.26" r="0.9"/><circle cx="226.01" cy="369.25" r="0.9"/><circle cx="226.68" cy="290.40" r="0.9"/><circle cx="227.41" cy="291.85" r="0.9"/><circle cx="229.06" cy="326.66" r="0.9"/><circle cx="229.68" cy="298.82" r="0.9"/><circle cx="230.40" cy="341.07" r="0.9"/><circle cx="226.37" cy="323.35" r="0.9"/><circle cx="230.87" cy="326.32" r="0.9"/><circle cx="229.32" cy="292.66" r="0.9"/><circle cx="230.41" cy="288.85" r="0.9"/><circle cx="229.69" cy="322.38" r="0.9"/><circle cx="227.01" cy="320.95" r="0.9"/><circle cx="230.77" cy="292.23" r="0.9"/><circle cx="226.35" cy="296.30" r="0.9"/><circle cx="230.36" cy="319.34" r="0.9"/><circle cx="228.61" cy="310.33" r="0.9"/><circle cx="226.05" cy="289.42" r="0.9"/><circle cx="226.71" cy="340.14" r="0.9"/><circle cx="228.94" cy="307.80" r="0.9"/><circle cx="230.42" cy="272.96" r="0.9"/><circle cx="228.41" cy="350.53" r="0.9"/><circle cx="227.02" cy="286.85" r="0.9"/><circle cx="231.07" cy="323.58" r="0.9"/><circle cx="229.56" cy="322.13" r="0.9"/><circle cx="230.40" cy="292.79" r="0.9"/><circle cx="227.90" cy="298.74" r="0.9"/><circle cx="228.53" cy="305.75" r="0.9"/><circle cx="227.44" cy="279.41" r="0.9"/><circle cx="227.28" cy="298.91" r="0.9"/><circle cx="229.34" cy="316.51" r="0.9"/><circle cx="230.80" cy="315.90" r="0.9"/><circle cx="227.93" cy="304.77" r="0.9"/><circle cx="230.04" cy="269.36" r="0.9"/><circle cx="227.29" cy="296.52" r="0.9"/><circle cx="229.87" cy="309.96" r="0.9"/><circle cx="227.64" cy="285.47" r="0.9"/><circle cx="226.26" cy="284.90" r="0.9"/><circle cx="228.08" cy="264.96" r="0.9"/><circle cx="228.96" cy="274.68" r="0.9"/><circle cx="227.55" cy="269.94" r="0.9"/><circle cx="226.60" cy="291.53" r="0.9"/><circle cx="229.22" cy="300.90" r="0.9"/><circle cx="230.68" cy="300.57" r="0.9"/><circle cx="227.57" cy="349.55" r="0.9"/><circle cx="227.34" cy="297.96" r="0.9"/><circle cx="226.61" cy="309.86" r="0.9"/><circle cx="230.91" cy="276.22" r="0.9"/><circle cx="230.65" cy="283.08" r="0.9"/><circle cx="229.55" cy="287.19" r="0.9"/><circle cx="229.23" cy="268.86" r="0.9"/><circle cx="226.78" cy="293.80" r="0.9"/><circle cx="230.92" cy="315.12" r="0.9"/><circle cx="230.96" cy="286.43" r="0.9"/><circle cx="229.46" cy="299.13" r="0.9"/><circle cx="229.66" cy="288.41" r="0.9"/><circle cx="230.42" cy="284.02" r="0.9"/><circle cx="230.44" cy="273.69" r="0.9"/><circle cx="230.19" cy="282.62" r="0.9"/><circle cx="227.02" cy="278.30" r="0.9"/><circle cx="230.02" cy="302.06" r="0.9"/><circle cx="228.35" cy="318.10" r="0.9"/><circle cx="230.28" cy="300.69" r="0.9"/><circle cx="229.38" cy="315.94" r="0.9"/><circle cx="226.04" cy="265.94" r="0.9"/><circle cx="230.34" cy="315.62" r="0.9"/><circle cx="226.15" cy="328.62" r="0.9"/><circle cx="227.26" cy="300.95" r="0.9"/><circle cx="230.74" cy="307.98" r="0.9"/><circle cx="228.47" cy="275.31" r="0.9"/><circle cx="230.44" cy="271.38" r="0.9"/><circle cx="228.17" cy="296.28" r="0.9"/><circle cx="226.68" cy="314.21" r="0.9"/><circle cx="230.10" cy="268.74" r="0.9"/><circle cx="226.07" cy="281.55" r="0.9"/><circle cx="229.34" cy="305.69" r="0.9"/><circle cx="228.46" cy="293.47" r="0.9"/><circle cx="228.27" cy="290.79" r="0.9"/><circle cx="227.38" cy="292.66" r="0.9"/><circle cx="230.43" cy="275.38" r="0.9"/><circle cx="227.57" cy="291.85" r="0.9"/><circle cx="227.65" cy="272.44" r="0.9"/><circle cx="226.72" cy="308.18" r="0.9"/><circle cx="227.72" cy="308.79" r="0.9"/><circle cx="227.80" cy="292.94" r="0.9"/><circle cx="230.50" cy="283.78" r="0.9"/><circle cx="229.79" cy="293.32" r="0.9"/><circle cx="227.88" cy="311.00" r="0.9"/><circle cx="229.42" cy="271.10" r="0.9"/><circle cx="228.67" cy="293.55" r="0.9"/><circle cx="226.46" cy="300.87" r="0.9"/><circle cx="228.26" cy="306.39" r="0.9"/><circle cx="227.88" cy="276.47" r="0.9"/><circle cx="230.26" cy="292.26" r="0.9"/><circle cx="228.64" cy="319.68" r="0.9"/><circle cx="227.57" cy="294.33" r="0.9"/><circle cx="230.21" cy="317.32" r="0.9"/><circle cx="230.06" cy="277.54" r="0.9"/><circle cx="230.18" cy="283.59" r="0.9"/><circle cx="228.59" cy="335.81" r="0.9"/><circle cx="229.93" cy="302.71" r="0.9"/><circle cx="227.10" cy="318.55" r="0.9"/><circle cx="230.56" cy="305.59" r="0.9"/><circle cx="227.03" cy="307.81" r="0.9"/><circle cx="227.66" cy="323.59" r="0.9"/><circle cx="227.34" cy="276.06" r="0.9"/><circle cx="227.74" cy="339.86" r="0.9"/><circle cx="227.54" cy="292.77" r="0.9"/><circle cx="226.21" cy="345.40" r="0.9"/><circle cx="227.74" cy="328.19" r="0.9"/><circle cx="230.07" cy="280.51" r="0.9"/><circle cx="230.85" cy="317.75" r="0.9"/><circle cx="229.71" cy="313.55" r="0.9"/><circle cx="227.00" cy="288.20" r="0.9"/><circle cx="227.85" cy="312.49" r="0.9"/><circle cx="228.45" cy="303.51" r="0.9"/><circle cx="230.02" cy="297.12" r="0.9"/><circle cx="229.90" cy="298.82" r="0.9"/><circle cx="226.08" cy="314.30" r="0.9"/><circle cx="230.50" cy="329.06" r="0.9"/><circle cx="228.53" cy="314.25" r="0.9"/><circle cx="231.00" cy="308.10" r="0.9"/><circle cx="226.19" cy="315.51" r="0.9"/><circle cx="226.95" cy="326.61" r="0.9"/><circle cx="229.03" cy="270.63" r="0.9"/><circle cx="226.24" cy="276.55" r="0.9"/><circle cx="229.44" cy="299.76" r="0.9"/><circle cx="230.14" cy="313.92" r="0.9"/><circle cx="230.96" cy="315.28" r="0.9"/><circle cx="228.24" cy="300.92" r="0.9"/><circle cx="227.04" cy="317.48" r="0.9"/><circle cx="229.89" cy="306.39" r="0.9"/><circle cx="227.91" cy="278.69" r="0.9"/><circle cx="228.61" cy="297.75" r="0.9"/><circle cx="227.24" cy="321.95" r="0.9"/><circle cx="230.72" cy="280.40" r="0.9"/><circle cx="227.64" cy="314.95" r="0.9"/><circle cx="228.03" cy="284.36" r="0.9"/><circle cx="226.79" cy="302.57" r="0.9"/><circle cx="226.20" cy="283.95" r="0.9"/><circle cx="226.23" cy="287.36" r="0.9"/><circle cx="229.26" cy="325.42" r="0.9"/><circle cx="227.58" cy="299.73" r="0.9"/><circle cx="227.68" cy="307.44" r="0.9"/><circle cx="230.30" cy="274.84" r="0.9"/><circle cx="228.59" cy="297.36" r="0.9"/><circle cx="231.01" cy="325.53" r="0.9"/><circle cx="226.10" cy="291.86" r="0.9"/><circle cx="230.80" cy="324.61" r="0.9"/><circle cx="229.71" cy="338.82" r="0.9"/><circle cx="229.57" cy="301.52" r="0.9"/><circle cx="228.63" cy="299.85" r="0.9"/><circle cx="230.03" cy="274.14" r="0.9"/><circle cx="229.22" cy="298.34" r="0.9"/><circle cx="226.74" cy="293.20" r="0.9"/><circle cx="230.65" cy="283.48" r="0.9"/><circle cx="228.29" cy="289.62" r="0.9"/><circle cx="228.73" cy="295.39" r="0.9"/><circle cx="230.61" cy="331.75" r="0.9"/><circle cx="230.19" cy="282.59" r="0.9"/><circle cx="228.01" cy="272.07" r="0.9"/><circle cx="229.11" cy="288.77" r="0.9"/><circle cx="228.60" cy="285.28" r="0.9"/><circle cx="227.51" cy="345.18" r="0.9"/><circle cx="226.84" cy="303.56" r="0.9"/><circle cx="228.55" cy="278.37" r="0.9"/><circle cx="228.29" cy="300.11" r="0.9"/><circle cx="228.44" cy="278.65" r="0.9"/><circle cx="230.97" cy="300.09" r="0.9"/><circle cx="226.93" cy="301.37" r="0.9"/><circle cx="228.54" cy="297.74" r="0.9"/><circle cx="226.53" cy="282.60" r="0.9"/><circle cx="230.49" cy="288.79" r="0.9"/><circle cx="227.66" cy="309.72" r="0.9"/><circle cx="227.18" cy="361.60" r="0.9"/><circle cx="227.48" cy="332.69" r="0.9"/><circle cx="229.94" cy="312.68" r="0.9"/><circle cx="230.44" cy="294.41" r="0.9"/><circle cx="227.53" cy="269.90" r="0.9"/><circle cx="230.00" cy="292.61" r="0.9"/><circle cx="228.83" cy="297.68" r="0.9"/><circle cx="229.72" cy="302.95" r="0.9"/><circle cx="227.40" cy="286.17" r="0.9"/><circle cx="228.41" cy="300.11" r="0.9"/><circle cx="228.73" cy="321.22" r="0.9"/><circle cx="226.40" cy="337.03" r="0.9"/><circle cx="228.48" cy="297.48" r="0.9"/><circle cx="227.77" cy="279.09" r="0.9"/><circle cx="227.25" cy="322.96" r="0.9"/><circle cx="230.03" cy="308.51" r="0.9"/><circle cx="230.68" cy="301.02" r="0.9"/><circle cx="227.87" cy="271.30" r="0.9"/><circle cx="227.86" cy="274.56" r="0.9"/><circle cx="229.91" cy="292.77" r="0.9"/><circle cx="228.21" cy="286.94" r="0.9"/><circle cx="226.18" cy="287.09" r="0.9"/><circle cx="230.30" cy="321.64" r="0.9"/><circle cx="226.31" cy="306.14" r="0.9"/><circle cx="229.07" cy="269.45" r="0.9"/><circle cx="228.07" cy="351.63" r="0.9"/><circle cx="231.06" cy="354.48" r="0.9"/><circle cx="226.79" cy="299.47" r="0.9"/><circle cx="227.28" cy="288.46" r="0.9"/><circle cx="229.11" cy="291.04" r="0.9"/><circle cx="226.35" cy="301.94" r="0.9"/><circle cx="230.98" cy="288.83" r="0.9"/><circle cx="227.41" cy="328.88" r="0.9"/><circle cx="230.28" cy="302.32" r="0.9"/><circle cx="226.78" cy="374.48" r="0.9"/><circle cx="230.43" cy="388.80" r="0.9"/><circle cx="229.41" cy="390.71" r="0.9"/><circle cx="228.21" cy="399.30" r="0.9"/><circle cx="227.16" cy="401.21" r="0.9"/></g>
<path d="M151.20,239.40 V417.60 H257.00" fill="none" stroke="#8c8c8c" stroke-width="1.1"/>
<line x1="149.00" y1="409.80" x2="151.20" y2="409.80" stroke="#8c8c8c" stroke-width="1"/>
<text x="147.70" y="414.20" text-anchor="end" class="tk">0</text>
<line x1="149.00" y1="362.07" x2="151.20" y2="362.07" stroke="#8c8c8c" stroke-width="1"/>
<text x="147.70" y="366.47" text-anchor="end" class="tk">5</text>
<line x1="149.00" y1="314.33" x2="151.20" y2="314.33" stroke="#8c8c8c" stroke-width="1"/>
<text x="147.70" y="318.73" text-anchor="end" class="tk">10</text>
<line x1="149.00" y1="266.60" x2="151.20" y2="266.60" stroke="#8c8c8c" stroke-width="1"/>
<text x="147.70" y="271.00" text-anchor="end" class="tk">15</text>
<line x1="180.40" y1="417.60" x2="180.40" y2="419.40" stroke="#8c8c8c" stroke-width="1"/>
<text x="180.40" y="430.80" text-anchor="middle" class="xl" font-size="11.00">HC</text>
<line x1="228.50" y1="417.60" x2="228.50" y2="419.40" stroke="#8c8c8c" stroke-width="1"/>
<text x="228.50" y="430.80" text-anchor="middle" class="xl" font-size="11.00">PCC</text>
<text x="203.90" y="235.00" text-anchor="middle" class="tt" font-size="11.90">CRB2</text>
<text x="204.40" y="247.75" text-anchor="middle" class="st">*</text>
<path d="M180.40,254.40 V250.00 H228.50 V254.40" fill="none" stroke="#1a1a1a" stroke-width="1.5" stroke-linecap="round" stroke-linejoin="round"/>
<path d="M325.60,266.50 L330.60,266.50 L331.39,268.58 L332.18,270.66 L332.98,272.74 L333.77,274.81 L334.55,276.89 L335.32,278.97 L336.06,281.05 L336.79,283.13 L337.53,285.21 L338.27,287.29 L338.99,289.36 L339.70,291.44 L340.39,293.52 L341.05,295.60 L341.67,297.68 L342.25,299.76 L342.80,301.84 L343.33,303.91 L343.82,305.99 L344.30,308.07 L344.74,310.15 L345.15,312.23 L345.53,314.31 L345.88,316.39 L346.19,318.46 L346.35,320.54 L346.37,322.62 L346.31,324.70 L346.21,326.78 L346.10,328.86 L345.95,330.94 L345.74,333.01 L345.45,335.09 L345.05,337.17 L344.60,339.25 L344.12,341.33 L343.60,343.41 L343.06,345.49 L342.47,347.56 L341.85,349.64 L341.18,351.72 L340.46,353.80 L339.67,355.88 L338.84,357.96 L337.97,360.03 L337.09,362.11 L336.22,364.19 L335.38,366.27 L334.59,368.35 L333.82,370.43 L333.07,372.51 L332.34,374.58 L331.63,376.66 L330.96,378.74 L330.32,380.82 L329.73,382.90 L329.19,384.98 L328.66,387.06 L328.14,389.13 L327.60,391.21 L325.60,391.21 Z" fill="#FBB7B3" stroke="#F8766D" stroke-width="0.5"/>
<path d="M374.00,276.09 L377.70,276.09 L378.61,278.17 L379.53,280.25 L380.46,282.33 L381.38,284.41 L382.28,286.49 L383.13,288.56 L383.93,290.64 L384.69,292.72 L385.44,294.80 L386.16,296.88 L386.86,298.96 L387.54,301.04 L388.21,303.11 L388.85,305.19 L389.48,307.27 L390.09,309.35 L390.69,311.43 L391.27,313.51 L391.85,315.59 L392.40,317.66 L392.93,319.74 L393.42,321.82 L393.88,323.90 L394.30,325.98 L394.67,328.06 L394.97,330.14 L395.19,332.21 L395.33,334.29 L395.41,336.37 L395.41,338.45 L395.36,340.53 L395.24,342.61 L395.05,344.69 L394.79,346.76 L394.45,348.84 L394.01,350.92 L393.49,353.00 L392.89,355.08 L392.23,357.16 L391.52,359.24 L390.77,361.31 L389.98,363.39 L389.17,365.47 L388.33,367.55 L387.43,369.63 L386.46,371.71 L385.46,373.79 L384.45,375.86 L383.46,377.94 L382.53,380.02 L381.66,382.10 L380.87,384.18 L380.11,386.26 L379.39,388.34 L378.70,390.41 L378.02,392.49 L377.35,394.57 L376.69,396.65 L376.02,398.73 L375.60,400.81 L374.00,400.81 Z" fill="#80DEE0" stroke="#00BFC4" stroke-width="0.5"/>
<line x1="321.00" y1="266.50" x2="321.00" y2="391.21" stroke="#F8766D" stroke-width="0.6"/>
<rect x="317.90" y="300.90" width="5.6" height="38.45" fill="#F8766D" fill-opacity="0.22" stroke="#F8766D" stroke-width="0.5" stroke-opacity="0.5"/>
<g fill="#F8766D" fill-opacity="0.85"><circle cx="321.56" cy="301.62" r="0.9"/><circle cx="319.60" cy="341.94" r="0.9"/><circle cx="321.99" cy="365.08" r="0.9"/><circle cx="319.82" cy="298.00" r="0.9"/><circle cx="321.11" cy="288.92" r="0.9"/><circle cx="320.11" cy="359.90" r="0.9"/><circle cx="322.44" cy="307.98" r="0.9"/><circle cx="319.12" cy="320.38" r="0.9"/><circle cx="322.04" cy="288.42" r="0.9"/><circle cx="323.24" cy="300.00" r="0.9"/><circle cx="322.11" cy="298.02" r="0.9"/><circle cx="319.87" cy="318.23" r="0.9"/><circle cx="320.07" cy="370.24" r="0.9"/><circle cx="320.73" cy="334.94" r="0.9"/><circle cx="318.84" cy="301.42" r="0.9"/><circle cx="320.47" cy="270.81" r="0.9"/><circle cx="319.06" cy="323.74" r="0.9"/><circle cx="319.35" cy="329.35" r="0.9"/><circle cx="321.25" cy="339.76" r="0.9"/><circle cx="322.82" cy="319.29" r="0.9"/><circle cx="322.58" cy="321.91" r="0.9"/><circle cx="318.70" cy="370.32" r="0.9"/><circle cx="319.45" cy="318.89" r="0.9"/><circle cx="322.28" cy="323.07" r="0.9"/><circle cx="319.66" cy="331.99" r="0.9"/><circle cx="321.66" cy="379.17" r="0.9"/><circle cx="323.31" cy="361.18" r="0.9"/><circle cx="319.88" cy="302.72" r="0.9"/><circle cx="321.01" cy="323.03" r="0.9"/><circle cx="322.53" cy="296.14" r="0.9"/><circle cx="322.91" cy="344.89" r="0.9"/><circle cx="320.45" cy="359.43" r="0.9"/><circle cx="320.21" cy="279.22" r="0.9"/><circle cx="323.41" cy="272.88" r="0.9"/><circle cx="323.51" cy="304.51" r="0.9"/><circle cx="322.43" cy="296.16" r="0.9"/><circle cx="319.95" cy="292.14" r="0.9"/><circle cx="323.19" cy="322.54" r="0.9"/><circle cx="319.99" cy="359.93" r="0.9"/><circle cx="319.00" cy="364.84" r="0.9"/><circle cx="321.38" cy="311.33" r="0.9"/><circle cx="318.45" cy="327.14" r="0.9"/><circle cx="321.59" cy="324.99" r="0.9"/><circle cx="319.26" cy="365.07" r="0.9"/><circle cx="318.63" cy="349.51" r="0.9"/><circle cx="318.59" cy="327.95" r="0.9"/><circle cx="320.99" cy="342.04" r="0.9"/><circle cx="321.96" cy="310.41" r="0.9"/><circle cx="321.08" cy="334.40" r="0.9"/><circle cx="319.42" cy="286.76" r="0.9"/><circle cx="323.25" cy="361.70" r="0.9"/><circle cx="319.71" cy="345.23" r="0.9"/><circle cx="322.03" cy="294.43" r="0.9"/><circle cx="320.21" cy="307.16" r="0.9"/><circle cx="322.59" cy="347.41" r="0.9"/><circle cx="321.48" cy="303.65" r="0.9"/><circle cx="321.11" cy="323.30" r="0.9"/><circle cx="321.29" cy="321.87" r="0.9"/><circle cx="318.46" cy="283.32" r="0.9"/><circle cx="323.10" cy="347.93" r="0.9"/><circle cx="322.00" cy="309.46" r="0.9"/><circle cx="323.25" cy="309.03" r="0.9"/><circle cx="319.87" cy="297.36" r="0.9"/><circle cx="322.93" cy="298.32" r="0.9"/><circle cx="319.40" cy="281.96" r="0.9"/><circle cx="319.68" cy="314.73" r="0.9"/><circle cx="322.09" cy="349.50" r="0.9"/><circle cx="322.70" cy="281.56" r="0.9"/><circle cx="320.99" cy="340.42" r="0.9"/><circle cx="320.77" cy="327.88" r="0.9"/><circle cx="318.60" cy="307.51" r="0.9"/><circle cx="319.90" cy="301.66" r="0.9"/><circle cx="323.49" cy="268.65" r="0.9"/><circle cx="318.88" cy="308.40" r="0.9"/><circle cx="320.48" cy="305.36" r="0.9"/><circle cx="319.95" cy="354.52" r="0.9"/><circle cx="319.54" cy="336.03" r="0.9"/><circle cx="321.21" cy="301.12" r="0.9"/><circle cx="322.20" cy="318.46" r="0.9"/><circle cx="321.94" cy="330.95" r="0.9"/><circle cx="319.36" cy="301.30" r="0.9"/><circle cx="322.77" cy="339.36" r="0.9"/><circle cx="322.45" cy="327.50" r="0.9"/><circle cx="322.22" cy="317.13" r="0.9"/><circle cx="319.07" cy="290.40" r="0.9"/></g>
<line x1="369.20" y1="276.09" x2="369.20" y2="400.81" stroke="#00BFC4" stroke-width="0.6"/>
<rect x="366.10" y="321.37" width="5.6" height="30.72" fill="#00BFC4" fill-opacity="0.22" stroke="#00BFC4" stroke-width="0.5" stroke-opacity="0.5"/>
<g fill="#00BFC4" fill-opacity="0.85"><circle cx="371.13" cy="372.96" r="0.9"/><circle cx="368.57" cy="329.87" r="0.9"/><circle cx="368.34" cy="324.36" r="0.9"/><circle cx="371.06" cy="345.23" r="0.9"/><circle cx="367.82" cy="325.97" r="0.9"/><circle cx="366.88" cy="337.15" r="0.9"/><circle cx="368.72" cy="326.46" r="0.9"/><circle cx="366.81" cy="320.83" r="0.9"/><circle cx="366.80" cy="326.24" r="0.9"/><circle cx="368.90" cy="344.91" r="0.9"/><circle cx="367.60" cy="298.49" r="0.9"/><circle cx="366.72" cy="364.61" r="0.9"/><circle cx="368.19" cy="343.63" r="0.9"/><circle cx="370.80" cy="362.89" r="0.9"/><circle cx="370.91" cy="354.34" r="0.9"/><circle cx="369.50" cy="342.45" r="0.9"/><circle cx="371.46" cy="337.66" r="0.9"/><circle cx="369.94" cy="372.17" r="0.9"/><circle cx="368.72" cy="328.22" r="0.9"/><circle cx="370.57" cy="312.23" r="0.9"/><circle cx="371.33" cy="367.06" r="0.9"/><circle cx="368.36" cy="366.53" r="0.9"/><circle cx="369.69" cy="367.92" r="0.9"/><circle cx="370.91" cy="360.66" r="0.9"/><circle cx="367.91" cy="312.22" r="0.9"/><circle cx="370.63" cy="341.75" r="0.9"/><circle cx="367.12" cy="324.53" r="0.9"/><circle cx="371.03" cy="345.11" r="0.9"/><circle cx="367.43" cy="324.51" r="0.9"/><circle cx="370.26" cy="305.68" r="0.9"/><circle cx="368.40" cy="312.96" r="0.9"/><circle cx="367.48" cy="358.00" r="0.9"/><circle cx="370.42" cy="361.80" r="0.9"/><circle cx="368.29" cy="325.55" r="0.9"/><circle cx="369.82" cy="319.41" r="0.9"/><circle cx="368.08" cy="340.91" r="0.9"/><circle cx="371.45" cy="312.78" r="0.9"/><circle cx="368.10" cy="379.43" r="0.9"/><circle cx="367.20" cy="308.18" r="0.9"/><circle cx="371.49" cy="356.32" r="0.9"/><circle cx="366.62" cy="350.44" r="0.9"/><circle cx="367.63" cy="348.30" r="0.9"/><circle cx="368.05" cy="340.39" r="0.9"/><circle cx="366.61" cy="322.43" r="0.9"/><circle cx="368.72" cy="315.40" r="0.9"/><circle cx="370.15" cy="330.73" r="0.9"/><circle cx="366.72" cy="304.94" r="0.9"/><circle cx="367.21" cy="363.82" r="0.9"/><circle cx="368.58" cy="346.28" r="0.9"/><circle cx="371.60" cy="316.94" r="0.9"/><circle cx="368.07" cy="377.85" r="0.9"/><circle cx="369.09" cy="319.59" r="0.9"/><circle cx="367.85" cy="338.28" r="0.9"/><circle cx="370.40" cy="319.23" r="0.9"/><circle cx="369.55" cy="338.23" r="0.9"/><circle cx="366.72" cy="357.86" r="0.9"/><circle cx="369.14" cy="330.00" r="0.9"/><circle cx="368.47" cy="341.75" r="0.9"/><circle cx="370.68" cy="334.07" r="0.9"/><circle cx="368.60" cy="303.32" r="0.9"/><circle cx="366.93" cy="324.83" r="0.9"/><circle cx="371.56" cy="332.21" r="0.9"/><circle cx="369.30" cy="316.65" r="0.9"/><circle cx="366.96" cy="311.99" r="0.9"/><circle cx="368.37" cy="327.90" r="0.9"/><circle cx="371.64" cy="303.71" r="0.9"/><circle cx="369.04" cy="309.46" r="0.9"/><circle cx="369.42" cy="281.05" r="0.9"/><circle cx="370.44" cy="353.80" r="0.9"/><circle cx="370.25" cy="311.90" r="0.9"/><circle cx="371.62" cy="338.19" r="0.9"/><circle cx="367.76" cy="329.38" r="0.9"/><circle cx="368.91" cy="366.02" r="0.9"/><circle cx="367.37" cy="365.20" r="0.9"/><circle cx="366.79" cy="386.52" r="0.9"/><circle cx="368.62" cy="350.71" r="0.9"/><circle cx="371.31" cy="285.34" r="0.9"/><circle cx="371.61" cy="298.05" r="0.9"/><circle cx="371.11" cy="326.11" r="0.9"/><circle cx="366.83" cy="320.44" r="0.9"/><circle cx="368.51" cy="352.30" r="0.9"/><circle cx="366.73" cy="311.48" r="0.9"/><circle cx="368.07" cy="330.63" r="0.9"/><circle cx="370.39" cy="334.07" r="0.9"/><circle cx="370.62" cy="317.25" r="0.9"/><circle cx="367.24" cy="349.52" r="0.9"/><circle cx="371.72" cy="353.91" r="0.9"/><circle cx="369.68" cy="336.81" r="0.9"/><circle cx="367.11" cy="295.36" r="0.9"/><circle cx="368.14" cy="325.55" r="0.9"/><circle cx="371.44" cy="319.49" r="0.9"/><circle cx="367.63" cy="302.34" r="0.9"/><circle cx="369.38" cy="343.46" r="0.9"/><circle cx="367.50" cy="309.44" r="0.9"/><circle cx="368.78" cy="354.17" r="0.9"/><circle cx="369.78" cy="351.84" r="0.9"/><circle cx="368.45" cy="362.42" r="0.9"/><circle cx="369.47" cy="316.62" r="0.9"/><circle cx="371.31" cy="384.92" r="0.9"/><circle cx="368.26" cy="331.92" r="0.9"/><circle cx="369.08" cy="334.78" r="0.9"/><circle cx="367.00" cy="388.17" r="0.9"/><circle cx="369.42" cy="322.93" r="0.9"/><circle cx="371.15" cy="337.06" r="0.9"/><circle cx="370.07" cy="297.42" r="0.9"/><circle cx="368.54" cy="326.91" r="0.9"/><circle cx="367.69" cy="365.19" r="0.9"/><circle cx="371.59" cy="322.43" r="0.9"/><circle cx="367.21" cy="356.80" r="0.9"/><circle cx="368.73" cy="353.89" r="0.9"/><circle cx="370.71" cy="372.05" r="0.9"/><circle cx="370.15" cy="335.16" r="0.9"/><circle cx="370.08" cy="354.76" r="0.9"/><circle cx="367.23" cy="332.54" r="0.9"/><circle cx="369.76" cy="328.40" r="0.9"/><circle cx="371.47" cy="315.70" r="0.9"/><circle cx="371.74" cy="380.18" r="0.9"/><circle cx="370.91" cy="308.60" r="0.9"/><circle cx="367.48" cy="336.81" r="0.9"/><circle cx="369.06" cy="353.45" r="0.9"/><circle cx="369.66" cy="302.97" r="0.9"/><circle cx="366.79" cy="317.66" r="0.9"/><circle cx="367.17" cy="346.23" r="0.9"/><circle cx="370.70" cy="290.25" r="0.9"/><circle cx="367.45" cy="301.39" r="0.9"/><circle cx="371.72" cy="331.11" r="0.9"/><circle cx="367.31" cy="313.08" r="0.9"/><circle cx="367.04" cy="331.83" r="0.9"/><circle cx="368.29" cy="322.96" r="0.9"/><circle cx="371.35" cy="336.67" r="0.9"/><circle cx="368.25" cy="326.04" r="0.9"/><circle cx="370.08" cy="351.04" r="0.9"/><circle cx="370.14" cy="333.26" r="0.9"/><circle cx="368.36" cy="337.58" r="0.9"/><circle cx="367.41" cy="335.60" r="0.9"/><circle cx="367.79" cy="357.93" r="0.9"/><circle cx="371.11" cy="342.37" r="0.9"/><circle cx="368.27" cy="330.78" r="0.9"/><circle cx="371.29" cy="344.39" r="0.9"/><circle cx="367.20" cy="327.24" r="0.9"/><circle cx="368.02" cy="335.64" r="0.9"/><circle cx="368.13" cy="310.12" r="0.9"/><circle cx="368.27" cy="339.90" r="0.9"/><circle cx="371.06" cy="357.90" r="0.9"/><circle cx="369.35" cy="350.11" r="0.9"/><circle cx="368.39" cy="334.96" r="0.9"/><circle cx="368.65" cy="318.80" r="0.9"/><circle cx="369.65" cy="352.56" r="0.9"/><circle cx="368.25" cy="348.03" r="0.9"/><circle cx="370.06" cy="340.06" r="0.9"/><circle cx="371.40" cy="364.76" r="0.9"/><circle cx="367.53" cy="340.33" r="0.9"/><circle cx="367.18" cy="357.90" r="0.9"/><circle cx="368.09" cy="333.34" r="0.9"/><circle cx="371.52" cy="354.50" r="0.9"/><circle cx="368.28" cy="336.16" r="0.9"/><circle cx="370.33" cy="360.44" r="0.9"/><circle cx="368.14" cy="341.82" r="0.9"/><circle cx="368.43" cy="355.84" r="0.9"/><circle cx="368.18" cy="327.71" r="0.9"/><circle cx="369.05" cy="322.88" r="0.9"/><circle cx="369.43" cy="328.47" r="0.9"/><circle cx="370.29" cy="352.19" r="0.9"/><circle cx="367.80" cy="338.70" r="0.9"/><circle cx="369.61" cy="299.12" r="0.9"/><circle cx="367.18" cy="294.57" r="0.9"/><circle cx="367.57" cy="335.65" r="0.9"/><circle cx="369.23" cy="328.27" r="0.9"/><circle cx="371.32" cy="308.95" r="0.9"/><circle cx="370.71" cy="350.28" r="0.9"/><circle cx="367.93" cy="345.87" r="0.9"/><circle cx="368.10" cy="313.59" r="0.9"/><circle cx="370.43" cy="303.47" r="0.9"/><circle cx="367.97" cy="363.20" r="0.9"/><circle cx="370.76" cy="326.57" r="0.9"/><circle cx="369.68" cy="323.61" r="0.9"/><circle cx="368.84" cy="330.54" r="0.9"/><circle cx="368.55" cy="342.71" r="0.9"/><circle cx="367.81" cy="318.11" r="0.9"/><circle cx="368.36" cy="351.00" r="0.9"/><circle cx="367.39" cy="366.80" r="0.9"/><circle cx="371.43" cy="337.82" r="0.9"/><circle cx="371.74" cy="319.18" r="0.9"/><circle cx="371.64" cy="365.43" r="0.9"/><circle cx="371.36" cy="298.60" r="0.9"/><circle cx="371.68" cy="320.86" r="0.9"/><circle cx="370.83" cy="341.60" r="0.9"/><circle cx="370.86" cy="304.70" r="0.9"/><circle cx="371.07" cy="362.22" r="0.9"/><circle cx="370.16" cy="318.20" r="0.9"/><circle cx="368.30" cy="362.87" r="0.9"/><circle cx="371.40" cy="340.94" r="0.9"/><circle cx="370.15" cy="340.07" r="0.9"/><circle cx="368.69" cy="290.52" r="0.9"/><circle cx="369.66" cy="335.83" r="0.9"/><circle cx="367.30" cy="368.74" r="0.9"/><circle cx="369.10" cy="362.74" r="0.9"/><circle cx="371.76" cy="331.14" r="0.9"/><circle cx="371.69" cy="278.33" r="0.9"/><circle cx="371.67" cy="292.09" r="0.9"/><circle cx="370.77" cy="348.78" r="0.9"/><circle cx="369.94" cy="328.77" r="0.9"/><circle cx="367.30" cy="333.02" r="0.9"/><circle cx="366.90" cy="353.28" r="0.9"/><circle cx="371.54" cy="360.44" r="0.9"/><circle cx="369.59" cy="341.27" r="0.9"/><circle cx="370.70" cy="351.40" r="0.9"/><circle cx="367.19" cy="317.13" r="0.9"/><circle cx="369.87" cy="380.47" r="0.9"/><circle cx="368.44" cy="321.59" r="0.9"/><circle cx="368.38" cy="346.32" r="0.9"/><circle cx="371.48" cy="312.94" r="0.9"/><circle cx="370.76" cy="315.21" r="0.9"/><circle cx="371.24" cy="373.19" r="0.9"/><circle cx="367.18" cy="341.65" r="0.9"/><circle cx="368.78" cy="313.85" r="0.9"/><circle cx="366.64" cy="358.09" r="0.9"/><circle cx="370.87" cy="329.50" r="0.9"/><circle cx="369.91" cy="362.95" r="0.9"/><circle cx="367.16" cy="335.33" r="0.9"/><circle cx="371.48" cy="333.32" r="0.9"/><circle cx="371.62" cy="336.50" r="0.9"/><circle cx="368.78" cy="305.44" r="0.9"/><circle cx="371.74" cy="329.73" r="0.9"/><circle cx="368.78" cy="342.97" r="0.9"/><circle cx="370.40" cy="345.62" r="0.9"/><circle cx="366.89" cy="342.31" r="0.9"/><circle cx="366.75" cy="385.39" r="0.9"/><circle cx="371.46" cy="351.28" r="0.9"/><circle cx="371.59" cy="358.66" r="0.9"/><circle cx="369.49" cy="325.12" r="0.9"/><circle cx="366.72" cy="323.08" r="0.9"/><circle cx="369.03" cy="339.43" r="0.9"/><circle cx="371.28" cy="350.50" r="0.9"/><circle cx="368.36" cy="353.53" r="0.9"/><circle cx="369.77" cy="329.82" r="0.9"/><circle cx="369.31" cy="330.52" r="0.9"/><circle cx="368.68" cy="335.20" r="0.9"/><circle cx="370.97" cy="333.05" r="0.9"/><circle cx="371.53" cy="325.29" r="0.9"/><circle cx="367.18" cy="347.49" r="0.9"/><circle cx="371.16" cy="359.46" r="0.9"/><circle cx="371.66" cy="326.68" r="0.9"/><circle cx="369.78" cy="340.10" r="0.9"/><circle cx="369.65" cy="337.25" r="0.9"/><circle cx="369.35" cy="336.94" r="0.9"/><circle cx="371.41" cy="346.54" r="0.9"/><circle cx="369.27" cy="318.05" r="0.9"/><circle cx="369.45" cy="313.76" r="0.9"/><circle cx="371.41" cy="329.31" r="0.9"/><circle cx="367.24" cy="330.28" r="0.9"/><circle cx="369.94" cy="384.41" r="0.9"/><circle cx="367.23" cy="394.13" r="0.9"/><circle cx="366.80" cy="317.90" r="0.9"/><circle cx="367.31" cy="356.29" r="0.9"/><circle cx="368.06" cy="323.03" r="0.9"/><circle cx="370.68" cy="325.15" r="0.9"/><circle cx="369.37" cy="303.92" r="0.9"/><circle cx="371.40" cy="364.19" r="0.9"/><circle cx="367.42" cy="334.53" r="0.9"/></g>
<path d="M292.40,239.40 V418.60 H398.00" fill="none" stroke="#8c8c8c" stroke-width="1.1"/>
<line x1="290.20" y1="410.40" x2="292.40" y2="410.40" stroke="#8c8c8c" stroke-width="1"/>
<text x="288.90" y="414.80" text-anchor="end" class="tk">0</text>
<line x1="290.20" y1="362.43" x2="292.40" y2="362.43" stroke="#8c8c8c" stroke-width="1"/>
<text x="288.90" y="366.83" text-anchor="end" class="tk">5</text>
<line x1="290.20" y1="314.47" x2="292.40" y2="314.47" stroke="#8c8c8c" stroke-width="1"/>
<text x="288.90" y="318.87" text-anchor="end" class="tk">10</text>
<line x1="290.20" y1="266.50" x2="292.40" y2="266.50" stroke="#8c8c8c" stroke-width="1"/>
<text x="288.90" y="270.90" text-anchor="end" class="tk">15</text>
<line x1="321.00" y1="418.60" x2="321.00" y2="420.40" stroke="#8c8c8c" stroke-width="1"/>
<text x="321.00" y="431.80" text-anchor="middle" class="xl" font-size="11.00">HC</text>
<line x1="369.20" y1="418.60" x2="369.20" y2="420.40" stroke="#8c8c8c" stroke-width="1"/>
<text x="369.20" y="431.80" text-anchor="middle" class="xl" font-size="11.00">PCC</text>
<text x="344.80" y="235.00" text-anchor="middle" class="tt" font-size="11.90">SdCRA</text>
<text x="345.00" y="246.90" text-anchor="middle" class="st">*</text>
<path d="M321.00,254.40 V250.00 H369.20 V254.40" fill="none" stroke="#1a1a1a" stroke-width="1.5" stroke-linecap="round" stroke-linejoin="round"/>
<path d="M467.10,276.04 L473.20,276.04 L474.02,278.29 L474.85,280.54 L475.69,282.79 L476.52,285.04 L477.33,287.29 L478.11,289.54 L478.84,291.79 L479.54,294.03 L480.22,296.28 L480.89,298.53 L481.53,300.78 L482.17,303.03 L482.78,305.28 L483.38,307.53 L483.96,309.78 L484.53,312.03 L485.08,314.28 L485.62,316.53 L486.15,318.78 L486.65,321.03 L487.14,323.28 L487.61,325.53 L488.06,327.77 L488.49,330.02 L488.87,332.27 L489.05,334.52 L489.10,336.77 L489.09,339.02 L489.01,341.27 L488.82,343.52 L488.53,345.77 L488.22,348.02 L487.90,350.27 L487.53,352.52 L487.08,354.77 L486.53,357.02 L485.88,359.27 L485.14,361.51 L484.34,363.76 L483.50,366.01 L482.63,368.26 L481.75,370.51 L480.87,372.76 L480.01,375.01 L479.13,377.26 L478.23,379.51 L477.33,381.76 L476.42,384.01 L475.52,386.26 L474.63,388.51 L473.75,390.76 L472.86,393.01 L471.97,395.25 L471.09,397.50 L470.25,399.75 L469.49,402.00 L468.85,404.25 L468.45,406.50 L468.19,408.75 L467.90,411.00 L467.10,411.00 Z" fill="#FBB7B3" stroke="#F8766D" stroke-width="0.5"/>
<path d="M515.10,276.04 L517.90,276.04 L518.56,278.29 L519.21,280.54 L519.85,282.79 L520.50,285.04 L521.16,287.29 L521.84,289.54 L522.54,291.79 L523.27,294.03 L524.02,296.28 L524.79,298.53 L525.56,300.78 L526.33,303.03 L527.10,305.28 L527.84,307.53 L528.57,309.78 L529.25,312.03 L529.93,314.28 L530.59,316.53 L531.24,318.78 L531.87,321.03 L532.48,323.28 L533.06,325.53 L533.62,327.77 L534.14,330.02 L534.64,332.27 L535.12,334.52 L535.59,336.77 L536.03,339.02 L536.44,341.27 L536.82,343.52 L537.15,345.77 L537.43,348.02 L537.64,350.27 L537.78,352.52 L537.79,354.77 L537.68,357.02 L537.47,359.27 L537.16,361.51 L536.76,363.76 L536.26,366.01 L535.67,368.26 L535.00,370.51 L534.28,372.76 L533.53,375.01 L532.78,377.26 L532.05,379.51 L531.35,381.76 L530.66,384.01 L529.96,386.26 L529.26,388.51 L528.55,390.76 L527.85,393.01 L527.15,395.25 L526.45,397.50 L525.77,399.75 L525.09,402.00 L524.40,404.25 L523.70,406.50 L523.00,408.75 L522.30,411.00 L515.10,411.00 Z" fill="#80DEE0" stroke="#00BFC4" stroke-width="0.5"/>
<line x1="462.30" y1="276.04" x2="462.30" y2="411.00" stroke="#F8766D" stroke-width="0.6"/>
<rect x="459.20" y="303.67" width="5.6" height="46.40" fill="#F8766D" fill-opacity="0.22" stroke="#F8766D" stroke-width="0.5" stroke-opacity="0.5"/>
<g fill="#F8766D" fill-opacity="0.85"><circle cx="464.46" cy="302.27" r="0.9"/><circle cx="462.79" cy="352.14" r="0.9"/><circle cx="463.21" cy="292.22" r="0.9"/><circle cx="463.26" cy="321.84" r="0.9"/><circle cx="461.70" cy="347.37" r="0.9"/><circle cx="461.81" cy="309.64" r="0.9"/><circle cx="463.80" cy="286.35" r="0.9"/><circle cx="460.77" cy="319.21" r="0.9"/><circle cx="462.67" cy="331.93" r="0.9"/><circle cx="462.73" cy="353.68" r="0.9"/><circle cx="463.04" cy="332.95" r="0.9"/><circle cx="463.64" cy="367.28" r="0.9"/><circle cx="461.35" cy="351.19" r="0.9"/><circle cx="462.99" cy="338.74" r="0.9"/><circle cx="461.60" cy="345.83" r="0.9"/><circle cx="459.78" cy="322.70" r="0.9"/><circle cx="462.51" cy="288.68" r="0.9"/><circle cx="463.51" cy="339.85" r="0.9"/><circle cx="464.71" cy="352.84" r="0.9"/><circle cx="464.58" cy="345.53" r="0.9"/><circle cx="462.70" cy="316.30" r="0.9"/><circle cx="460.27" cy="299.17" r="0.9"/><circle cx="463.35" cy="333.64" r="0.9"/><circle cx="460.53" cy="314.77" r="0.9"/><circle cx="464.72" cy="286.96" r="0.9"/><circle cx="463.95" cy="326.43" r="0.9"/><circle cx="460.31" cy="290.18" r="0.9"/><circle cx="463.99" cy="355.09" r="0.9"/><circle cx="461.33" cy="362.40" r="0.9"/><circle cx="463.31" cy="295.24" r="0.9"/><circle cx="463.29" cy="330.46" r="0.9"/><circle cx="462.35" cy="351.65" r="0.9"/><circle cx="460.75" cy="358.51" r="0.9"/><circle cx="460.03" cy="290.02" r="0.9"/><circle cx="464.85" cy="380.49" r="0.9"/><circle cx="464.20" cy="332.66" r="0.9"/><circle cx="460.26" cy="315.22" r="0.9"/><circle cx="462.52" cy="287.33" r="0.9"/><circle cx="463.45" cy="307.70" r="0.9"/><circle cx="464.56" cy="339.46" r="0.9"/><circle cx="462.87" cy="350.36" r="0.9"/><circle cx="462.66" cy="355.05" r="0.9"/><circle cx="460.58" cy="339.05" r="0.9"/><circle cx="463.34" cy="277.99" r="0.9"/><circle cx="462.26" cy="342.47" r="0.9"/><circle cx="462.46" cy="359.59" r="0.9"/><circle cx="461.30" cy="318.86" r="0.9"/><circle cx="461.61" cy="285.89" r="0.9"/><circle cx="464.40" cy="335.57" r="0.9"/><circle cx="460.71" cy="284.32" r="0.9"/><circle cx="462.18" cy="346.43" r="0.9"/><circle cx="462.01" cy="319.89" r="0.9"/><circle cx="462.17" cy="289.22" r="0.9"/><circle cx="460.97" cy="344.13" r="0.9"/><circle cx="459.94" cy="336.00" r="0.9"/><circle cx="463.97" cy="303.42" r="0.9"/><circle cx="460.44" cy="282.78" r="0.9"/><circle cx="462.64" cy="305.10" r="0.9"/><circle cx="464.47" cy="390.85" r="0.9"/><circle cx="460.42" cy="354.92" r="0.9"/><circle cx="462.67" cy="286.34" r="0.9"/><circle cx="461.02" cy="286.82" r="0.9"/><circle cx="463.61" cy="285.20" r="0.9"/><circle cx="460.71" cy="383.14" r="0.9"/><circle cx="460.88" cy="356.16" r="0.9"/><circle cx="463.09" cy="363.38" r="0.9"/><circle cx="462.91" cy="298.79" r="0.9"/><circle cx="459.87" cy="344.62" r="0.9"/><circle cx="460.22" cy="345.28" r="0.9"/><circle cx="463.77" cy="274.42" r="0.9"/><circle cx="461.34" cy="291.16" r="0.9"/><circle cx="462.52" cy="293.49" r="0.9"/><circle cx="460.10" cy="363.75" r="0.9"/><circle cx="463.87" cy="372.67" r="0.9"/><circle cx="460.14" cy="316.73" r="0.9"/><circle cx="460.42" cy="359.91" r="0.9"/><circle cx="460.64" cy="313.99" r="0.9"/><circle cx="462.37" cy="364.04" r="0.9"/><circle cx="462.00" cy="305.44" r="0.9"/><circle cx="462.61" cy="362.98" r="0.9"/><circle cx="464.26" cy="316.46" r="0.9"/><circle cx="462.43" cy="327.98" r="0.9"/><circle cx="463.81" cy="341.05" r="0.9"/><circle cx="462.65" cy="353.25" r="0.9"/><circle cx="460.12" cy="348.06" r="0.9"/></g>
<line x1="510.20" y1="276.04" x2="510.20" y2="411.00" stroke="#00BFC4" stroke-width="0.6"/>
<rect x="507.10" y="328.98" width="5.6" height="39.80" fill="#00BFC4" fill-opacity="0.22" stroke="#00BFC4" stroke-width="0.5" stroke-opacity="0.5"/>
<g fill="#00BFC4" fill-opacity="0.85"><circle cx="510.44" cy="342.39" r="0.9"/><circle cx="509.37" cy="384.88" r="0.9"/><circle cx="511.20" cy="371.88" r="0.9"/><circle cx="508.61" cy="293.84" r="0.9"/><circle cx="511.21" cy="356.68" r="0.9"/><circle cx="511.47" cy="347.29" r="0.9"/><circle cx="507.99" cy="373.67" r="0.9"/><circle cx="511.90" cy="351.15" r="0.9"/><circle cx="511.05" cy="319.86" r="0.9"/><circle cx="512.29" cy="395.33" r="0.9"/><circle cx="510.73" cy="364.03" r="0.9"/><circle cx="511.38" cy="404.36" r="0.9"/><circle cx="509.78" cy="329.54" r="0.9"/><circle cx="509.98" cy="292.13" r="0.9"/><circle cx="510.91" cy="371.93" r="0.9"/><circle cx="510.65" cy="356.38" r="0.9"/><circle cx="512.72" cy="341.47" r="0.9"/><circle cx="510.83" cy="336.68" r="0.9"/><circle cx="508.16" cy="351.71" r="0.9"/><circle cx="510.58" cy="357.44" r="0.9"/><circle cx="509.85" cy="362.05" r="0.9"/><circle cx="510.58" cy="390.49" r="0.9"/><circle cx="512.42" cy="374.82" r="0.9"/><circle cx="509.62" cy="356.41" r="0.9"/><circle cx="511.71" cy="366.41" r="0.9"/><circle cx="512.14" cy="334.91" r="0.9"/><circle cx="509.95" cy="338.53" r="0.9"/><circle cx="508.66" cy="368.07" r="0.9"/><circle cx="512.15" cy="359.93" r="0.9"/><circle cx="508.68" cy="372.08" r="0.9"/><circle cx="509.54" cy="395.22" r="0.9"/><circle cx="508.00" cy="361.33" r="0.9"/><circle cx="510.49" cy="360.96" r="0.9"/><circle cx="511.08" cy="352.52" r="0.9"/><circle cx="509.45" cy="361.32" r="0.9"/><circle cx="509.15" cy="367.98" r="0.9"/><circle cx="511.64" cy="351.17" r="0.9"/><circle cx="511.55" cy="350.74" r="0.9"/><circle cx="507.69" cy="317.85" r="0.9"/><circle cx="508.08" cy="328.27" r="0.9"/><circle cx="511.80" cy="366.19" r="0.9"/><circle cx="511.88" cy="340.94" r="0.9"/><circle cx="511.98" cy="364.92" r="0.9"/><circle cx="510.08" cy="358.05" r="0.9"/><circle cx="509.81" cy="386.87" r="0.9"/><circle cx="510.68" cy="305.64" r="0.9"/><circle cx="507.96" cy="353.79" r="0.9"/><circle cx="508.88" cy="322.68" r="0.9"/><circle cx="510.78" cy="388.00" r="0.9"/><circle cx="509.41" cy="309.11" r="0.9"/><circle cx="511.32" cy="395.56" r="0.9"/><circle cx="512.76" cy="395.40" r="0.9"/><circle cx="509.64" cy="375.57" r="0.9"/><circle cx="510.82" cy="334.41" r="0.9"/><circle cx="508.01" cy="339.16" r="0.9"/><circle cx="512.40" cy="320.45" r="0.9"/><circle cx="510.78" cy="305.06" r="0.9"/><circle cx="508.21" cy="361.44" r="0.9"/><circle cx="509.34" cy="304.72" r="0.9"/><circle cx="509.20" cy="304.17" r="0.9"/><circle cx="509.92" cy="367.06" r="0.9"/><circle cx="510.55" cy="361.53" r="0.9"/><circle cx="511.36" cy="321.75" r="0.9"/><circle cx="508.02" cy="401.12" r="0.9"/><circle cx="512.45" cy="388.73" r="0.9"/><circle cx="512.36" cy="361.92" r="0.9"/><circle cx="508.24" cy="333.10" r="0.9"/><circle cx="508.68" cy="369.74" r="0.9"/><circle cx="507.81" cy="352.53" r="0.9"/><circle cx="507.78" cy="335.20" r="0.9"/><circle cx="512.57" cy="328.08" r="0.9"/><circle cx="512.17" cy="400.68" r="0.9"/><circle cx="508.32" cy="355.43" r="0.9"/><circle cx="511.57" cy="347.04" r="0.9"/><circle cx="511.25" cy="356.12" r="0.9"/><circle cx="507.83" cy="360.51" r="0.9"/><circle cx="508.44" cy="311.71" r="0.9"/><circle cx="509.21" cy="342.16" r="0.9"/><circle cx="511.73" cy="376.41" r="0.9"/><circle cx="509.05" cy="330.36" r="0.9"/><circle cx="509.28" cy="322.91" r="0.9"/><circle cx="512.03" cy="365.66" r="0.9"/><circle cx="510.89" cy="290.62" r="0.9"/><circle cx="511.04" cy="353.26" r="0.9"/><circle cx="511.26" cy="383.61" r="0.9"/><circle cx="512.43" cy="322.33" r="0.9"/><circle cx="511.45" cy="326.39" r="0.9"/><circle cx="510.70" cy="327.81" r="0.9"/><circle cx="511.04" cy="362.78" r="0.9"/><circle cx="510.24" cy="358.79" r="0.9"/><circle cx="512.17" cy="344.29" r="0.9"/><circle cx="512.10" cy="357.34" r="0.9"/><circle cx="512.58" cy="292.14" r="0.9"/><circle cx="509.16" cy="353.52" r="0.9"/><circle cx="511.73" cy="353.34" r="0.9"/><circle cx="508.78" cy="382.40" r="0.9"/><circle cx="508.90" cy="316.96" r="0.9"/><circle cx="507.92" cy="351.79" r="0.9"/><circle cx="509.78" cy="339.99" r="0.9"/><circle cx="510.29" cy="401.58" r="0.9"/><circle cx="511.60" cy="333.71" r="0.9"/><circle cx="507.74" cy="379.76" r="0.9"/><circle cx="508.32" cy="389.78" r="0.9"/><circle cx="510.45" cy="373.98" r="0.9"/><circle cx="512.37" cy="345.18" r="0.9"/><circle cx="510.42" cy="320.58" r="0.9"/><circle cx="512.58" cy="320.62" r="0.9"/><circle cx="510.37" cy="349.94" r="0.9"/><circle cx="508.15" cy="346.65" r="0.9"/><circle cx="508.63" cy="385.35" r="0.9"/><circle cx="510.74" cy="318.50" r="0.9"/><circle cx="510.31" cy="325.78" r="0.9"/><circle cx="512.20" cy="303.36" r="0.9"/><circle cx="511.92" cy="350.63" r="0.9"/><circle cx="510.19" cy="313.07" r="0.9"/><circle cx="512.64" cy="321.13" r="0.9"/><circle cx="507.67" cy="325.50" r="0.9"/><circle cx="511.47" cy="342.26" r="0.9"/><circle cx="508.74" cy="357.30" r="0.9"/><circle cx="510.63" cy="328.62" r="0.9"/><circle cx="510.40" cy="335.39" r="0.9"/><circle cx="509.51" cy="350.77" r="0.9"/><circle cx="512.16" cy="351.66" r="0.9"/><circle cx="507.79" cy="327.21" r="0.9"/><circle cx="511.48" cy="363.98" r="0.9"/><circle cx="511.40" cy="408.48" r="0.9"/><circle cx="510.19" cy="360.62" r="0.9"/><circle cx="509.61" cy="331.33" r="0.9"/><circle cx="510.48" cy="327.83" r="0.9"/><circle cx="510.27" cy="349.96" r="0.9"/><circle cx="512.63" cy="339.24" r="0.9"/><circle cx="511.21" cy="337.99" r="0.9"/><circle cx="510.98" cy="349.95" r="0.9"/><circle cx="509.70" cy="311.20" r="0.9"/><circle cx="510.04" cy="330.45" r="0.9"/><circle cx="511.42" cy="304.98" r="0.9"/><circle cx="509.37" cy="345.48" r="0.9"/><circle cx="511.44" cy="311.34" r="0.9"/><circle cx="510.44" cy="368.31" r="0.9"/><circle cx="507.82" cy="379.42" r="0.9"/><circle cx="509.06" cy="367.31" r="0.9"/><circle cx="509.70" cy="341.42" r="0.9"/><circle cx="512.12" cy="327.05" r="0.9"/><circle cx="508.38" cy="396.98" r="0.9"/><circle cx="508.10" cy="333.46" r="0.9"/><circle cx="509.76" cy="358.56" r="0.9"/><circle cx="512.42" cy="354.77" r="0.9"/><circle cx="507.74" cy="359.18" r="0.9"/><circle cx="511.37" cy="314.84" r="0.9"/><circle cx="507.74" cy="341.37" r="0.9"/><circle cx="511.57" cy="320.82" r="0.9"/><circle cx="508.38" cy="394.56" r="0.9"/><circle cx="510.00" cy="382.45" r="0.9"/><circle cx="508.15" cy="327.52" r="0.9"/><circle cx="509.61" cy="329.34" r="0.9"/><circle cx="509.75" cy="323.44" r="0.9"/><circle cx="511.38" cy="343.21" r="0.9"/><circle cx="511.03" cy="374.52" r="0.9"/><circle cx="510.67" cy="372.62" r="0.9"/><circle cx="512.32" cy="363.86" r="0.9"/><circle cx="510.78" cy="326.83" r="0.9"/><circle cx="511.35" cy="375.12" r="0.9"/><circle cx="507.83" cy="386.42" r="0.9"/><circle cx="510.35" cy="371.75" r="0.9"/><circle cx="509.00" cy="329.63" r="0.9"/><circle cx="508.28" cy="357.20" r="0.9"/><circle cx="510.03" cy="388.74" r="0.9"/><circle cx="511.90" cy="396.81" r="0.9"/><circle cx="512.29" cy="314.73" r="0.9"/><circle cx="510.29" cy="321.22" r="0.9"/><circle cx="511.96" cy="384.30" r="0.9"/><circle cx="510.91" cy="314.35" r="0.9"/><circle cx="509.90" cy="367.08" r="0.9"/><circle cx="511.26" cy="310.54" r="0.9"/><circle cx="510.97" cy="337.57" r="0.9"/><circle cx="512.29" cy="325.17" r="0.9"/><circle cx="508.05" cy="343.62" r="0.9"/><circle cx="509.41" cy="344.38" r="0.9"/><circle cx="510.27" cy="383.05" r="0.9"/><circle cx="510.64" cy="352.84" r="0.9"/><circle cx="511.64" cy="395.44" r="0.9"/><circle cx="511.92" cy="331.78" r="0.9"/><circle cx="508.88" cy="351.97" r="0.9"/><circle cx="509.80" cy="334.52" r="0.9"/><circle cx="510.28" cy="331.32" r="0.9"/><circle cx="512.06" cy="371.30" r="0.9"/><circle cx="508.82" cy="363.41" r="0.9"/><circle cx="511.33" cy="315.01" r="0.9"/><circle cx="509.20" cy="355.83" r="0.9"/><circle cx="510.59" cy="368.70" r="0.9"/><circle cx="508.23" cy="365.57" r="0.9"/><circle cx="508.92" cy="345.19" r="0.9"/><circle cx="512.49" cy="389.46" r="0.9"/><circle cx="508.81" cy="367.71" r="0.9"/><circle cx="508.56" cy="355.80" r="0.9"/><circle cx="508.97" cy="287.08" r="0.9"/><circle cx="512.22" cy="345.13" r="0.9"/><circle cx="509.08" cy="280.45" r="0.9"/><circle cx="510.97" cy="312.82" r="0.9"/><circle cx="512.38" cy="338.34" r="0.9"/><circle cx="512.11" cy="403.11" r="0.9"/><circle cx="512.45" cy="376.84" r="0.9"/><circle cx="512.14" cy="368.61" r="0.9"/><circle cx="507.70" cy="345.18" r="0.9"/><circle cx="509.98" cy="336.10" r="0.9"/><circle cx="511.24" cy="355.09" r="0.9"/><circle cx="509.68" cy="337.04" r="0.9"/><circle cx="511.37" cy="360.96" r="0.9"/><circle cx="508.95" cy="379.01" r="0.9"/><circle cx="508.33" cy="326.49" r="0.9"/><circle cx="510.03" cy="321.41" r="0.9"/><circle cx="511.98" cy="349.39" r="0.9"/><circle cx="510.64" cy="321.88" r="0.9"/><circle cx="511.51" cy="406.79" r="0.9"/><circle cx="508.15" cy="381.38" r="0.9"/><circle cx="511.37" cy="350.86" r="0.9"/><circle cx="510.44" cy="368.04" r="0.9"/><circle cx="509.25" cy="346.98" r="0.9"/><circle cx="511.41" cy="296.15" r="0.9"/><circle cx="507.97" cy="316.39" r="0.9"/><circle cx="509.30" cy="386.58" r="0.9"/><circle cx="508.66" cy="342.13" r="0.9"/><circle cx="512.59" cy="359.56" r="0.9"/><circle cx="509.04" cy="363.51" r="0.9"/><circle cx="510.08" cy="342.74" r="0.9"/><circle cx="510.16" cy="319.51" r="0.9"/><circle cx="507.61" cy="306.29" r="0.9"/><circle cx="509.97" cy="362.98" r="0.9"/><circle cx="511.80" cy="379.96" r="0.9"/><circle cx="507.71" cy="321.27" r="0.9"/><circle cx="509.39" cy="286.30" r="0.9"/><circle cx="511.66" cy="362.72" r="0.9"/><circle cx="508.32" cy="333.96" r="0.9"/><circle cx="512.75" cy="337.00" r="0.9"/><circle cx="510.52" cy="367.95" r="0.9"/><circle cx="512.49" cy="394.99" r="0.9"/><circle cx="508.84" cy="384.72" r="0.9"/><circle cx="512.77" cy="342.52" r="0.9"/><circle cx="507.62" cy="327.41" r="0.9"/><circle cx="508.65" cy="346.70" r="0.9"/><circle cx="510.23" cy="321.13" r="0.9"/><circle cx="508.06" cy="386.43" r="0.9"/><circle cx="511.99" cy="390.47" r="0.9"/><circle cx="512.44" cy="363.73" r="0.9"/><circle cx="508.11" cy="330.00" r="0.9"/><circle cx="511.37" cy="366.32" r="0.9"/><circle cx="510.20" cy="353.95" r="0.9"/><circle cx="508.05" cy="371.55" r="0.9"/><circle cx="512.14" cy="398.97" r="0.9"/><circle cx="510.17" cy="366.10" r="0.9"/><circle cx="508.36" cy="338.50" r="0.9"/><circle cx="511.10" cy="311.89" r="0.9"/><circle cx="509.74" cy="379.00" r="0.9"/><circle cx="512.78" cy="339.10" r="0.9"/><circle cx="510.38" cy="407.28" r="0.9"/><circle cx="508.81" cy="363.66" r="0.9"/><circle cx="511.69" cy="346.10" r="0.9"/><circle cx="512.47" cy="356.16" r="0.9"/><circle cx="509.53" cy="401.72" r="0.9"/><circle cx="511.70" cy="330.05" r="0.9"/></g>
<path d="M433.00,238.90 V419.70 H539.60" fill="none" stroke="#8c8c8c" stroke-width="1.1"/>
<line x1="430.80" y1="411.00" x2="433.00" y2="411.00" stroke="#8c8c8c" stroke-width="1"/>
<text x="429.50" y="415.40" text-anchor="end" class="tk">0</text>
<line x1="430.80" y1="362.80" x2="433.00" y2="362.80" stroke="#8c8c8c" stroke-width="1"/>
<text x="429.50" y="367.20" text-anchor="end" class="tk">5</text>
<line x1="430.80" y1="314.60" x2="433.00" y2="314.60" stroke="#8c8c8c" stroke-width="1"/>
<text x="429.50" y="319.00" text-anchor="end" class="tk">10</text>
<line x1="430.80" y1="266.40" x2="433.00" y2="266.40" stroke="#8c8c8c" stroke-width="1"/>
<text x="429.50" y="270.80" text-anchor="end" class="tk">15</text>
<line x1="462.30" y1="419.70" x2="462.30" y2="421.50" stroke="#8c8c8c" stroke-width="1"/>
<text x="462.30" y="432.90" text-anchor="middle" class="xl" font-size="11.00">HC</text>
<line x1="510.20" y1="419.70" x2="510.20" y2="421.50" stroke="#8c8c8c" stroke-width="1"/>
<text x="510.20" y="432.90" text-anchor="middle" class="xl" font-size="11.00">PCC</text>
<text x="486.25" y="234.50" text-anchor="middle" class="tt" font-size="11.90">SdFRA</text>
<text x="486.40" y="246.90" text-anchor="middle" class="st">*</text>
<path d="M462.30,254.40 V249.75 H510.20 V254.40" fill="none" stroke="#1a1a1a" stroke-width="1.5" stroke-linecap="round" stroke-linejoin="round"/>
</svg>
</body></html>
